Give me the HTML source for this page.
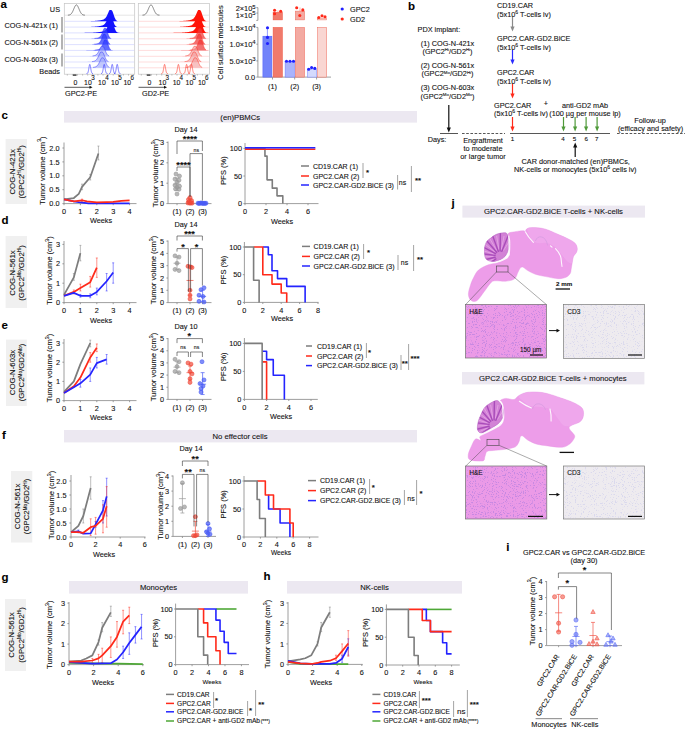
<!DOCTYPE html><html><head><meta charset="utf-8"><style>html,body{margin:0;padding:0;background:#fff;}svg text{stroke:#111;stroke-width:0.1px;}svg{display:block;font-family:"Liberation Sans",sans-serif;}</style></head><body><svg width="685" height="729" viewBox="0 0 685 729" font-family="Liberation Sans, sans-serif"><defs><filter id="speck1" x="0" y="0" width="100%" height="100%" color-interpolation-filters="sRGB"><feTurbulence type="fractalNoise" baseFrequency="0.9" numOctaves="2" seed="1" result="n"/><feColorMatrix in="n" type="matrix" values="0 0 0 0 0  0 0 0 0 0  0 0 0 0 0  -12 0 0 0 5.04" result="a"/><feComposite in="SourceGraphic" in2="a" operator="in"/></filter><filter id="speck2" x="0" y="0" width="100%" height="100%" color-interpolation-filters="sRGB"><feTurbulence type="fractalNoise" baseFrequency="0.9" numOctaves="2" seed="2" result="n"/><feColorMatrix in="n" type="matrix" values="0 0 0 0 0  0 0 0 0 0  0 0 0 0 0  -12 0 0 0 4.8" result="a"/><feComposite in="SourceGraphic" in2="a" operator="in"/></filter><filter id="speck3" x="0" y="0" width="100%" height="100%" color-interpolation-filters="sRGB"><feTurbulence type="fractalNoise" baseFrequency="0.9" numOctaves="2" seed="3" result="n"/><feColorMatrix in="n" type="matrix" values="0 0 0 0 0  0 0 0 0 0  0 0 0 0 0  -12 0 0 0 5.04" result="a"/><feComposite in="SourceGraphic" in2="a" operator="in"/></filter><filter id="speck4" x="0" y="0" width="100%" height="100%" color-interpolation-filters="sRGB"><feTurbulence type="fractalNoise" baseFrequency="0.9" numOctaves="2" seed="4" result="n"/><feColorMatrix in="n" type="matrix" values="0 0 0 0 0  0 0 0 0 0  0 0 0 0 0  -12 0 0 0 4.8" result="a"/><feComposite in="SourceGraphic" in2="a" operator="in"/></filter></defs><rect width="685" height="729" fill="#fff"/><text x="0.5" y="7.8" font-size="11.5" font-weight="bold" text-anchor="start" fill="#000">a</text>
<text x="60" y="12.23" font-size="7.3" text-anchor="end" font-weight="normal" fill="#111">US</text>
<text x="58" y="27.63" font-size="7.3" text-anchor="end" font-weight="normal" fill="#111">COG-N-421x (1)</text>
<text x="58" y="44.63" font-size="7.3" text-anchor="end" font-weight="normal" fill="#111">COG-N-561x (2)</text>
<text x="58" y="61.63" font-size="7.3" text-anchor="end" font-weight="normal" fill="#111">COG-N-603x (3)</text>
<text x="60" y="73.63" font-size="7.3" text-anchor="end" font-weight="normal" fill="#111">Beads</text>
<line x1="62" y1="17" x2="62" y2="32.5" stroke="#8a8a8a" stroke-width="1.3"/>
<line x1="62" y1="34.5" x2="62" y2="49.5" stroke="#8a8a8a" stroke-width="1.3"/>
<line x1="62" y1="53.5" x2="62" y2="66.5" stroke="#8a8a8a" stroke-width="1.3"/>
<rect x="64.3" y="3.5" width="70.4" height="70.7" fill="#fff" stroke="#c4c4c4" stroke-width="0.7"/>
<line x1="64.8" y1="15.2" x2="134.2" y2="15.2" stroke="#c8c8c8" stroke-width="0.5"/>
<line x1="64.8" y1="21.3" x2="134.2" y2="21.3" stroke="#bcc2ff" stroke-width="0.5"/>
<line x1="64.8" y1="27.1" x2="134.2" y2="27.1" stroke="#bcc2ff" stroke-width="0.5"/>
<line x1="64.8" y1="32.9" x2="134.2" y2="32.9" stroke="#bcc2ff" stroke-width="0.5"/>
<line x1="64.8" y1="38.8" x2="134.2" y2="38.8" stroke="#bcc2ff" stroke-width="0.5"/>
<line x1="64.8" y1="44.6" x2="134.2" y2="44.6" stroke="#bcc2ff" stroke-width="0.5"/>
<line x1="64.8" y1="50.4" x2="134.2" y2="50.4" stroke="#bcc2ff" stroke-width="0.5"/>
<line x1="64.8" y1="56.3" x2="134.2" y2="56.3" stroke="#bcc2ff" stroke-width="0.5"/>
<line x1="64.8" y1="62" x2="134.2" y2="62" stroke="#bcc2ff" stroke-width="0.5"/>
<line x1="64.8" y1="67.8" x2="134.2" y2="67.8" stroke="#bcc2ff" stroke-width="0.5"/>
<polyline points="67.9,15.15 68.01,15.14 68.11,15.14 68.22,15.13 68.33,15.12 68.43,15.11 68.54,15.09 68.64,15.08 68.75,15.06 68.86,15.05 68.96,15.03 69.07,15.01 69.18,14.98 69.28,14.96 69.39,14.93 69.49,14.9 69.6,14.86 69.71,14.83 69.81,14.78 69.92,14.74 70.03,14.69 70.13,14.64 70.24,14.58 70.34,14.52 70.45,14.45 70.56,14.38 70.66,14.3 70.77,14.21 70.88,14.12 70.98,14.03 71.09,13.92 71.19,13.81 71.3,13.7 71.41,13.57 71.51,13.44 71.62,13.3 71.73,13.15 71.83,13 71.94,12.84 72.04,12.67 72.15,12.49 72.26,12.31 72.36,12.12 72.47,11.92 72.58,11.71 72.68,11.5 72.79,11.28 72.89,11.05 73,10.82 73.11,10.58 73.21,10.34 73.32,10.1 73.43,9.85 73.53,9.6 73.64,9.34 73.74,9.09 73.85,8.83 73.96,8.58 74.06,8.32 74.17,8.07 74.28,7.82 74.38,7.58 74.49,7.34 74.59,7.11 74.7,6.88 74.81,6.66 74.91,6.45 75.02,6.26 75.12,6.07 75.23,5.89 75.34,5.73 75.44,5.57 75.55,5.44 75.66,5.31 75.76,5.21 75.87,5.11 75.98,5.04 76.08,4.98 76.19,4.93 76.29,4.91 76.4,4.9 76.51,4.91 76.61,4.93 76.72,4.98 76.83,5.04 76.93,5.11 77.04,5.21 77.14,5.31 77.25,5.44 77.36,5.57 77.46,5.73 77.57,5.89 77.68,6.07 77.78,6.26 77.89,6.45 77.99,6.66 78.1,6.88 78.21,7.11 78.31,7.34 78.42,7.58 78.53,7.82 78.63,8.07 78.74,8.32 78.84,8.58 78.95,8.83 79.06,9.09 79.16,9.34 79.27,9.6 79.38,9.85 79.48,10.1 79.59,10.34 79.69,10.58 79.8,10.82 79.91,11.05 80.01,11.28 80.12,11.5 80.23,11.71 80.33,11.92 80.44,12.12 80.54,12.31 80.65,12.49 80.76,12.67 80.86,12.84 80.97,13 81.08,13.15 81.18,13.3 81.29,13.44 81.39,13.57 81.5,13.7 81.61,13.81 81.71,13.92 81.82,14.03 81.93,14.12 82.03,14.21 82.14,14.3 82.24,14.38 82.35,14.45 82.46,14.52 82.56,14.58 82.67,14.64 82.78,14.69 82.88,14.74 82.99,14.78 83.09,14.83 83.2,14.86 83.31,14.9 83.41,14.93 83.52,14.96 83.62,14.98 83.73,15.01 83.84,15.03 83.94,15.05 84.05,15.06 84.16,15.08 84.26,15.09 84.37,15.11 84.48,15.12 84.58,15.13 84.69,15.14 84.79,15.14 84.9,15.15" fill="none" stroke="#222" stroke-width="0.55" stroke-linejoin="round"/>
<path d="M81.4,21.3 L81.4,21.29 L81.91,21.29 L82.43,21.29 L82.94,21.28 L83.45,21.28 L83.96,21.28 L84.48,21.27 L84.99,21.27 L85.5,21.26 L86.01,21.26 L86.53,21.25 L87.04,21.24 L87.55,21.23 L88.06,21.22 L88.58,21.21 L89.09,21.2 L89.6,21.18 L90.11,21.16 L90.62,21.14 L91.14,21.12 L91.65,21.1 L92.16,21.07 L92.68,21.04 L93.19,21.01 L93.7,20.98 L94.21,20.94 L94.73,20.9 L95.24,20.85 L95.75,20.81 L96.26,20.76 L96.78,20.7 L97.29,20.64 L97.8,20.58 L98.31,20.52 L98.83,20.45 L99.34,20.38 L99.85,20.31 L100.36,20.23 L100.88,20.15 L101.39,20.05 L101.9,19.94 L102.41,19.81 L102.93,19.66 L103.44,19.45 L103.95,19.2 L104.46,18.86 L104.98,18.43 L105.49,17.89 L106,17.21 L106.51,16.4 L107.03,15.44 L107.54,14.37 L108.05,13.21 L108.56,12.01 L109.08,10.84 L109.59,10.1 L110.1,10.1 L110.61,10.1 L111.12,10.1 L111.64,10.17 L112.15,10.73 L112.66,11.8 L113.18,13.21 L113.69,14.78 L114.2,16.32 L114.71,17.69 L115.23,18.83 L115.74,19.7 L116.25,20.31 L116.76,20.73 L117.28,20.98 L117.79,21.13 L118.3,21.22 L118.81,21.26 L119.33,21.28 L119.84,21.29 L120.35,21.3 L120.86,21.3 L121.38,21.3 L121.89,21.3 L122.4,21.3 L122.4,21.3 Z" fill="#1414ff" fill-opacity="1" stroke="none"/>
<path d="M80.8,27.1 L80.8,27.09 L81.31,27.09 L81.83,27.09 L82.34,27.08 L82.85,27.08 L83.36,27.08 L83.88,27.07 L84.39,27.07 L84.9,27.06 L85.41,27.06 L85.93,27.05 L86.44,27.04 L86.95,27.03 L87.46,27.02 L87.98,27.01 L88.49,27 L89,26.98 L89.51,26.96 L90.03,26.94 L90.54,26.92 L91.05,26.9 L91.56,26.87 L92.08,26.84 L92.59,26.81 L93.1,26.78 L93.61,26.74 L94.13,26.7 L94.64,26.65 L95.15,26.61 L95.66,26.56 L96.18,26.5 L96.69,26.44 L97.2,26.38 L97.71,26.32 L98.23,26.25 L98.74,26.18 L99.25,26.11 L99.76,26.03 L100.28,25.95 L100.79,25.85 L101.3,25.74 L101.81,25.61 L102.33,25.46 L102.84,25.25 L103.35,25 L103.86,24.66 L104.38,24.23 L104.89,23.69 L105.4,23.01 L105.91,22.2 L106.43,21.24 L106.94,20.17 L107.45,19.01 L107.96,17.81 L108.48,16.64 L108.99,15.9 L109.5,15.9 L110.01,15.9 L110.53,15.9 L111.04,15.97 L111.55,16.53 L112.06,17.6 L112.58,19.01 L113.09,20.58 L113.6,22.12 L114.11,23.49 L114.63,24.63 L115.14,25.5 L115.65,26.11 L116.16,26.53 L116.68,26.78 L117.19,26.93 L117.7,27.02 L118.21,27.06 L118.73,27.08 L119.24,27.09 L119.75,27.1 L120.26,27.1 L120.78,27.1 L121.29,27.1 L121.8,27.1 L121.8,27.1 Z" fill="#1414ff" fill-opacity="1" stroke="none"/>
<path d="M81.8,32.9 L81.8,32.89 L82.31,32.89 L82.83,32.89 L83.34,32.88 L83.85,32.88 L84.36,32.88 L84.88,32.87 L85.39,32.87 L85.9,32.86 L86.41,32.86 L86.93,32.85 L87.44,32.84 L87.95,32.83 L88.46,32.82 L88.98,32.81 L89.49,32.8 L90,32.78 L90.51,32.76 L91.03,32.74 L91.54,32.72 L92.05,32.7 L92.56,32.67 L93.08,32.64 L93.59,32.61 L94.1,32.58 L94.61,32.54 L95.13,32.5 L95.64,32.45 L96.15,32.41 L96.66,32.36 L97.18,32.3 L97.69,32.24 L98.2,32.18 L98.71,32.12 L99.23,32.05 L99.74,31.98 L100.25,31.91 L100.76,31.83 L101.28,31.75 L101.79,31.65 L102.3,31.54 L102.81,31.41 L103.33,31.26 L103.84,31.05 L104.35,30.8 L104.86,30.46 L105.38,30.03 L105.89,29.49 L106.4,28.81 L106.91,28 L107.43,27.04 L107.94,25.97 L108.45,24.81 L108.96,23.61 L109.48,22.44 L109.99,21.7 L110.5,21.7 L111.01,21.7 L111.53,21.7 L112.04,21.77 L112.55,22.33 L113.06,23.4 L113.58,24.81 L114.09,26.38 L114.6,27.92 L115.11,29.29 L115.63,30.43 L116.14,31.3 L116.65,31.91 L117.16,32.33 L117.68,32.58 L118.19,32.73 L118.7,32.82 L119.21,32.86 L119.73,32.88 L120.24,32.89 L120.75,32.9 L121.26,32.9 L121.78,32.9 L122.29,32.9 L122.8,32.9 L122.8,32.9 Z" fill="#1414ff" fill-opacity="1" stroke="none"/>
<path d="M75.4,38.8 L75.4,38.8 L75.91,38.8 L76.43,38.8 L76.94,38.8 L77.45,38.8 L77.96,38.8 L78.48,38.8 L78.99,38.8 L79.5,38.8 L80.01,38.8 L80.53,38.8 L81.04,38.8 L81.55,38.8 L82.06,38.8 L82.58,38.79 L83.09,38.79 L83.6,38.79 L84.11,38.79 L84.62,38.78 L85.14,38.78 L85.65,38.78 L86.16,38.77 L86.68,38.76 L87.19,38.76 L87.7,38.75 L88.21,38.74 L88.73,38.73 L89.24,38.71 L89.75,38.7 L90.26,38.68 L90.78,38.66 L91.29,38.63 L91.8,38.61 L92.31,38.58 L92.83,38.55 L93.34,38.51 L93.85,38.48 L94.36,38.44 L94.88,38.39 L95.39,38.34 L95.9,38.29 L96.41,38.23 L96.93,38.16 L97.44,38.07 L97.95,37.96 L98.46,37.81 L98.98,37.59 L99.49,37.28 L100,36.85 L100.51,36.26 L101.03,35.49 L101.54,34.53 L102.05,33.4 L102.56,32.13 L103.08,30.79 L103.59,29.51 L104.1,28.39 L104.61,28.3 L105.12,28.3 L105.64,28.37 L106.15,28.95 L106.66,30.04 L107.18,31.45 L107.69,33 L108.2,34.48 L108.71,35.77 L109.23,36.8 L109.74,37.56 L110.25,38.07 L110.76,38.4 L111.28,38.59 L111.79,38.7 L112.3,38.75 L112.81,38.78 L113.33,38.79 L113.84,38.8 L114.35,38.8 L114.86,38.8 L115.38,38.8 L115.89,38.8 L116.4,38.8 L116.4,38.8 Z" fill="#3340ff" fill-opacity="0.78" stroke="none"/>
<polyline points="94.36,38.44 94.88,38.39 95.39,38.34 95.9,38.29 96.41,38.23 96.93,38.16 97.44,38.07 97.95,37.96 98.46,37.81 98.98,37.59 99.49,37.28 100,36.85 100.51,36.26 101.03,35.49 101.54,34.53 102.05,33.4 102.56,32.13 103.08,30.79 103.59,29.51 104.1,28.39 104.61,28.3 105.12,28.3 105.64,28.37 106.15,28.95 106.66,30.04 107.18,31.45 107.69,33 108.2,34.48 108.71,35.77 109.23,36.8 109.74,37.56 110.25,38.07 110.76,38.4" fill="none" stroke="#2424ff" stroke-width="0.45" stroke-linejoin="round"/>
<path d="M74.8,44.6 L74.8,44.6 L75.31,44.6 L75.83,44.6 L76.34,44.6 L76.85,44.6 L77.36,44.6 L77.88,44.6 L78.39,44.6 L78.9,44.6 L79.41,44.6 L79.93,44.6 L80.44,44.6 L80.95,44.6 L81.46,44.6 L81.98,44.59 L82.49,44.59 L83,44.59 L83.51,44.59 L84.03,44.58 L84.54,44.58 L85.05,44.58 L85.56,44.57 L86.08,44.56 L86.59,44.56 L87.1,44.55 L87.61,44.54 L88.13,44.53 L88.64,44.51 L89.15,44.5 L89.66,44.48 L90.18,44.46 L90.69,44.43 L91.2,44.41 L91.71,44.38 L92.23,44.35 L92.74,44.31 L93.25,44.28 L93.76,44.24 L94.28,44.19 L94.79,44.14 L95.3,44.09 L95.81,44.03 L96.33,43.96 L96.84,43.87 L97.35,43.76 L97.86,43.61 L98.38,43.39 L98.89,43.08 L99.4,42.65 L99.91,42.06 L100.43,41.29 L100.94,40.33 L101.45,39.2 L101.96,37.93 L102.48,36.59 L102.99,35.31 L103.5,34.19 L104.01,34.1 L104.53,34.1 L105.04,34.17 L105.55,34.75 L106.06,35.84 L106.58,37.25 L107.09,38.8 L107.6,40.28 L108.11,41.57 L108.63,42.6 L109.14,43.36 L109.65,43.87 L110.16,44.2 L110.68,44.39 L111.19,44.5 L111.7,44.55 L112.21,44.58 L112.73,44.59 L113.24,44.6 L113.75,44.6 L114.26,44.6 L114.78,44.6 L115.29,44.6 L115.8,44.6 L115.8,44.6 Z" fill="#3340ff" fill-opacity="0.78" stroke="none"/>
<polyline points="93.76,44.24 94.28,44.19 94.79,44.14 95.3,44.09 95.81,44.03 96.33,43.96 96.84,43.87 97.35,43.76 97.86,43.61 98.38,43.39 98.89,43.08 99.4,42.65 99.91,42.06 100.43,41.29 100.94,40.33 101.45,39.2 101.96,37.93 102.48,36.59 102.99,35.31 103.5,34.19 104.01,34.1 104.53,34.1 105.04,34.17 105.55,34.75 106.06,35.84 106.58,37.25 107.09,38.8 107.6,40.28 108.11,41.57 108.63,42.6 109.14,43.36 109.65,43.87 110.16,44.2" fill="none" stroke="#2424ff" stroke-width="0.45" stroke-linejoin="round"/>
<path d="M75.8,50.4 L75.8,50.4 L76.31,50.4 L76.83,50.4 L77.34,50.4 L77.85,50.4 L78.36,50.4 L78.88,50.4 L79.39,50.4 L79.9,50.4 L80.41,50.4 L80.93,50.4 L81.44,50.4 L81.95,50.4 L82.46,50.4 L82.98,50.39 L83.49,50.39 L84,50.39 L84.51,50.39 L85.03,50.38 L85.54,50.38 L86.05,50.38 L86.56,50.37 L87.08,50.36 L87.59,50.36 L88.1,50.35 L88.61,50.34 L89.13,50.33 L89.64,50.31 L90.15,50.3 L90.66,50.28 L91.18,50.26 L91.69,50.23 L92.2,50.21 L92.71,50.18 L93.23,50.15 L93.74,50.11 L94.25,50.08 L94.76,50.04 L95.28,49.99 L95.79,49.94 L96.3,49.89 L96.81,49.83 L97.33,49.76 L97.84,49.67 L98.35,49.56 L98.86,49.41 L99.38,49.19 L99.89,48.88 L100.4,48.45 L100.91,47.86 L101.43,47.09 L101.94,46.13 L102.45,45 L102.96,43.73 L103.48,42.39 L103.99,41.11 L104.5,39.99 L105.01,39.9 L105.53,39.9 L106.04,39.97 L106.55,40.55 L107.06,41.64 L107.58,43.05 L108.09,44.6 L108.6,46.08 L109.11,47.37 L109.63,48.4 L110.14,49.16 L110.65,49.67 L111.16,50 L111.68,50.19 L112.19,50.3 L112.7,50.35 L113.21,50.38 L113.73,50.39 L114.24,50.4 L114.75,50.4 L115.26,50.4 L115.78,50.4 L116.29,50.4 L116.8,50.4 L116.8,50.4 Z" fill="#3340ff" fill-opacity="0.78" stroke="none"/>
<polyline points="94.76,50.04 95.28,49.99 95.79,49.94 96.3,49.89 96.81,49.83 97.33,49.76 97.84,49.67 98.35,49.56 98.86,49.41 99.38,49.19 99.89,48.88 100.4,48.45 100.91,47.86 101.43,47.09 101.94,46.13 102.45,45 102.96,43.73 103.48,42.39 103.99,41.11 104.5,39.99 105.01,39.9 105.53,39.9 106.04,39.97 106.55,40.55 107.06,41.64 107.58,43.05 108.09,44.6 108.6,46.08 109.11,47.37 109.63,48.4 110.14,49.16 110.65,49.67 111.16,50" fill="none" stroke="#2424ff" stroke-width="0.45" stroke-linejoin="round"/>
<path d="M72.6,56.3 L72.6,56.3 L73.11,56.3 L73.62,56.3 L74.14,56.3 L74.65,56.3 L75.16,56.3 L75.67,56.3 L76.19,56.3 L76.7,56.3 L77.21,56.3 L77.72,56.3 L78.24,56.3 L78.75,56.3 L79.26,56.3 L79.77,56.3 L80.29,56.29 L80.8,56.29 L81.31,56.29 L81.82,56.29 L82.34,56.28 L82.85,56.28 L83.36,56.28 L83.88,56.27 L84.39,56.27 L84.9,56.26 L85.41,56.25 L85.92,56.24 L86.44,56.23 L86.95,56.22 L87.46,56.2 L87.97,56.19 L88.49,56.17 L89,56.15 L89.51,56.13 L90.02,56.1 L90.54,56.07 L91.05,56.04 L91.56,56 L92.07,55.96 L92.59,55.91 L93.1,55.86 L93.61,55.78 L94.12,55.68 L94.64,55.55 L95.15,55.36 L95.66,55.12 L96.17,54.78 L96.69,54.35 L97.2,53.79 L97.71,53.1 L98.22,52.27 L98.74,51.32 L99.25,50.28 L99.76,49.18 L100.27,48.1 L100.79,47.11 L101.3,46.3 L101.81,46.3 L102.32,46.3 L102.84,46.35 L103.35,46.74 L103.86,47.5 L104.38,48.53 L104.89,49.72 L105.4,50.96 L105.91,52.14 L106.42,53.2 L106.94,54.08 L107.45,54.78 L107.96,55.3 L108.47,55.67 L108.99,55.92 L109.5,56.08 L110.01,56.18 L110.52,56.23 L111.04,56.27 L111.55,56.28 L112.06,56.29 L112.57,56.3 L113.09,56.3 L113.6,56.3 L113.6,56.3 Z" fill="#9aa4fa" fill-opacity="0.6" stroke="none"/>
<polyline points="92.59,55.91 93.1,55.86 93.61,55.78 94.12,55.68 94.64,55.55 95.15,55.36 95.66,55.12 96.17,54.78 96.69,54.35 97.2,53.79 97.71,53.1 98.22,52.27 98.74,51.32 99.25,50.28 99.76,49.18 100.27,48.1 100.79,47.11 101.3,46.3 101.81,46.3 102.32,46.3 102.84,46.35 103.35,46.74 103.86,47.5 104.38,48.53 104.89,49.72 105.4,50.96 105.91,52.14 106.42,53.2 106.94,54.08 107.45,54.78 107.96,55.3 108.47,55.67 108.99,55.92" fill="none" stroke="#2424ff" stroke-width="0.45" stroke-linejoin="round"/>
<path d="M72,62 L72,62 L72.51,62 L73.03,62 L73.54,62 L74.05,62 L74.56,62 L75.08,62 L75.59,62 L76.1,62 L76.61,62 L77.12,62 L77.64,62 L78.15,62 L78.66,62 L79.17,62 L79.69,61.99 L80.2,61.99 L80.71,61.99 L81.22,61.99 L81.74,61.98 L82.25,61.98 L82.76,61.98 L83.28,61.97 L83.79,61.97 L84.3,61.96 L84.81,61.95 L85.33,61.94 L85.84,61.93 L86.35,61.92 L86.86,61.9 L87.38,61.89 L87.89,61.87 L88.4,61.85 L88.91,61.83 L89.42,61.8 L89.94,61.77 L90.45,61.74 L90.96,61.7 L91.47,61.66 L91.99,61.61 L92.5,61.56 L93.01,61.48 L93.53,61.38 L94.04,61.25 L94.55,61.06 L95.06,60.82 L95.58,60.48 L96.09,60.05 L96.6,59.49 L97.11,58.8 L97.62,57.97 L98.14,57.02 L98.65,55.98 L99.16,54.88 L99.67,53.8 L100.19,52.81 L100.7,52 L101.21,52 L101.72,52 L102.24,52.05 L102.75,52.44 L103.26,53.2 L103.78,54.23 L104.29,55.42 L104.8,56.66 L105.31,57.84 L105.83,58.9 L106.34,59.78 L106.85,60.48 L107.36,61 L107.88,61.37 L108.39,61.62 L108.9,61.78 L109.41,61.88 L109.92,61.93 L110.44,61.97 L110.95,61.98 L111.46,61.99 L111.97,62 L112.49,62 L113,62 L113,62 Z" fill="#9aa4fa" fill-opacity="0.6" stroke="none"/>
<polyline points="91.99,61.61 92.5,61.56 93.01,61.48 93.53,61.38 94.04,61.25 94.55,61.06 95.06,60.82 95.58,60.48 96.09,60.05 96.6,59.49 97.11,58.8 97.62,57.97 98.14,57.02 98.65,55.98 99.16,54.88 99.67,53.8 100.19,52.81 100.7,52 101.21,52 101.72,52 102.24,52.05 102.75,52.44 103.26,53.2 103.78,54.23 104.29,55.42 104.8,56.66 105.31,57.84 105.83,58.9 106.34,59.78 106.85,60.48 107.36,61 107.88,61.37 108.39,61.62" fill="none" stroke="#2424ff" stroke-width="0.45" stroke-linejoin="round"/>
<path d="M73,67.8 L73,67.8 L73.51,67.8 L74.03,67.8 L74.54,67.8 L75.05,67.8 L75.56,67.8 L76.08,67.8 L76.59,67.8 L77.1,67.8 L77.61,67.8 L78.12,67.8 L78.64,67.8 L79.15,67.8 L79.66,67.8 L80.17,67.8 L80.69,67.79 L81.2,67.79 L81.71,67.79 L82.22,67.79 L82.74,67.78 L83.25,67.78 L83.76,67.78 L84.28,67.77 L84.79,67.77 L85.3,67.76 L85.81,67.75 L86.33,67.74 L86.84,67.73 L87.35,67.72 L87.86,67.7 L88.38,67.69 L88.89,67.67 L89.4,67.65 L89.91,67.63 L90.42,67.6 L90.94,67.57 L91.45,67.54 L91.96,67.5 L92.47,67.46 L92.99,67.41 L93.5,67.36 L94.01,67.28 L94.53,67.18 L95.04,67.05 L95.55,66.86 L96.06,66.62 L96.58,66.28 L97.09,65.85 L97.6,65.29 L98.11,64.6 L98.62,63.77 L99.14,62.82 L99.65,61.78 L100.16,60.68 L100.67,59.6 L101.19,58.61 L101.7,57.8 L102.21,57.8 L102.72,57.8 L103.24,57.85 L103.75,58.24 L104.26,59 L104.78,60.03 L105.29,61.22 L105.8,62.46 L106.31,63.64 L106.83,64.7 L107.34,65.58 L107.85,66.28 L108.36,66.8 L108.88,67.17 L109.39,67.42 L109.9,67.58 L110.41,67.68 L110.92,67.73 L111.44,67.77 L111.95,67.78 L112.46,67.79 L112.97,67.8 L113.49,67.8 L114,67.8 L114,67.8 Z" fill="#9aa4fa" fill-opacity="0.6" stroke="none"/>
<polyline points="92.99,67.41 93.5,67.36 94.01,67.28 94.53,67.18 95.04,67.05 95.55,66.86 96.06,66.62 96.58,66.28 97.09,65.85 97.6,65.29 98.11,64.6 98.62,63.77 99.14,62.82 99.65,61.78 100.16,60.68 100.67,59.6 101.19,58.61 101.7,57.8 102.21,57.8 102.72,57.8 103.24,57.85 103.75,58.24 104.26,59 104.78,60.03 105.29,61.22 105.8,62.46 106.31,63.64 106.83,64.7 107.34,65.58 107.85,66.28 108.36,66.8 108.88,67.17 109.39,67.42" fill="none" stroke="#2424ff" stroke-width="0.45" stroke-linejoin="round"/>
<polyline points="86.6,73.58 86.64,73.58 86.68,73.58 86.72,73.57 86.76,73.57 86.8,73.56 86.84,73.56 86.88,73.55 86.92,73.55 86.96,73.54 87,73.53 87.04,73.52 87.08,73.5 87.12,73.49 87.16,73.48 87.2,73.46 87.24,73.44 87.28,73.42 87.32,73.39 87.36,73.37 87.4,73.34 87.44,73.3 87.48,73.27 87.52,73.23 87.56,73.18 87.6,73.14 87.64,73.08 87.68,73.03 87.72,72.96 87.76,72.9 87.8,72.82 87.84,72.74 87.88,72.65 87.92,72.56 87.96,72.46 88,72.35 88.04,72.24 88.08,72.12 88.12,71.99 88.16,71.85 88.2,71.71 88.24,71.55 88.28,71.39 88.32,71.22 88.36,71.04 88.4,70.86 88.44,70.66 88.48,70.46 88.52,70.25 88.56,70.04 88.6,69.82 88.64,69.59 88.68,69.36 88.72,69.12 88.76,68.88 88.8,68.64 88.84,68.39 88.88,68.14 88.92,67.9 88.96,67.65 89,67.4 89.04,67.16 89.08,66.92 89.12,66.68 89.16,66.46 89.2,66.23 89.24,66.02 89.28,65.81 89.32,65.62 89.36,65.44 89.4,65.27 89.44,65.11 89.48,64.96 89.52,64.83 89.56,64.72 89.6,64.62 89.64,64.54 89.68,64.48 89.72,64.44 89.76,64.41 89.8,64.4 89.84,64.41 89.88,64.44 89.92,64.48 89.96,64.54 90,64.62 90.04,64.72 90.08,64.83 90.12,64.96 90.16,65.11 90.2,65.27 90.24,65.44 90.28,65.62 90.32,65.81 90.36,66.02 90.4,66.23 90.44,66.46 90.48,66.68 90.52,66.92 90.56,67.16 90.6,67.4 90.64,67.65 90.68,67.9 90.72,68.14 90.76,68.39 90.8,68.64 90.84,68.88 90.88,69.12 90.92,69.36 90.96,69.59 91,69.82 91.04,70.04 91.08,70.25 91.12,70.46 91.16,70.66 91.2,70.86 91.24,71.04 91.28,71.22 91.32,71.39 91.36,71.55 91.4,71.71 91.44,71.85 91.48,71.99 91.52,72.12 91.56,72.24 91.6,72.35 91.64,72.46 91.68,72.56 91.72,72.65 91.76,72.74 91.8,72.82 91.84,72.9 91.88,72.96 91.92,73.03 91.96,73.08 92,73.14 92.04,73.18 92.08,73.23 92.12,73.27 92.16,73.3 92.2,73.34 92.24,73.37 92.28,73.39 92.32,73.42 92.36,73.44 92.4,73.46 92.44,73.48 92.48,73.49 92.52,73.5 92.56,73.52 92.6,73.53 92.64,73.54 92.68,73.55 92.72,73.55 92.76,73.56 92.8,73.56 92.84,73.57 92.88,73.57 92.92,73.58 92.96,73.58 93,73.58" fill="none" stroke="#2424ff" stroke-width="0.6" stroke-linejoin="round"/>
<polyline points="101,73.58 101.04,73.58 101.08,73.58 101.12,73.57 101.16,73.57 101.2,73.56 101.24,73.56 101.28,73.55 101.32,73.55 101.36,73.54 101.4,73.53 101.44,73.52 101.48,73.5 101.52,73.49 101.56,73.48 101.6,73.46 101.64,73.44 101.68,73.42 101.72,73.39 101.76,73.37 101.8,73.34 101.84,73.3 101.88,73.27 101.92,73.23 101.96,73.18 102,73.14 102.04,73.08 102.08,73.03 102.12,72.96 102.16,72.9 102.2,72.82 102.24,72.74 102.28,72.65 102.32,72.56 102.36,72.46 102.4,72.35 102.44,72.24 102.48,72.12 102.52,71.99 102.56,71.85 102.6,71.71 102.64,71.55 102.68,71.39 102.72,71.22 102.76,71.04 102.8,70.86 102.84,70.66 102.88,70.46 102.92,70.25 102.96,70.04 103,69.82 103.04,69.59 103.08,69.36 103.12,69.12 103.16,68.88 103.2,68.64 103.24,68.39 103.28,68.14 103.32,67.9 103.36,67.65 103.4,67.4 103.44,67.16 103.48,66.92 103.52,66.68 103.56,66.46 103.6,66.23 103.64,66.02 103.68,65.81 103.72,65.62 103.76,65.44 103.8,65.27 103.84,65.11 103.88,64.96 103.92,64.83 103.96,64.72 104,64.62 104.04,64.54 104.08,64.48 104.12,64.44 104.16,64.41 104.2,64.4 104.24,64.41 104.28,64.44 104.32,64.48 104.36,64.54 104.4,64.62 104.44,64.72 104.48,64.83 104.52,64.96 104.56,65.11 104.6,65.27 104.64,65.44 104.68,65.62 104.72,65.81 104.76,66.02 104.8,66.23 104.84,66.46 104.88,66.68 104.92,66.92 104.96,67.16 105,67.4 105.04,67.65 105.08,67.9 105.12,68.14 105.16,68.39 105.2,68.64 105.24,68.88 105.28,69.12 105.32,69.36 105.36,69.59 105.4,69.82 105.44,70.04 105.48,70.25 105.52,70.46 105.56,70.66 105.6,70.86 105.64,71.04 105.68,71.22 105.72,71.39 105.76,71.55 105.8,71.71 105.84,71.85 105.88,71.99 105.92,72.12 105.96,72.24 106,72.35 106.04,72.46 106.08,72.56 106.12,72.65 106.16,72.74 106.2,72.82 106.24,72.9 106.28,72.96 106.32,73.03 106.36,73.08 106.4,73.14 106.44,73.18 106.48,73.23 106.52,73.27 106.56,73.3 106.6,73.34 106.64,73.37 106.68,73.39 106.72,73.42 106.76,73.44 106.8,73.46 106.84,73.48 106.88,73.49 106.92,73.5 106.96,73.52 107,73.53 107.04,73.54 107.08,73.55 107.12,73.55 107.16,73.56 107.2,73.56 107.24,73.57 107.28,73.57 107.32,73.58 107.36,73.58 107.4,73.58" fill="none" stroke="#2424ff" stroke-width="0.6" stroke-linejoin="round"/>
<polyline points="109,73.58 109.04,73.58 109.08,73.58 109.12,73.57 109.16,73.57 109.2,73.56 109.24,73.56 109.28,73.55 109.32,73.55 109.36,73.54 109.4,73.53 109.44,73.52 109.48,73.5 109.52,73.49 109.56,73.48 109.6,73.46 109.64,73.44 109.68,73.42 109.72,73.39 109.76,73.37 109.8,73.34 109.84,73.3 109.88,73.27 109.92,73.23 109.96,73.18 110,73.14 110.04,73.08 110.08,73.03 110.12,72.96 110.16,72.9 110.2,72.82 110.24,72.74 110.28,72.65 110.32,72.56 110.36,72.46 110.4,72.35 110.44,72.24 110.48,72.12 110.52,71.99 110.56,71.85 110.6,71.71 110.64,71.55 110.68,71.39 110.72,71.22 110.76,71.04 110.8,70.86 110.84,70.66 110.88,70.46 110.92,70.25 110.96,70.04 111,69.82 111.04,69.59 111.08,69.36 111.12,69.12 111.16,68.88 111.2,68.64 111.24,68.39 111.28,68.14 111.32,67.9 111.36,67.65 111.4,67.4 111.44,67.16 111.48,66.92 111.52,66.68 111.56,66.46 111.6,66.23 111.64,66.02 111.68,65.81 111.72,65.62 111.76,65.44 111.8,65.27 111.84,65.11 111.88,64.96 111.92,64.83 111.96,64.72 112,64.62 112.04,64.54 112.08,64.48 112.12,64.44 112.16,64.41 112.2,64.4 112.24,64.41 112.28,64.44 112.32,64.48 112.36,64.54 112.4,64.62 112.44,64.72 112.48,64.83 112.52,64.96 112.56,65.11 112.6,65.27 112.64,65.44 112.68,65.62 112.72,65.81 112.76,66.02 112.8,66.23 112.84,66.46 112.88,66.68 112.92,66.92 112.96,67.16 113,67.4 113.04,67.65 113.08,67.9 113.12,68.14 113.16,68.39 113.2,68.64 113.24,68.88 113.28,69.12 113.32,69.36 113.36,69.59 113.4,69.82 113.44,70.04 113.48,70.25 113.52,70.46 113.56,70.66 113.6,70.86 113.64,71.04 113.68,71.22 113.72,71.39 113.76,71.55 113.8,71.71 113.84,71.85 113.88,71.99 113.92,72.12 113.96,72.24 114,72.35 114.04,72.46 114.08,72.56 114.12,72.65 114.16,72.74 114.2,72.82 114.24,72.9 114.28,72.96 114.32,73.03 114.36,73.08 114.4,73.14 114.44,73.18 114.48,73.23 114.52,73.27 114.56,73.3 114.6,73.34 114.64,73.37 114.68,73.39 114.72,73.42 114.76,73.44 114.8,73.46 114.84,73.48 114.88,73.49 114.92,73.5 114.96,73.52 115,73.53 115.04,73.54 115.08,73.55 115.12,73.55 115.16,73.56 115.2,73.56 115.24,73.57 115.28,73.57 115.32,73.58 115.36,73.58 115.4,73.58" fill="none" stroke="#2424ff" stroke-width="0.6" stroke-linejoin="round"/>
<polyline points="114,73.58 114.04,73.58 114.08,73.58 114.12,73.57 114.16,73.57 114.2,73.56 114.24,73.56 114.28,73.55 114.32,73.55 114.36,73.54 114.4,73.53 114.44,73.52 114.48,73.5 114.52,73.49 114.56,73.48 114.6,73.46 114.64,73.44 114.68,73.42 114.72,73.39 114.76,73.37 114.8,73.34 114.84,73.3 114.88,73.27 114.92,73.23 114.96,73.18 115,73.14 115.04,73.08 115.08,73.03 115.12,72.96 115.16,72.9 115.2,72.82 115.24,72.74 115.28,72.65 115.32,72.56 115.36,72.46 115.4,72.35 115.44,72.24 115.48,72.12 115.52,71.99 115.56,71.85 115.6,71.71 115.64,71.55 115.68,71.39 115.72,71.22 115.76,71.04 115.8,70.86 115.84,70.66 115.88,70.46 115.92,70.25 115.96,70.04 116,69.82 116.04,69.59 116.08,69.36 116.12,69.12 116.16,68.88 116.2,68.64 116.24,68.39 116.28,68.14 116.32,67.9 116.36,67.65 116.4,67.4 116.44,67.16 116.48,66.92 116.52,66.68 116.56,66.46 116.6,66.23 116.64,66.02 116.68,65.81 116.72,65.62 116.76,65.44 116.8,65.27 116.84,65.11 116.88,64.96 116.92,64.83 116.96,64.72 117,64.62 117.04,64.54 117.08,64.48 117.12,64.44 117.16,64.41 117.2,64.4 117.24,64.41 117.28,64.44 117.32,64.48 117.36,64.54 117.4,64.62 117.44,64.72 117.48,64.83 117.52,64.96 117.56,65.11 117.6,65.27 117.64,65.44 117.68,65.62 117.72,65.81 117.76,66.02 117.8,66.23 117.84,66.46 117.88,66.68 117.92,66.92 117.96,67.16 118,67.4 118.04,67.65 118.08,67.9 118.12,68.14 118.16,68.39 118.2,68.64 118.24,68.88 118.28,69.12 118.32,69.36 118.36,69.59 118.4,69.82 118.44,70.04 118.48,70.25 118.52,70.46 118.56,70.66 118.6,70.86 118.64,71.04 118.68,71.22 118.72,71.39 118.76,71.55 118.8,71.71 118.84,71.85 118.88,71.99 118.92,72.12 118.96,72.24 119,72.35 119.04,72.46 119.08,72.56 119.12,72.65 119.16,72.74 119.2,72.82 119.24,72.9 119.28,72.96 119.32,73.03 119.36,73.08 119.4,73.14 119.44,73.18 119.48,73.23 119.52,73.27 119.56,73.3 119.6,73.34 119.64,73.37 119.68,73.39 119.72,73.42 119.76,73.44 119.8,73.46 119.84,73.48 119.88,73.49 119.92,73.5 119.96,73.52 120,73.53 120.04,73.54 120.08,73.55 120.12,73.55 120.16,73.56 120.2,73.56 120.24,73.57 120.28,73.57 120.32,73.58 120.36,73.58 120.4,73.58" fill="none" stroke="#2424ff" stroke-width="0.6" stroke-linejoin="round"/>
<rect x="72.9" y="74.4" width="3.6" height="1.4" fill="#333" stroke="none" stroke-width="0"/>
<line x1="67.3" y1="74.2" x2="67.3" y2="75.6" stroke="#888" stroke-width="0.5"/>
<line x1="72.4" y1="74.2" x2="72.4" y2="75.6" stroke="#888" stroke-width="0.5"/>
<line x1="77.5" y1="74.2" x2="77.5" y2="75.6" stroke="#888" stroke-width="0.5"/>
<line x1="82.6" y1="74.2" x2="82.6" y2="75.6" stroke="#888" stroke-width="0.5"/>
<line x1="87.7" y1="74.2" x2="87.7" y2="75.6" stroke="#888" stroke-width="0.5"/>
<line x1="92.8" y1="74.2" x2="92.8" y2="75.6" stroke="#888" stroke-width="0.5"/>
<line x1="97.9" y1="74.2" x2="97.9" y2="75.6" stroke="#888" stroke-width="0.5"/>
<line x1="103" y1="74.2" x2="103" y2="75.6" stroke="#888" stroke-width="0.5"/>
<line x1="108.1" y1="74.2" x2="108.1" y2="75.6" stroke="#888" stroke-width="0.5"/>
<line x1="113.2" y1="74.2" x2="113.2" y2="75.6" stroke="#888" stroke-width="0.5"/>
<line x1="118.3" y1="74.2" x2="118.3" y2="75.6" stroke="#888" stroke-width="0.5"/>
<line x1="123.4" y1="74.2" x2="123.4" y2="75.6" stroke="#888" stroke-width="0.5"/>
<line x1="128.5" y1="74.2" x2="128.5" y2="75.6" stroke="#888" stroke-width="0.5"/>
<line x1="133.6" y1="74.2" x2="133.6" y2="75.6" stroke="#888" stroke-width="0.5"/>
<rect x="138.3" y="3.5" width="71.1" height="70.7" fill="#fff" stroke="#c4c4c4" stroke-width="0.7"/>
<line x1="138.8" y1="15.2" x2="208.9" y2="15.2" stroke="#c8c8c8" stroke-width="0.5"/>
<line x1="138.8" y1="21.3" x2="208.9" y2="21.3" stroke="#ffb8b8" stroke-width="0.5"/>
<line x1="138.8" y1="27.1" x2="208.9" y2="27.1" stroke="#ffb8b8" stroke-width="0.5"/>
<line x1="138.8" y1="32.9" x2="208.9" y2="32.9" stroke="#ffb8b8" stroke-width="0.5"/>
<line x1="138.8" y1="38.8" x2="208.9" y2="38.8" stroke="#ffb8b8" stroke-width="0.5"/>
<line x1="138.8" y1="44.6" x2="208.9" y2="44.6" stroke="#ffb8b8" stroke-width="0.5"/>
<line x1="138.8" y1="50.4" x2="208.9" y2="50.4" stroke="#ffb8b8" stroke-width="0.5"/>
<line x1="138.8" y1="56.3" x2="208.9" y2="56.3" stroke="#ffb8b8" stroke-width="0.5"/>
<line x1="138.8" y1="62" x2="208.9" y2="62" stroke="#ffb8b8" stroke-width="0.5"/>
<line x1="138.8" y1="67.8" x2="208.9" y2="67.8" stroke="#ffb8b8" stroke-width="0.5"/>
<polyline points="142.5,15.15 142.61,15.14 142.71,15.14 142.82,15.13 142.93,15.12 143.03,15.11 143.14,15.09 143.24,15.08 143.35,15.06 143.46,15.05 143.56,15.03 143.67,15.01 143.78,14.98 143.88,14.96 143.99,14.93 144.09,14.9 144.2,14.86 144.31,14.83 144.41,14.78 144.52,14.74 144.62,14.69 144.73,14.64 144.84,14.58 144.94,14.52 145.05,14.45 145.16,14.38 145.26,14.3 145.37,14.21 145.47,14.12 145.58,14.03 145.69,13.92 145.79,13.81 145.9,13.7 146.01,13.57 146.11,13.44 146.22,13.3 146.32,13.15 146.43,13 146.54,12.84 146.64,12.67 146.75,12.49 146.86,12.31 146.96,12.12 147.07,11.92 147.18,11.71 147.28,11.5 147.39,11.28 147.49,11.05 147.6,10.82 147.71,10.58 147.81,10.34 147.92,10.1 148.03,9.85 148.13,9.6 148.24,9.34 148.34,9.09 148.45,8.83 148.56,8.58 148.66,8.32 148.77,8.07 148.88,7.82 148.98,7.58 149.09,7.34 149.19,7.11 149.3,6.88 149.41,6.66 149.51,6.45 149.62,6.26 149.72,6.07 149.83,5.89 149.94,5.73 150.04,5.57 150.15,5.44 150.26,5.31 150.36,5.21 150.47,5.11 150.57,5.04 150.68,4.98 150.79,4.93 150.89,4.91 151,4.9 151.11,4.91 151.21,4.93 151.32,4.98 151.43,5.04 151.53,5.11 151.64,5.21 151.74,5.31 151.85,5.44 151.96,5.57 152.06,5.73 152.17,5.89 152.28,6.07 152.38,6.26 152.49,6.45 152.59,6.66 152.7,6.88 152.81,7.11 152.91,7.34 153.02,7.58 153.12,7.82 153.23,8.07 153.34,8.32 153.44,8.58 153.55,8.83 153.66,9.09 153.76,9.34 153.87,9.6 153.97,9.85 154.08,10.1 154.19,10.34 154.29,10.58 154.4,10.82 154.51,11.05 154.61,11.28 154.72,11.5 154.82,11.71 154.93,11.92 155.04,12.12 155.14,12.31 155.25,12.49 155.36,12.67 155.46,12.84 155.57,13 155.68,13.15 155.78,13.3 155.89,13.44 155.99,13.57 156.1,13.7 156.21,13.81 156.31,13.92 156.42,14.03 156.53,14.12 156.63,14.21 156.74,14.3 156.84,14.38 156.95,14.45 157.06,14.52 157.16,14.58 157.27,14.64 157.38,14.69 157.48,14.74 157.59,14.78 157.69,14.83 157.8,14.86 157.91,14.9 158.01,14.93 158.12,14.96 158.22,14.98 158.33,15.01 158.44,15.03 158.54,15.05 158.65,15.06 158.76,15.08 158.86,15.09 158.97,15.11 159.07,15.12 159.18,15.13 159.29,15.14 159.39,15.14 159.5,15.15" fill="none" stroke="#222" stroke-width="0.55" stroke-linejoin="round"/>
<path d="M170,21.3 L170,21.29 L170.49,21.29 L170.97,21.29 L171.46,21.29 L171.94,21.28 L172.43,21.28 L172.92,21.28 L173.4,21.27 L173.89,21.27 L174.38,21.26 L174.86,21.25 L175.35,21.25 L175.84,21.24 L176.32,21.23 L176.81,21.22 L177.29,21.21 L177.78,21.19 L178.27,21.18 L178.75,21.16 L179.24,21.14 L179.72,21.12 L180.21,21.1 L180.7,21.08 L181.18,21.05 L181.67,21.02 L182.16,20.99 L182.64,20.95 L183.13,20.91 L183.62,20.87 L184.1,20.83 L184.59,20.78 L185.07,20.73 L185.56,20.68 L186.05,20.63 L186.53,20.57 L187.02,20.51 L187.5,20.44 L187.99,20.38 L188.48,20.31 L188.96,20.23 L189.45,20.15 L189.94,20.06 L190.42,19.96 L190.91,19.84 L191.4,19.7 L191.88,19.52 L192.37,19.3 L192.85,19.01 L193.34,18.64 L193.83,18.18 L194.31,17.61 L194.8,16.91 L195.28,16.09 L195.77,15.15 L196.26,14.1 L196.74,12.99 L197.23,11.85 L197.72,10.75 L198.2,10.1 L198.69,10.1 L199.18,10.1 L199.66,10.1 L200.15,10.13 L200.63,10.56 L201.12,11.46 L201.61,12.72 L202.09,14.18 L202.58,15.67 L203.06,17.06 L203.55,18.26 L204.04,19.22 L204.52,19.95 L205.01,20.46 L205.5,20.81 L205.98,21.02 L206.47,21.15 L206.96,21.22 L207.44,21.26 L207.93,21.28 L208.41,21.29 L208.9,21.3 L208.9,21.3 Z" fill="#ff1408" fill-opacity="1" stroke="none"/>
<path d="M169.4,27.1 L169.4,27.09 L169.89,27.09 L170.39,27.09 L170.88,27.09 L171.38,27.08 L171.87,27.08 L172.36,27.08 L172.86,27.07 L173.35,27.07 L173.84,27.06 L174.34,27.05 L174.83,27.05 L175.33,27.04 L175.82,27.03 L176.31,27.02 L176.81,27 L177.3,26.99 L177.79,26.97 L178.29,26.96 L178.78,26.94 L179.28,26.92 L179.77,26.89 L180.26,26.87 L180.76,26.84 L181.25,26.81 L181.74,26.77 L182.24,26.74 L182.73,26.7 L183.22,26.65 L183.72,26.61 L184.21,26.56 L184.71,26.51 L185.2,26.45 L185.69,26.4 L186.19,26.34 L186.68,26.27 L187.18,26.21 L187.67,26.14 L188.16,26.06 L188.66,25.98 L189.15,25.9 L189.64,25.8 L190.14,25.69 L190.63,25.55 L191.12,25.38 L191.62,25.17 L192.11,24.9 L192.61,24.55 L193.1,24.11 L193.59,23.56 L194.09,22.88 L194.58,22.08 L195.08,21.14 L195.57,20.1 L196.06,18.98 L196.56,17.82 L197.05,16.69 L197.54,15.9 L198.04,15.9 L198.53,15.9 L199.03,15.9 L199.52,15.92 L200.01,16.33 L200.51,17.23 L201,18.5 L201.49,19.98 L201.99,21.49 L202.48,22.9 L202.98,24.11 L203.47,25.07 L203.96,25.8 L204.46,26.3 L204.95,26.64 L205.44,26.84 L205.94,26.96 L206.43,27.03 L206.93,27.07 L207.42,27.09 L207.91,27.09 L208.41,27.1 L208.9,27.1 L208.9,27.1 Z" fill="#ff1408" fill-opacity="1" stroke="none"/>
<path d="M170.4,32.9 L170.4,32.89 L170.88,32.89 L171.36,32.89 L171.84,32.89 L172.33,32.88 L172.81,32.88 L173.29,32.88 L173.77,32.87 L174.25,32.87 L174.73,32.86 L175.21,32.86 L175.69,32.85 L176.18,32.84 L176.66,32.83 L177.14,32.82 L177.62,32.81 L178.1,32.8 L178.58,32.78 L179.06,32.77 L179.54,32.75 L180.03,32.73 L180.51,32.71 L180.99,32.68 L181.47,32.65 L181.95,32.63 L182.43,32.59 L182.91,32.56 L183.39,32.52 L183.88,32.48 L184.36,32.44 L184.84,32.4 L185.32,32.35 L185.8,32.3 L186.28,32.25 L186.76,32.19 L187.24,32.13 L187.72,32.07 L188.21,32 L188.69,31.93 L189.17,31.86 L189.65,31.78 L190.13,31.7 L190.61,31.61 L191.09,31.5 L191.58,31.37 L192.06,31.21 L192.54,31.01 L193.02,30.76 L193.5,30.44 L193.98,30.03 L194.46,29.52 L194.94,28.89 L195.43,28.15 L195.91,27.28 L196.39,26.29 L196.87,25.22 L197.35,24.11 L197.83,22.99 L198.31,21.93 L198.79,21.7 L199.28,21.7 L199.76,21.7 L200.24,21.7 L200.72,21.82 L201.2,22.42 L201.68,23.45 L202.16,24.77 L202.64,26.24 L203.12,27.7 L203.61,29.03 L204.09,30.15 L204.57,31.04 L205.05,31.7 L205.53,32.16 L206.01,32.47 L206.49,32.66 L206.98,32.77 L207.46,32.83 L207.94,32.87 L208.42,32.89 L208.9,32.89 L208.9,32.9 Z" fill="#ff1408" fill-opacity="1" stroke="none"/>
<path d="M170.4,38.8 L170.4,38.8 L170.88,38.8 L171.36,38.8 L171.84,38.8 L172.33,38.8 L172.81,38.8 L173.29,38.8 L173.77,38.8 L174.25,38.8 L174.73,38.8 L175.21,38.8 L175.69,38.8 L176.18,38.8 L176.66,38.8 L177.14,38.79 L177.62,38.79 L178.1,38.79 L178.58,38.79 L179.06,38.79 L179.54,38.79 L180.03,38.78 L180.51,38.78 L180.99,38.77 L181.47,38.77 L181.95,38.76 L182.43,38.75 L182.91,38.74 L183.39,38.73 L183.88,38.72 L184.36,38.71 L184.84,38.69 L185.32,38.68 L185.8,38.66 L186.28,38.64 L186.76,38.61 L187.24,38.58 L187.72,38.56 L188.21,38.52 L188.69,38.49 L189.17,38.45 L189.65,38.41 L190.13,38.37 L190.61,38.32 L191.09,38.26 L191.58,38.2 L192.06,38.12 L192.54,38.02 L193.02,37.89 L193.5,37.71 L193.98,37.47 L194.46,37.15 L194.94,36.71 L195.43,36.14 L195.91,35.42 L196.39,34.54 L196.87,33.52 L197.35,32.38 L197.83,31.18 L198.31,29.99 L198.79,28.9 L199.28,28.3 L199.76,28.3 L200.24,28.3 L200.72,28.42 L201.2,29.03 L201.68,30.08 L202.16,31.42 L202.64,32.87 L203.12,34.28 L203.61,35.53 L204.09,36.55 L204.57,37.34 L205.05,37.9 L205.53,38.27 L206.01,38.5 L206.49,38.64 L206.98,38.72 L207.46,38.76 L207.94,38.78 L208.42,38.79 L208.9,38.8 L208.9,38.8 Z" fill="#ee3a3a" fill-opacity="0.72" stroke="none"/>
<polyline points="189.65,38.41 190.13,38.37 190.61,38.32 191.09,38.26 191.58,38.2 192.06,38.12 192.54,38.02 193.02,37.89 193.5,37.71 193.98,37.47 194.46,37.15 194.94,36.71 195.43,36.14 195.91,35.42 196.39,34.54 196.87,33.52 197.35,32.38 197.83,31.18 198.31,29.99 198.79,28.9 199.28,28.3 199.76,28.3 200.24,28.3 200.72,28.42 201.2,29.03 201.68,30.08 202.16,31.42 202.64,32.87 203.12,34.28 203.61,35.53 204.09,36.55 204.57,37.34 205.05,37.9 205.53,38.27" fill="none" stroke="#ff2a1a" stroke-width="0.45" stroke-linejoin="round"/>
<path d="M169.8,44.6 L169.8,44.6 L170.29,44.6 L170.78,44.6 L171.27,44.6 L171.76,44.6 L172.24,44.6 L172.73,44.6 L173.22,44.6 L173.71,44.6 L174.2,44.6 L174.69,44.6 L175.18,44.6 L175.67,44.6 L176.15,44.6 L176.64,44.59 L177.13,44.59 L177.62,44.59 L178.11,44.59 L178.6,44.59 L179.09,44.58 L179.58,44.58 L180.06,44.58 L180.55,44.57 L181.04,44.57 L181.53,44.56 L182.02,44.55 L182.51,44.54 L183,44.53 L183.49,44.52 L183.97,44.5 L184.46,44.49 L184.95,44.47 L185.44,44.45 L185.93,44.42 L186.42,44.4 L186.91,44.37 L187.4,44.34 L187.88,44.3 L188.37,44.27 L188.86,44.23 L189.35,44.18 L189.84,44.14 L190.33,44.08 L190.82,44.02 L191.31,43.95 L191.79,43.85 L192.28,43.73 L192.77,43.57 L193.26,43.34 L193.75,43.03 L194.24,42.62 L194.73,42.07 L195.22,41.37 L195.7,40.5 L196.19,39.49 L196.68,38.35 L197.17,37.13 L197.66,35.92 L198.15,34.79 L198.64,34.1 L199.12,34.1 L199.61,34.1 L200.1,34.21 L200.59,34.82 L201.08,35.88 L201.57,37.24 L202.06,38.71 L202.55,40.13 L203.04,41.39 L203.52,42.42 L204.01,43.2 L204.5,43.74 L204.99,44.1 L205.48,44.33 L205.97,44.46 L206.46,44.53 L206.94,44.57 L207.43,44.59 L207.92,44.59 L208.41,44.6 L208.9,44.6 L208.9,44.6 Z" fill="#ee3a3a" fill-opacity="0.72" stroke="none"/>
<polyline points="188.86,44.23 189.35,44.18 189.84,44.14 190.33,44.08 190.82,44.02 191.31,43.95 191.79,43.85 192.28,43.73 192.77,43.57 193.26,43.34 193.75,43.03 194.24,42.62 194.73,42.07 195.22,41.37 195.7,40.5 196.19,39.49 196.68,38.35 197.17,37.13 197.66,35.92 198.15,34.79 198.64,34.1 199.12,34.1 199.61,34.1 200.1,34.21 200.59,34.82 201.08,35.88 201.57,37.24 202.06,38.71 202.55,40.13 203.04,41.39 203.52,42.42 204.01,43.2 204.5,43.74 204.99,44.1" fill="none" stroke="#ff2a1a" stroke-width="0.45" stroke-linejoin="round"/>
<path d="M170.8,50.4 L170.8,50.4 L171.28,50.4 L171.75,50.4 L172.23,50.4 L172.71,50.4 L173.18,50.4 L173.66,50.4 L174.13,50.4 L174.61,50.4 L175.09,50.4 L175.56,50.4 L176.04,50.4 L176.52,50.4 L176.99,50.4 L177.47,50.4 L177.94,50.39 L178.42,50.39 L178.9,50.39 L179.37,50.39 L179.85,50.39 L180.33,50.38 L180.8,50.38 L181.28,50.37 L181.75,50.37 L182.23,50.36 L182.71,50.36 L183.18,50.35 L183.66,50.34 L184.14,50.33 L184.61,50.31 L185.09,50.3 L185.56,50.28 L186.04,50.26 L186.52,50.24 L186.99,50.22 L187.47,50.19 L187.95,50.17 L188.42,50.14 L188.9,50.1 L189.37,50.07 L189.85,50.03 L190.33,49.99 L190.8,49.94 L191.28,49.89 L191.75,49.83 L192.23,49.76 L192.71,49.67 L193.18,49.56 L193.66,49.41 L194.14,49.21 L194.61,48.93 L195.09,48.56 L195.56,48.06 L196.04,47.43 L196.52,46.65 L196.99,45.72 L197.47,44.65 L197.95,43.49 L198.42,42.3 L198.9,41.15 L199.38,40.13 L199.85,39.9 L200.33,39.9 L200.8,39.9 L201.28,40.17 L201.76,40.93 L202.23,42.08 L202.71,43.45 L203.19,44.89 L203.66,46.25 L204.14,47.43 L204.61,48.38 L205.09,49.1 L205.57,49.6 L206.04,49.93 L206.52,50.14 L207,50.26 L207.47,50.33 L207.95,50.37 L208.42,50.39 L208.9,50.39 L208.9,50.4 Z" fill="#ee3a3a" fill-opacity="0.72" stroke="none"/>
<polyline points="189.85,50.03 190.33,49.99 190.8,49.94 191.28,49.89 191.75,49.83 192.23,49.76 192.71,49.67 193.18,49.56 193.66,49.41 194.14,49.21 194.61,48.93 195.09,48.56 195.56,48.06 196.04,47.43 196.52,46.65 196.99,45.72 197.47,44.65 197.95,43.49 198.42,42.3 198.9,41.15 199.38,40.13 199.85,39.9 200.33,39.9 200.8,39.9 201.28,40.17 201.76,40.93 202.23,42.08 202.71,43.45 203.19,44.89 203.66,46.25 204.14,47.43 204.61,48.38 205.09,49.1 205.57,49.6 206.04,49.93" fill="none" stroke="#ff2a1a" stroke-width="0.45" stroke-linejoin="round"/>
<path d="M165.3,56.3 L165.3,56.3 L165.81,56.3 L166.33,56.3 L166.84,56.3 L167.35,56.3 L167.86,56.3 L168.38,56.3 L168.89,56.3 L169.4,56.3 L169.91,56.3 L170.43,56.3 L170.94,56.3 L171.45,56.3 L171.96,56.3 L172.48,56.3 L172.99,56.29 L173.5,56.29 L174.01,56.29 L174.53,56.29 L175.04,56.28 L175.55,56.28 L176.06,56.28 L176.58,56.27 L177.09,56.27 L177.6,56.26 L178.11,56.25 L178.62,56.24 L179.14,56.23 L179.65,56.22 L180.16,56.2 L180.68,56.19 L181.19,56.17 L181.7,56.15 L182.21,56.13 L182.73,56.1 L183.24,56.07 L183.75,56.04 L184.26,56 L184.78,55.96 L185.29,55.91 L185.8,55.86 L186.31,55.78 L186.83,55.68 L187.34,55.55 L187.85,55.36 L188.36,55.12 L188.88,54.78 L189.39,54.35 L189.9,53.79 L190.41,53.1 L190.93,52.27 L191.44,51.32 L191.95,50.28 L192.46,49.18 L192.98,48.1 L193.49,47.11 L194,46.3 L194.51,46.3 L195.03,46.3 L195.54,46.35 L196.05,46.74 L196.56,47.5 L197.08,48.53 L197.59,49.72 L198.1,50.96 L198.61,52.14 L199.12,53.2 L199.64,54.08 L200.15,54.78 L200.66,55.3 L201.18,55.67 L201.69,55.92 L202.2,56.08 L202.71,56.18 L203.23,56.23 L203.74,56.27 L204.25,56.28 L204.76,56.29 L205.28,56.3 L205.79,56.3 L206.3,56.3 L206.3,56.3 Z" fill="#f29a9a" fill-opacity="0.6" stroke="none"/>
<polyline points="185.29,55.91 185.8,55.86 186.31,55.78 186.83,55.68 187.34,55.55 187.85,55.36 188.36,55.12 188.88,54.78 189.39,54.35 189.9,53.79 190.41,53.1 190.93,52.27 191.44,51.32 191.95,50.28 192.46,49.18 192.98,48.1 193.49,47.11 194,46.3 194.51,46.3 195.03,46.3 195.54,46.35 196.05,46.74 196.56,47.5 197.08,48.53 197.59,49.72 198.1,50.96 198.61,52.14 199.12,53.2 199.64,54.08 200.15,54.78 200.66,55.3 201.18,55.67 201.69,55.92" fill="none" stroke="#ff2a1a" stroke-width="0.45" stroke-linejoin="round"/>
<path d="M164.7,62 L164.7,62 L165.21,62 L165.73,62 L166.24,62 L166.75,62 L167.26,62 L167.78,62 L168.29,62 L168.8,62 L169.31,62 L169.83,62 L170.34,62 L170.85,62 L171.36,62 L171.88,62 L172.39,61.99 L172.9,61.99 L173.41,61.99 L173.93,61.99 L174.44,61.98 L174.95,61.98 L175.46,61.98 L175.98,61.97 L176.49,61.97 L177,61.96 L177.51,61.95 L178.03,61.94 L178.54,61.93 L179.05,61.92 L179.56,61.9 L180.08,61.89 L180.59,61.87 L181.1,61.85 L181.61,61.83 L182.13,61.8 L182.64,61.77 L183.15,61.74 L183.66,61.7 L184.18,61.66 L184.69,61.61 L185.2,61.56 L185.71,61.48 L186.23,61.38 L186.74,61.25 L187.25,61.06 L187.76,60.82 L188.28,60.48 L188.79,60.05 L189.3,59.49 L189.81,58.8 L190.33,57.97 L190.84,57.02 L191.35,55.98 L191.86,54.88 L192.38,53.8 L192.89,52.81 L193.4,52 L193.91,52 L194.43,52 L194.94,52.05 L195.45,52.44 L195.96,53.2 L196.48,54.23 L196.99,55.42 L197.5,56.66 L198.01,57.84 L198.53,58.9 L199.04,59.78 L199.55,60.48 L200.06,61 L200.58,61.37 L201.09,61.62 L201.6,61.78 L202.11,61.88 L202.62,61.93 L203.14,61.97 L203.65,61.98 L204.16,61.99 L204.68,62 L205.19,62 L205.7,62 L205.7,62 Z" fill="#f29a9a" fill-opacity="0.6" stroke="none"/>
<polyline points="184.69,61.61 185.2,61.56 185.71,61.48 186.23,61.38 186.74,61.25 187.25,61.06 187.76,60.82 188.28,60.48 188.79,60.05 189.3,59.49 189.81,58.8 190.33,57.97 190.84,57.02 191.35,55.98 191.86,54.88 192.38,53.8 192.89,52.81 193.4,52 193.91,52 194.43,52 194.94,52.05 195.45,52.44 195.96,53.2 196.48,54.23 196.99,55.42 197.5,56.66 198.01,57.84 198.53,58.9 199.04,59.78 199.55,60.48 200.06,61 200.58,61.37 201.09,61.62" fill="none" stroke="#ff2a1a" stroke-width="0.45" stroke-linejoin="round"/>
<path d="M165.7,67.8 L165.7,67.8 L166.21,67.8 L166.73,67.8 L167.24,67.8 L167.75,67.8 L168.26,67.8 L168.78,67.8 L169.29,67.8 L169.8,67.8 L170.31,67.8 L170.83,67.8 L171.34,67.8 L171.85,67.8 L172.36,67.8 L172.88,67.8 L173.39,67.79 L173.9,67.79 L174.41,67.79 L174.93,67.79 L175.44,67.78 L175.95,67.78 L176.46,67.78 L176.98,67.77 L177.49,67.77 L178,67.76 L178.51,67.75 L179.03,67.74 L179.54,67.73 L180.05,67.72 L180.56,67.7 L181.08,67.69 L181.59,67.67 L182.1,67.65 L182.61,67.63 L183.13,67.6 L183.64,67.57 L184.15,67.54 L184.66,67.5 L185.18,67.46 L185.69,67.41 L186.2,67.36 L186.71,67.28 L187.23,67.18 L187.74,67.05 L188.25,66.86 L188.76,66.62 L189.28,66.28 L189.79,65.85 L190.3,65.29 L190.81,64.6 L191.33,63.77 L191.84,62.82 L192.35,61.78 L192.86,60.68 L193.38,59.6 L193.89,58.61 L194.4,57.8 L194.91,57.8 L195.43,57.8 L195.94,57.85 L196.45,58.24 L196.96,59 L197.48,60.03 L197.99,61.22 L198.5,62.46 L199.01,63.64 L199.53,64.7 L200.04,65.58 L200.55,66.28 L201.06,66.8 L201.58,67.17 L202.09,67.42 L202.6,67.58 L203.11,67.68 L203.62,67.73 L204.14,67.77 L204.65,67.78 L205.16,67.79 L205.68,67.8 L206.19,67.8 L206.7,67.8 L206.7,67.8 Z" fill="#f29a9a" fill-opacity="0.6" stroke="none"/>
<polyline points="185.69,67.41 186.2,67.36 186.71,67.28 187.23,67.18 187.74,67.05 188.25,66.86 188.76,66.62 189.28,66.28 189.79,65.85 190.3,65.29 190.81,64.6 191.33,63.77 191.84,62.82 192.35,61.78 192.86,60.68 193.38,59.6 193.89,58.61 194.4,57.8 194.91,57.8 195.43,57.8 195.94,57.85 196.45,58.24 196.96,59 197.48,60.03 197.99,61.22 198.5,62.46 199.01,63.64 199.53,64.7 200.04,65.58 200.55,66.28 201.06,66.8 201.58,67.17 202.09,67.42" fill="none" stroke="#ff2a1a" stroke-width="0.45" stroke-linejoin="round"/>
<polyline points="161.4,73.58 161.44,73.58 161.48,73.58 161.52,73.57 161.56,73.57 161.6,73.56 161.64,73.56 161.68,73.55 161.72,73.55 161.76,73.54 161.8,73.53 161.84,73.52 161.88,73.5 161.92,73.49 161.96,73.48 162,73.46 162.04,73.44 162.08,73.42 162.12,73.39 162.16,73.37 162.2,73.34 162.24,73.3 162.28,73.27 162.32,73.23 162.36,73.18 162.4,73.14 162.44,73.08 162.48,73.03 162.52,72.96 162.56,72.9 162.6,72.82 162.64,72.74 162.68,72.65 162.72,72.56 162.76,72.46 162.8,72.35 162.84,72.24 162.88,72.12 162.92,71.99 162.96,71.85 163,71.71 163.04,71.55 163.08,71.39 163.12,71.22 163.16,71.04 163.2,70.86 163.24,70.66 163.28,70.46 163.32,70.25 163.36,70.04 163.4,69.82 163.44,69.59 163.48,69.36 163.52,69.12 163.56,68.88 163.6,68.64 163.64,68.39 163.68,68.14 163.72,67.9 163.76,67.65 163.8,67.4 163.84,67.16 163.88,66.92 163.92,66.68 163.96,66.46 164,66.23 164.04,66.02 164.08,65.81 164.12,65.62 164.16,65.44 164.2,65.27 164.24,65.11 164.28,64.96 164.32,64.83 164.36,64.72 164.4,64.62 164.44,64.54 164.48,64.48 164.52,64.44 164.56,64.41 164.6,64.4 164.64,64.41 164.68,64.44 164.72,64.48 164.76,64.54 164.8,64.62 164.84,64.72 164.88,64.83 164.92,64.96 164.96,65.11 165,65.27 165.04,65.44 165.08,65.62 165.12,65.81 165.16,66.02 165.2,66.23 165.24,66.46 165.28,66.68 165.32,66.92 165.36,67.16 165.4,67.4 165.44,67.65 165.48,67.9 165.52,68.14 165.56,68.39 165.6,68.64 165.64,68.88 165.68,69.12 165.72,69.36 165.76,69.59 165.8,69.82 165.84,70.04 165.88,70.25 165.92,70.46 165.96,70.66 166,70.86 166.04,71.04 166.08,71.22 166.12,71.39 166.16,71.55 166.2,71.71 166.24,71.85 166.28,71.99 166.32,72.12 166.36,72.24 166.4,72.35 166.44,72.46 166.48,72.56 166.52,72.65 166.56,72.74 166.6,72.82 166.64,72.9 166.68,72.96 166.72,73.03 166.76,73.08 166.8,73.14 166.84,73.18 166.88,73.23 166.92,73.27 166.96,73.3 167,73.34 167.04,73.37 167.08,73.39 167.12,73.42 167.16,73.44 167.2,73.46 167.24,73.48 167.28,73.49 167.32,73.5 167.36,73.52 167.4,73.53 167.44,73.54 167.48,73.55 167.52,73.55 167.56,73.56 167.6,73.56 167.64,73.57 167.68,73.57 167.72,73.58 167.76,73.58 167.8,73.58" fill="none" stroke="#ff2a1a" stroke-width="0.6" stroke-linejoin="round"/>
<polyline points="175.2,73.58 175.24,73.58 175.28,73.58 175.32,73.57 175.36,73.57 175.4,73.56 175.44,73.56 175.48,73.55 175.52,73.55 175.56,73.54 175.6,73.53 175.64,73.52 175.68,73.5 175.72,73.49 175.76,73.48 175.8,73.46 175.84,73.44 175.88,73.42 175.92,73.39 175.96,73.37 176,73.34 176.04,73.3 176.08,73.27 176.12,73.23 176.16,73.18 176.2,73.14 176.24,73.08 176.28,73.03 176.32,72.96 176.36,72.9 176.4,72.82 176.44,72.74 176.48,72.65 176.52,72.56 176.56,72.46 176.6,72.35 176.64,72.24 176.68,72.12 176.72,71.99 176.76,71.85 176.8,71.71 176.84,71.55 176.88,71.39 176.92,71.22 176.96,71.04 177,70.86 177.04,70.66 177.08,70.46 177.12,70.25 177.16,70.04 177.2,69.82 177.24,69.59 177.28,69.36 177.32,69.12 177.36,68.88 177.4,68.64 177.44,68.39 177.48,68.14 177.52,67.9 177.56,67.65 177.6,67.4 177.64,67.16 177.68,66.92 177.72,66.68 177.76,66.46 177.8,66.23 177.84,66.02 177.88,65.81 177.92,65.62 177.96,65.44 178,65.27 178.04,65.11 178.08,64.96 178.12,64.83 178.16,64.72 178.2,64.62 178.24,64.54 178.28,64.48 178.32,64.44 178.36,64.41 178.4,64.4 178.44,64.41 178.48,64.44 178.52,64.48 178.56,64.54 178.6,64.62 178.64,64.72 178.68,64.83 178.72,64.96 178.76,65.11 178.8,65.27 178.84,65.44 178.88,65.62 178.92,65.81 178.96,66.02 179,66.23 179.04,66.46 179.08,66.68 179.12,66.92 179.16,67.16 179.2,67.4 179.24,67.65 179.28,67.9 179.32,68.14 179.36,68.39 179.4,68.64 179.44,68.88 179.48,69.12 179.52,69.36 179.56,69.59 179.6,69.82 179.64,70.04 179.68,70.25 179.72,70.46 179.76,70.66 179.8,70.86 179.84,71.04 179.88,71.22 179.92,71.39 179.96,71.55 180,71.71 180.04,71.85 180.08,71.99 180.12,72.12 180.16,72.24 180.2,72.35 180.24,72.46 180.28,72.56 180.32,72.65 180.36,72.74 180.4,72.82 180.44,72.9 180.48,72.96 180.52,73.03 180.56,73.08 180.6,73.14 180.64,73.18 180.68,73.23 180.72,73.27 180.76,73.3 180.8,73.34 180.84,73.37 180.88,73.39 180.92,73.42 180.96,73.44 181,73.46 181.04,73.48 181.08,73.49 181.12,73.5 181.16,73.52 181.2,73.53 181.24,73.54 181.28,73.55 181.32,73.55 181.36,73.56 181.4,73.56 181.44,73.57 181.48,73.57 181.52,73.58 181.56,73.58 181.6,73.58" fill="none" stroke="#ff2a1a" stroke-width="0.6" stroke-linejoin="round"/>
<polyline points="183.4,73.58 183.44,73.58 183.48,73.58 183.52,73.57 183.56,73.57 183.6,73.56 183.64,73.56 183.68,73.55 183.72,73.55 183.76,73.54 183.8,73.53 183.84,73.52 183.88,73.5 183.92,73.49 183.96,73.48 184,73.46 184.04,73.44 184.08,73.42 184.12,73.39 184.16,73.37 184.2,73.34 184.24,73.3 184.28,73.27 184.32,73.23 184.36,73.18 184.4,73.14 184.44,73.08 184.48,73.03 184.52,72.96 184.56,72.9 184.6,72.82 184.64,72.74 184.68,72.65 184.72,72.56 184.76,72.46 184.8,72.35 184.84,72.24 184.88,72.12 184.92,71.99 184.96,71.85 185,71.71 185.04,71.55 185.08,71.39 185.12,71.22 185.16,71.04 185.2,70.86 185.24,70.66 185.28,70.46 185.32,70.25 185.36,70.04 185.4,69.82 185.44,69.59 185.48,69.36 185.52,69.12 185.56,68.88 185.6,68.64 185.64,68.39 185.68,68.14 185.72,67.9 185.76,67.65 185.8,67.4 185.84,67.16 185.88,66.92 185.92,66.68 185.96,66.46 186,66.23 186.04,66.02 186.08,65.81 186.12,65.62 186.16,65.44 186.2,65.27 186.24,65.11 186.28,64.96 186.32,64.83 186.36,64.72 186.4,64.62 186.44,64.54 186.48,64.48 186.52,64.44 186.56,64.41 186.6,64.4 186.64,64.41 186.68,64.44 186.72,64.48 186.76,64.54 186.8,64.62 186.84,64.72 186.88,64.83 186.92,64.96 186.96,65.11 187,65.27 187.04,65.44 187.08,65.62 187.12,65.81 187.16,66.02 187.2,66.23 187.24,66.46 187.28,66.68 187.32,66.92 187.36,67.16 187.4,67.4 187.44,67.65 187.48,67.9 187.52,68.14 187.56,68.39 187.6,68.64 187.64,68.88 187.68,69.12 187.72,69.36 187.76,69.59 187.8,69.82 187.84,70.04 187.88,70.25 187.92,70.46 187.96,70.66 188,70.86 188.04,71.04 188.08,71.22 188.12,71.39 188.16,71.55 188.2,71.71 188.24,71.85 188.28,71.99 188.32,72.12 188.36,72.24 188.4,72.35 188.44,72.46 188.48,72.56 188.52,72.65 188.56,72.74 188.6,72.82 188.64,72.9 188.68,72.96 188.72,73.03 188.76,73.08 188.8,73.14 188.84,73.18 188.88,73.23 188.92,73.27 188.96,73.3 189,73.34 189.04,73.37 189.08,73.39 189.12,73.42 189.16,73.44 189.2,73.46 189.24,73.48 189.28,73.49 189.32,73.5 189.36,73.52 189.4,73.53 189.44,73.54 189.48,73.55 189.52,73.55 189.56,73.56 189.6,73.56 189.64,73.57 189.68,73.57 189.72,73.58 189.76,73.58 189.8,73.58" fill="none" stroke="#ff2a1a" stroke-width="0.6" stroke-linejoin="round"/>
<polyline points="188.3,73.58 188.34,73.58 188.38,73.58 188.42,73.57 188.46,73.57 188.5,73.56 188.54,73.56 188.58,73.55 188.62,73.55 188.66,73.54 188.7,73.53 188.74,73.52 188.78,73.5 188.82,73.49 188.86,73.48 188.9,73.46 188.94,73.44 188.98,73.42 189.02,73.39 189.06,73.37 189.1,73.34 189.14,73.3 189.18,73.27 189.22,73.23 189.26,73.18 189.3,73.14 189.34,73.08 189.38,73.03 189.42,72.96 189.46,72.9 189.5,72.82 189.54,72.74 189.58,72.65 189.62,72.56 189.66,72.46 189.7,72.35 189.74,72.24 189.78,72.12 189.82,71.99 189.86,71.85 189.9,71.71 189.94,71.55 189.98,71.39 190.02,71.22 190.06,71.04 190.1,70.86 190.14,70.66 190.18,70.46 190.22,70.25 190.26,70.04 190.3,69.82 190.34,69.59 190.38,69.36 190.42,69.12 190.46,68.88 190.5,68.64 190.54,68.39 190.58,68.14 190.62,67.9 190.66,67.65 190.7,67.4 190.74,67.16 190.78,66.92 190.82,66.68 190.86,66.46 190.9,66.23 190.94,66.02 190.98,65.81 191.02,65.62 191.06,65.44 191.1,65.27 191.14,65.11 191.18,64.96 191.22,64.83 191.26,64.72 191.3,64.62 191.34,64.54 191.38,64.48 191.42,64.44 191.46,64.41 191.5,64.4 191.54,64.41 191.58,64.44 191.62,64.48 191.66,64.54 191.7,64.62 191.74,64.72 191.78,64.83 191.82,64.96 191.86,65.11 191.9,65.27 191.94,65.44 191.98,65.62 192.02,65.81 192.06,66.02 192.1,66.23 192.14,66.46 192.18,66.68 192.22,66.92 192.26,67.16 192.3,67.4 192.34,67.65 192.38,67.9 192.42,68.14 192.46,68.39 192.5,68.64 192.54,68.88 192.58,69.12 192.62,69.36 192.66,69.59 192.7,69.82 192.74,70.04 192.78,70.25 192.82,70.46 192.86,70.66 192.9,70.86 192.94,71.04 192.98,71.22 193.02,71.39 193.06,71.55 193.1,71.71 193.14,71.85 193.18,71.99 193.22,72.12 193.26,72.24 193.3,72.35 193.34,72.46 193.38,72.56 193.42,72.65 193.46,72.74 193.5,72.82 193.54,72.9 193.58,72.96 193.62,73.03 193.66,73.08 193.7,73.14 193.74,73.18 193.78,73.23 193.82,73.27 193.86,73.3 193.9,73.34 193.94,73.37 193.98,73.39 194.02,73.42 194.06,73.44 194.1,73.46 194.14,73.48 194.18,73.49 194.22,73.5 194.26,73.52 194.3,73.53 194.34,73.54 194.38,73.55 194.42,73.55 194.46,73.56 194.5,73.56 194.54,73.57 194.58,73.57 194.62,73.58 194.66,73.58 194.7,73.58" fill="none" stroke="#ff2a1a" stroke-width="0.6" stroke-linejoin="round"/>
<rect x="146.9" y="74.4" width="3.6" height="1.4" fill="#333" stroke="none" stroke-width="0"/>
<line x1="141.3" y1="74.2" x2="141.3" y2="75.6" stroke="#888" stroke-width="0.5"/>
<line x1="146.4" y1="74.2" x2="146.4" y2="75.6" stroke="#888" stroke-width="0.5"/>
<line x1="151.5" y1="74.2" x2="151.5" y2="75.6" stroke="#888" stroke-width="0.5"/>
<line x1="156.6" y1="74.2" x2="156.6" y2="75.6" stroke="#888" stroke-width="0.5"/>
<line x1="161.7" y1="74.2" x2="161.7" y2="75.6" stroke="#888" stroke-width="0.5"/>
<line x1="166.8" y1="74.2" x2="166.8" y2="75.6" stroke="#888" stroke-width="0.5"/>
<line x1="171.9" y1="74.2" x2="171.9" y2="75.6" stroke="#888" stroke-width="0.5"/>
<line x1="177" y1="74.2" x2="177" y2="75.6" stroke="#888" stroke-width="0.5"/>
<line x1="182.1" y1="74.2" x2="182.1" y2="75.6" stroke="#888" stroke-width="0.5"/>
<line x1="187.2" y1="74.2" x2="187.2" y2="75.6" stroke="#888" stroke-width="0.5"/>
<line x1="192.3" y1="74.2" x2="192.3" y2="75.6" stroke="#888" stroke-width="0.5"/>
<line x1="197.4" y1="74.2" x2="197.4" y2="75.6" stroke="#888" stroke-width="0.5"/>
<line x1="202.5" y1="74.2" x2="202.5" y2="75.6" stroke="#888" stroke-width="0.5"/>
<line x1="207.6" y1="74.2" x2="207.6" y2="75.6" stroke="#888" stroke-width="0.5"/>
<text x="75.3" y="85.28" font-size="6.9" text-anchor="middle" font-weight="normal" fill="#111">0</text>
<text x="84.1" y="85.28" font-size="6.9" text-anchor="start" font-weight="normal" fill="#111">10</text>
<text x="91.2" y="80.47" font-size="6.3" text-anchor="start" font-weight="normal" fill="#111">3</text>
<text x="98.1" y="85.28" font-size="6.9" text-anchor="start" font-weight="normal" fill="#111">10</text>
<text x="105.2" y="80.47" font-size="6.3" text-anchor="start" font-weight="normal" fill="#111">4</text>
<text x="111.1" y="85.28" font-size="6.9" text-anchor="start" font-weight="normal" fill="#111">10</text>
<text x="118.2" y="80.47" font-size="6.3" text-anchor="start" font-weight="normal" fill="#111">5</text>
<text x="123.4" y="85.28" font-size="6.9" text-anchor="start" font-weight="normal" fill="#111">10</text>
<text x="130.6" y="80.47" font-size="6.3" text-anchor="start" font-weight="normal" fill="#111">6</text>
<line x1="64.5" y1="87.3" x2="90" y2="87.3" stroke="#111" stroke-width="0.7"/>
<polygon points="89.5,85.8 89.5,88.8 92.5,87.3" fill="#111"/>
<text x="65" y="96.23" font-size="7.3" text-anchor="start" font-weight="normal" fill="#111">GPC2-PE</text>
<text x="149.4" y="85.28" font-size="6.9" text-anchor="middle" font-weight="normal" fill="#111">0</text>
<text x="158.6" y="85.28" font-size="6.9" text-anchor="start" font-weight="normal" fill="#111">10</text>
<text x="165.6" y="80.47" font-size="6.3" text-anchor="start" font-weight="normal" fill="#111">3</text>
<text x="172.7" y="85.28" font-size="6.9" text-anchor="start" font-weight="normal" fill="#111">10</text>
<text x="179.6" y="80.47" font-size="6.3" text-anchor="start" font-weight="normal" fill="#111">4</text>
<text x="185.6" y="85.28" font-size="6.9" text-anchor="start" font-weight="normal" fill="#111">10</text>
<text x="192.6" y="80.47" font-size="6.3" text-anchor="start" font-weight="normal" fill="#111">5</text>
<text x="198" y="85.28" font-size="6.9" text-anchor="start" font-weight="normal" fill="#111">10</text>
<text x="205.1" y="80.47" font-size="6.3" text-anchor="start" font-weight="normal" fill="#111">6</text>
<line x1="138.5" y1="87.3" x2="164.5" y2="87.3" stroke="#111" stroke-width="0.7"/>
<polygon points="164,85.8 164,88.8 167,87.3" fill="#111"/>
<text x="142" y="96.23" font-size="7.3" text-anchor="start" font-weight="normal" fill="#111">GD2-PE</text>
<text x="220.3" y="45.16" font-size="7.4" text-anchor="middle" font-weight="normal" fill="#111" transform="rotate(-90 220.3 42.5)">Cell surface molecules</text>
<line x1="257.9" y1="7.6" x2="257.9" y2="20.4" stroke="#858585" stroke-width="0.8"/>
<line x1="257.9" y1="27.4" x2="257.9" y2="77.1" stroke="#858585" stroke-width="0.8"/>
<line x1="257.9" y1="77.1" x2="331" y2="77.1" stroke="#858585" stroke-width="0.8"/>
<line x1="256.3" y1="7.6" x2="257.9" y2="7.6" stroke="#858585" stroke-width="0.8"/>
<line x1="256.3" y1="13.1" x2="257.9" y2="13.1" stroke="#858585" stroke-width="0.8"/>
<line x1="256.3" y1="20.4" x2="257.9" y2="20.4" stroke="#858585" stroke-width="0.8"/>
<line x1="256.3" y1="27.4" x2="257.9" y2="27.4" stroke="#858585" stroke-width="0.8"/>
<line x1="256.3" y1="44.2" x2="257.9" y2="44.2" stroke="#858585" stroke-width="0.8"/>
<line x1="256.3" y1="60.9" x2="257.9" y2="60.9" stroke="#858585" stroke-width="0.8"/>
<line x1="256.3" y1="77.1" x2="257.9" y2="77.1" stroke="#858585" stroke-width="0.8"/>
<text x="255.6" y="11.46" font-size="7.4" text-anchor="end" fill="#111">2×10<tspan font-size="5.92" dy="-2.96">5</tspan></text>
<text x="255.6" y="17.56" font-size="7.4" text-anchor="end" fill="#111">1×10<tspan font-size="5.92" dy="-2.96">5</tspan></text>
<text x="255.6" y="30.66" font-size="7.4" text-anchor="end" fill="#111">1.5×10<tspan font-size="5.92" dy="-2.96">4</tspan></text>
<text x="255.6" y="47.06" font-size="7.4" text-anchor="end" fill="#111">1.0×10<tspan font-size="5.92" dy="-2.96">4</tspan></text>
<text x="255.6" y="63.76" font-size="7.4" text-anchor="end" fill="#111">5.0×10<tspan font-size="5.92" dy="-2.96">3</tspan></text>
<text x="255.2" y="80.26" font-size="7.4" text-anchor="end" font-weight="normal" fill="#111">0.0</text>
<line x1="272.5" y1="77.1" x2="272.5" y2="79.5" stroke="#858585" stroke-width="0.8"/>
<line x1="294.7" y1="77.1" x2="294.7" y2="79.5" stroke="#858585" stroke-width="0.8"/>
<line x1="316.6" y1="77.1" x2="316.6" y2="79.5" stroke="#858585" stroke-width="0.8"/>
<text x="272.5" y="89.03" font-size="7.3" text-anchor="middle" font-weight="normal" fill="#111">(1)</text>
<text x="294.7" y="89.03" font-size="7.3" text-anchor="middle" font-weight="normal" fill="#111">(2)</text>
<text x="316.6" y="89.03" font-size="7.3" text-anchor="middle" font-weight="normal" fill="#111">(3)</text>
<rect x="262.9" y="36.2" width="9" height="40.9" fill="#7283fa" stroke="#4a5cff" stroke-width="0.5"/>
<rect x="285.1" y="61.3" width="9.4" height="15.8" fill="#a9b3fc" stroke="#6a7aff" stroke-width="0.5"/>
<rect x="307.3" y="68.9" width="9.4" height="8.2" fill="#d4dafd" stroke="#7a88ff" stroke-width="0.5"/>
<rect x="273.1" y="27.4" width="9.3" height="49.7" fill="#f07a6b" stroke="#f0503c" stroke-width="0.5"/>
<rect x="295.3" y="27.4" width="9.3" height="49.7" fill="#f3aaa2" stroke="#f06a5a" stroke-width="0.5"/>
<rect x="317.5" y="27.4" width="9.1" height="49.7" fill="#f9d6d2" stroke="#f06a5a" stroke-width="0.5"/>
<rect x="273.1" y="12.3" width="9.3" height="7.6" fill="#f07a6b" stroke="#f0503c" stroke-width="0.5"/>
<rect x="295.3" y="11.1" width="9.3" height="8.8" fill="#f3aaa2" stroke="#f06a5a" stroke-width="0.5"/>
<rect x="317.5" y="18.1" width="9.1" height="1.8" fill="#f9d6d2" stroke="#f06a5a" stroke-width="0.5"/>
<line x1="267.4" y1="27.8" x2="267.4" y2="36.2" stroke="#4a5cff" stroke-width="0.6"/>
<line x1="278" y1="10.5" x2="278" y2="12.3" stroke="#f06a5a" stroke-width="0.5"/>
<line x1="300" y1="7.5" x2="300" y2="11.1" stroke="#f06a5a" stroke-width="0.5"/>
<circle cx="267.5" cy="27.8" r="1.55" fill="#2020ff" stroke="none" stroke-width="0" fill-opacity="1"/>
<circle cx="267.5" cy="37.4" r="1.55" fill="#2020ff" stroke="none" stroke-width="0" fill-opacity="1"/>
<circle cx="267.5" cy="43.5" r="1.55" fill="#2020ff" stroke="none" stroke-width="0" fill-opacity="1"/>
<circle cx="286.5" cy="61.3" r="1.55" fill="#2020ff" stroke="none" stroke-width="0" fill-opacity="1"/>
<circle cx="290" cy="61.3" r="1.55" fill="#2020ff" stroke="none" stroke-width="0" fill-opacity="1"/>
<circle cx="293.5" cy="61.3" r="1.55" fill="#2020ff" stroke="none" stroke-width="0" fill-opacity="1"/>
<circle cx="308.7" cy="69.3" r="1.55" fill="#2020ff" stroke="none" stroke-width="0" fill-opacity="1"/>
<circle cx="311.6" cy="67.6" r="1.55" fill="#2020ff" stroke="none" stroke-width="0" fill-opacity="1"/>
<circle cx="314.8" cy="68.4" r="1.55" fill="#2020ff" stroke="none" stroke-width="0" fill-opacity="1"/>
<circle cx="274.6" cy="10.2" r="1.55" fill="#ff2a1a" stroke="none" stroke-width="0" fill-opacity="1"/>
<circle cx="274.6" cy="13.8" r="1.55" fill="#ff2a1a" stroke="none" stroke-width="0" fill-opacity="1"/>
<circle cx="280.7" cy="11.2" r="1.55" fill="#ff2a1a" stroke="none" stroke-width="0" fill-opacity="1"/>
<circle cx="296.7" cy="7.8" r="1.55" fill="#ff2a1a" stroke="none" stroke-width="0" fill-opacity="1"/>
<circle cx="299.8" cy="15.5" r="1.55" fill="#ff2a1a" stroke="none" stroke-width="0" fill-opacity="1"/>
<circle cx="302.8" cy="9.9" r="1.55" fill="#ff2a1a" stroke="none" stroke-width="0" fill-opacity="1"/>
<circle cx="318.8" cy="17.5" r="1.55" fill="#ff2a1a" stroke="none" stroke-width="0" fill-opacity="1"/>
<circle cx="322" cy="15.8" r="1.55" fill="#ff2a1a" stroke="none" stroke-width="0" fill-opacity="1"/>
<circle cx="325" cy="16.8" r="1.55" fill="#ff2a1a" stroke="none" stroke-width="0" fill-opacity="1"/>
<circle cx="342.2" cy="9" r="1.6" fill="#2020ff" stroke="none" stroke-width="0" fill-opacity="1"/>
<text x="350" y="11.63" font-size="7.3" text-anchor="start" font-weight="normal" fill="#111">GPC2</text>
<circle cx="342.2" cy="19" r="1.6" fill="#ff2a1a" stroke="none" stroke-width="0" fill-opacity="1"/>
<text x="350" y="21.63" font-size="7.3" text-anchor="start" font-weight="normal" fill="#111">GD2</text>
<text x="408" y="10.2" font-size="11.5" font-weight="bold" text-anchor="start" fill="#000">b</text>
<text x="417.6" y="31.63" font-size="7.3" text-anchor="start" font-weight="normal" fill="#111">PDX implant:</text>
<text x="447.5" y="45.63" font-size="7.3" text-anchor="middle" font-weight="normal" fill="#111">(1) COG-N-421x</text>
<text x="447.5" y="53.93" font-size="7.3" text-anchor="middle" fill="#111">(GPC2<tspan font-size="4.38" dy="-2.48">Hi</tspan><tspan dy="2.48">/GD2</tspan><tspan font-size="4.38" dy="-2.48">Hi</tspan><tspan dy="2.48">)</tspan></text>
<text x="447.5" y="67.63" font-size="7.3" text-anchor="middle" font-weight="normal" fill="#111">(2) COG-N-561x</text>
<text x="447.5" y="76.23" font-size="7.3" text-anchor="middle" fill="#111">(GPC2<tspan font-size="4.38" dy="-2.48">Mo</tspan><tspan dy="2.48">/GD2</tspan><tspan font-size="4.38" dy="-2.48">Hi</tspan><tspan dy="2.48">)</tspan></text>
<text x="447.5" y="90.03" font-size="7.3" text-anchor="middle" font-weight="normal" fill="#111">(3) COG-N-603x</text>
<text x="447.5" y="98.63" font-size="7.3" text-anchor="middle" fill="#111">(GPC2<tspan font-size="4.38" dy="-2.48">Mo</tspan><tspan dy="2.48">/GD2</tspan><tspan font-size="4.38" dy="-2.48">Mo</tspan><tspan dy="2.48">)</tspan></text>
<text x="497" y="7.73" font-size="7.3" text-anchor="start" font-weight="normal" fill="#111">CD19.CAR</text>
<text x="497" y="16.63" font-size="7.3" fill="#111">(5x10<tspan font-size="5.11" dy="-3.07">6</tspan><tspan dy="3.07"> T-cells iv)</tspan></text>
<line x1="512.5" y1="17" x2="512.5" y2="27" stroke="#8a8a8a" stroke-width="1.2"/>
<polygon points="510.4,26.5 514.6,26.5 512.5,31.5" fill="#8a8a8a"/>
<text x="497" y="40.63" font-size="7.3" text-anchor="start" font-weight="normal" fill="#111">GPC2.CAR-GD2.BiCE</text>
<text x="497" y="49.63" font-size="7.3" fill="#111">(5x10<tspan font-size="5.11" dy="-3.07">6</tspan><tspan dy="3.07"> T-cells iv)</tspan></text>
<line x1="512.5" y1="50" x2="512.5" y2="60" stroke="#2a2aff" stroke-width="1.2"/>
<polygon points="510.4,59.5 514.6,59.5 512.5,64.5" fill="#2a2aff"/>
<text x="497" y="74.63" font-size="7.3" text-anchor="start" font-weight="normal" fill="#111">GPC2.CAR</text>
<text x="497" y="83.63" font-size="7.3" fill="#111">(5x10<tspan font-size="5.11" dy="-3.07">6</tspan><tspan dy="3.07"> T-cells iv)</tspan></text>
<line x1="512.5" y1="84" x2="512.5" y2="94" stroke="#ff2a1a" stroke-width="1.2"/>
<polygon points="510.4,93.5 514.6,93.5 512.5,98.5" fill="#ff2a1a"/>
<text x="494" y="107.63" font-size="7.3" text-anchor="start" font-weight="normal" fill="#111">GPC2.CAR</text>
<text x="494" y="116.23" font-size="7.3" fill="#111">(5x10<tspan font-size="5.11" dy="-3.07">6</tspan><tspan dy="3.07"> T-cells iv)</tspan></text>
<line x1="512.5" y1="117" x2="512.5" y2="127" stroke="#ff2a1a" stroke-width="1.2"/>
<polygon points="510.4,126.5 514.6,126.5 512.5,131.5" fill="#ff2a1a"/>
<text x="545.8" y="106.03" font-size="7.3" text-anchor="middle" font-weight="normal" fill="#111">+</text>
<text x="585" y="107.63" font-size="7.3" text-anchor="middle" font-weight="normal" fill="#111">anti-GD2 mAb</text>
<text x="585" y="116.23" font-size="7.3" text-anchor="middle" font-weight="normal" fill="#111">(100 µg per mouse ip)</text>
<line x1="563.5" y1="117" x2="563.5" y2="127" stroke="#4f9a3a" stroke-width="1.2"/>
<polygon points="561.4,126.5 565.6,126.5 563.5,131.5" fill="#4f9a3a"/>
<line x1="575.1" y1="117" x2="575.1" y2="127" stroke="#4f9a3a" stroke-width="1.2"/>
<polygon points="573,126.5 577.2,126.5 575.1,131.5" fill="#4f9a3a"/>
<line x1="586.1" y1="117" x2="586.1" y2="127" stroke="#4f9a3a" stroke-width="1.2"/>
<polygon points="584,126.5 588.2,126.5 586.1,131.5" fill="#4f9a3a"/>
<line x1="597.1" y1="117" x2="597.1" y2="127" stroke="#4f9a3a" stroke-width="1.2"/>
<polygon points="595,126.5 599.2,126.5 597.1,131.5" fill="#4f9a3a"/>
<line x1="448.8" y1="105" x2="448.8" y2="128" stroke="#111" stroke-width="1.2"/>
<polygon points="446.7,127.5 450.9,127.5 448.8,132.5" fill="#111"/>
<line x1="440" y1="133.5" x2="458" y2="133.5" stroke="#555" stroke-width="1"/>
<line x1="462" y1="133.5" x2="505" y2="133.5" stroke="#444" stroke-width="0.9" stroke-dasharray="2.6,1.6"/>
<line x1="510" y1="133.5" x2="610" y2="133.5" stroke="#444" stroke-width="0.9"/>
<line x1="617" y1="133.5" x2="685" y2="133.5" stroke="#444" stroke-width="0.9" stroke-dasharray="2.6,1.6"/>
<text x="437" y="141.83" font-size="7.3" text-anchor="middle" font-weight="normal" fill="#111">Days:</text>
<text x="483" y="142.63" font-size="7.3" text-anchor="middle" font-weight="normal" fill="#111">Engraftment</text>
<text x="483" y="151.13" font-size="7.3" text-anchor="middle" font-weight="normal" fill="#111">to moderate</text>
<text x="483" y="159.13" font-size="7.3" text-anchor="middle" font-weight="normal" fill="#111">or large tumor</text>
<text x="512.5" y="140.63" font-size="6.2" text-anchor="middle" font-weight="normal" fill="#111">1</text>
<text x="562.9" y="140.63" font-size="6.2" text-anchor="middle" font-weight="normal" fill="#111">4</text>
<text x="574.6" y="140.63" font-size="6.2" text-anchor="middle" font-weight="normal" fill="#111">5</text>
<text x="586.3" y="140.63" font-size="6.2" text-anchor="middle" font-weight="normal" fill="#111">6</text>
<text x="596.8" y="140.63" font-size="6.2" text-anchor="middle" font-weight="normal" fill="#111">7</text>
<text x="650" y="122.63" font-size="7.3" text-anchor="middle" font-weight="normal" fill="#111">Follow-up</text>
<text x="650.5" y="130.93" font-size="7.3" text-anchor="middle" font-weight="normal" fill="#111">(efficacy and safety)</text>
<line x1="575.2" y1="147" x2="575.2" y2="157" stroke="#111" stroke-width="1.2"/>
<polygon points="573.1,147.5 577.3,147.5 575.2,142.5" fill="#111"/>
<text x="575.7" y="164.23" font-size="7.3" text-anchor="middle" font-weight="normal" fill="#111">CAR donor-matched (en)PBMCs,</text>
<text x="575.3" y="171.83" font-size="7.3" text-anchor="middle" fill="#111">NK-cells or monocytes (5x10<tspan font-size="5.11" dy="-3.07">6</tspan><tspan dy="3.07"> cells iv)</tspan></text>
<text x="1.5" y="118.5" font-size="11.5" font-weight="bold" text-anchor="start" fill="#000">c</text>
<rect x="64" y="111" width="353" height="11.6" fill="#ece8f1" stroke="none" stroke-width="0"/>
<text x="240.2" y="119.57" font-size="7.7" text-anchor="middle" font-weight="normal" fill="#111">(en)PBMCs</text>
<rect x="5.6" y="139" width="21.4" height="65" fill="#f0f0f0" stroke="none" stroke-width="0"/>
<text x="12" y="174.61" font-size="7.8" text-anchor="middle" font-weight="normal" fill="#111" transform="rotate(-90 12 171.8)">COG-N-421x</text>
<text x="21" y="174.61" font-size="7.8" text-anchor="middle" fill="#111" transform="rotate(-90 21 171.8)">(GPC2<tspan font-size="4.68" dy="-2.65">Hi</tspan><tspan dy="2.65">/GD2</tspan><tspan font-size="4.68" dy="-2.65">Hi</tspan><tspan dy="2.65">)</tspan></text>
<line x1="64" y1="142.5" x2="64" y2="203.6" stroke="#858585" stroke-width="0.8"/>
<line x1="64" y1="203.6" x2="136.5" y2="203.6" stroke="#858585" stroke-width="0.8"/>
<line x1="64" y1="203.6" x2="64" y2="205.2" stroke="#858585" stroke-width="0.8"/>
<text x="64" y="213.73" font-size="7.3" text-anchor="middle" font-weight="normal" fill="#111">0</text>
<line x1="80.4" y1="203.6" x2="80.4" y2="205.2" stroke="#858585" stroke-width="0.8"/>
<text x="80.4" y="213.73" font-size="7.3" text-anchor="middle" font-weight="normal" fill="#111">1</text>
<line x1="96.8" y1="203.6" x2="96.8" y2="205.2" stroke="#858585" stroke-width="0.8"/>
<text x="96.8" y="213.73" font-size="7.3" text-anchor="middle" font-weight="normal" fill="#111">2</text>
<line x1="113.2" y1="203.6" x2="113.2" y2="205.2" stroke="#858585" stroke-width="0.8"/>
<text x="113.2" y="213.73" font-size="7.3" text-anchor="middle" font-weight="normal" fill="#111">3</text>
<line x1="129.6" y1="203.6" x2="129.6" y2="205.2" stroke="#858585" stroke-width="0.8"/>
<text x="129.6" y="213.73" font-size="7.3" text-anchor="middle" font-weight="normal" fill="#111">4</text>
<line x1="62.4" y1="203.6" x2="64" y2="203.6" stroke="#858585" stroke-width="0.8"/>
<text x="59.5" y="206.23" font-size="7.3" text-anchor="end" font-weight="normal" fill="#111">0.0</text>
<line x1="62.4" y1="189.7" x2="64" y2="189.7" stroke="#858585" stroke-width="0.8"/>
<text x="59.5" y="192.33" font-size="7.3" text-anchor="end" font-weight="normal" fill="#111">0.5</text>
<line x1="62.4" y1="175.8" x2="64" y2="175.8" stroke="#858585" stroke-width="0.8"/>
<text x="59.5" y="178.43" font-size="7.3" text-anchor="end" font-weight="normal" fill="#111">1.0</text>
<line x1="62.4" y1="161.9" x2="64" y2="161.9" stroke="#858585" stroke-width="0.8"/>
<text x="59.5" y="164.53" font-size="7.3" text-anchor="end" font-weight="normal" fill="#111">1.5</text>
<line x1="62.4" y1="148" x2="64" y2="148" stroke="#858585" stroke-width="0.8"/>
<text x="59.5" y="150.63" font-size="7.3" text-anchor="end" font-weight="normal" fill="#111">2.0</text>
<text x="41.8" y="173.34" font-size="7.6" text-anchor="middle" fill="#111" transform="rotate(-90 41.8 170.6)">Tumor volume (cm<tspan font-size="5.32" dy="-3.19">3</tspan><tspan dy="3.19">)</tspan></text>
<text x="101" y="222.83" font-size="7.3" text-anchor="middle" font-weight="normal" fill="#111">Weeks</text>
<line x1="82.04" y1="189.7" x2="82.04" y2="184.14" stroke="#7d7d7d" stroke-width="0.5"/>
<line x1="81.04" y1="189.7" x2="83.04" y2="189.7" stroke="#7d7d7d" stroke-width="0.5"/>
<line x1="81.04" y1="184.14" x2="83.04" y2="184.14" stroke="#7d7d7d" stroke-width="0.5"/>
<line x1="90.24" y1="179.97" x2="90.24" y2="174.41" stroke="#7d7d7d" stroke-width="0.5"/>
<line x1="89.24" y1="179.97" x2="91.24" y2="179.97" stroke="#7d7d7d" stroke-width="0.5"/>
<line x1="89.24" y1="174.41" x2="91.24" y2="174.41" stroke="#7d7d7d" stroke-width="0.5"/>
<line x1="98.44" y1="159.95" x2="98.44" y2="146.05" stroke="#7d7d7d" stroke-width="0.5"/>
<line x1="97.44" y1="159.95" x2="99.44" y2="159.95" stroke="#7d7d7d" stroke-width="0.5"/>
<line x1="97.44" y1="146.05" x2="99.44" y2="146.05" stroke="#7d7d7d" stroke-width="0.5"/>
<line x1="82.04" y1="201.38" x2="82.04" y2="199.15" stroke="#ff2a1a" stroke-width="0.5"/>
<line x1="81.04" y1="201.38" x2="83.04" y2="201.38" stroke="#ff2a1a" stroke-width="0.5"/>
<line x1="81.04" y1="199.15" x2="83.04" y2="199.15" stroke="#ff2a1a" stroke-width="0.5"/>
<polyline points="64,199.43 73.84,198.04 78.76,193.87 82.04,186.92 90.24,177.19 98.44,153.56" fill="none" stroke="#7d7d7d" stroke-width="1.75" stroke-linejoin="round"/>
<polyline points="64,199.43 73.84,201.38 80.4,202.49 88.6,203.32 96.8,203.32 129.6,203.32" fill="none" stroke="#2424ff" stroke-width="1.75" stroke-linejoin="round"/>
<polyline points="64,199.43 73.84,201.38 82.04,200.26 86.96,201.38 96.8,202.49 106.64,202.21 113.2,201.93 121.4,200.82 129.6,200.26" fill="none" stroke="#ff2a1a" stroke-width="1.75" stroke-linejoin="round"/>
<text x="186" y="132.23" font-size="7.3" text-anchor="middle" font-weight="normal" fill="#111">Day 14</text>
<line x1="168" y1="141.5" x2="168" y2="203.6" stroke="#858585" stroke-width="0.8"/>
<line x1="168" y1="203.6" x2="211.5" y2="203.6" stroke="#858585" stroke-width="0.8"/>
<line x1="177" y1="203.6" x2="177" y2="205.2" stroke="#858585" stroke-width="0.8"/>
<text x="177" y="213.73" font-size="7.3" text-anchor="middle" font-weight="normal" fill="#111">(1)</text>
<line x1="190" y1="203.6" x2="190" y2="205.2" stroke="#858585" stroke-width="0.8"/>
<text x="190" y="213.73" font-size="7.3" text-anchor="middle" font-weight="normal" fill="#111">(2)</text>
<line x1="202.6" y1="203.6" x2="202.6" y2="205.2" stroke="#858585" stroke-width="0.8"/>
<text x="202.6" y="213.73" font-size="7.3" text-anchor="middle" font-weight="normal" fill="#111">(3)</text>
<line x1="166.4" y1="203.6" x2="168" y2="203.6" stroke="#858585" stroke-width="0.8"/>
<text x="164" y="206.23" font-size="7.3" text-anchor="end" font-weight="normal" fill="#111">0</text>
<line x1="166.4" y1="183.2" x2="168" y2="183.2" stroke="#858585" stroke-width="0.8"/>
<text x="164" y="185.83" font-size="7.3" text-anchor="end" font-weight="normal" fill="#111">1</text>
<line x1="166.4" y1="162.8" x2="168" y2="162.8" stroke="#858585" stroke-width="0.8"/>
<text x="164" y="165.43" font-size="7.3" text-anchor="end" font-weight="normal" fill="#111">2</text>
<line x1="166.4" y1="142.4" x2="168" y2="142.4" stroke="#858585" stroke-width="0.8"/>
<text x="164" y="145.03" font-size="7.3" text-anchor="end" font-weight="normal" fill="#111">3</text>
<text x="155" y="175.74" font-size="7.6" text-anchor="middle" fill="#111" transform="rotate(-90 155 173)">Tumor volume (cm<tspan font-size="5.32" dy="-3.19">3</tspan><tspan dy="3.19">)</tspan></text>
<circle cx="176" cy="174.02" r="2" fill="#9a9a9a" stroke="#9a9a9a" stroke-width="0.6" fill-opacity="0.7"/>
<circle cx="179.5" cy="176.06" r="2" fill="#9a9a9a" stroke="#9a9a9a" stroke-width="0.6" fill-opacity="0.7"/>
<circle cx="175" cy="179.12" r="2" fill="#9a9a9a" stroke="#9a9a9a" stroke-width="0.6" fill-opacity="0.7"/>
<circle cx="179" cy="180.14" r="2" fill="#9a9a9a" stroke="#9a9a9a" stroke-width="0.6" fill-opacity="0.7"/>
<circle cx="177" cy="182.18" r="2" fill="#9a9a9a" stroke="#9a9a9a" stroke-width="0.6" fill-opacity="0.7"/>
<circle cx="175" cy="185.24" r="2" fill="#9a9a9a" stroke="#9a9a9a" stroke-width="0.6" fill-opacity="0.7"/>
<circle cx="179.5" cy="186.26" r="2" fill="#9a9a9a" stroke="#9a9a9a" stroke-width="0.6" fill-opacity="0.7"/>
<circle cx="177" cy="187.28" r="2" fill="#9a9a9a" stroke="#9a9a9a" stroke-width="0.6" fill-opacity="0.7"/>
<circle cx="175.5" cy="188.91" r="2" fill="#9a9a9a" stroke="#9a9a9a" stroke-width="0.6" fill-opacity="0.7"/>
<circle cx="179" cy="189.32" r="2" fill="#9a9a9a" stroke="#9a9a9a" stroke-width="0.6" fill-opacity="0.7"/>
<circle cx="177" cy="194.01" r="2" fill="#9a9a9a" stroke="#9a9a9a" stroke-width="0.6" fill-opacity="0.7"/>
<line x1="173.5" y1="184.22" x2="180.5" y2="184.22" stroke="#9a9a9a" stroke-width="0.7"/>
<line x1="177" y1="190.34" x2="177" y2="178.1" stroke="#9a9a9a" stroke-width="0.7"/>
<line x1="175" y1="190.34" x2="179" y2="190.34" stroke="#9a9a9a" stroke-width="0.7"/>
<line x1="175" y1="178.1" x2="179" y2="178.1" stroke="#9a9a9a" stroke-width="0.7"/>
<circle cx="190" cy="197.48" r="2" fill="#f04a3a" stroke="#f04a3a" stroke-width="0.6" fill-opacity="0.7"/>
<circle cx="188.5" cy="199.52" r="2" fill="#f04a3a" stroke="#f04a3a" stroke-width="0.6" fill-opacity="0.7"/>
<circle cx="191.5" cy="200.54" r="2" fill="#f04a3a" stroke="#f04a3a" stroke-width="0.6" fill-opacity="0.7"/>
<circle cx="189" cy="201.97" r="2" fill="#f04a3a" stroke="#f04a3a" stroke-width="0.6" fill-opacity="0.7"/>
<circle cx="191" cy="202.58" r="2" fill="#f04a3a" stroke="#f04a3a" stroke-width="0.6" fill-opacity="0.7"/>
<circle cx="190" cy="203.19" r="2" fill="#f04a3a" stroke="#f04a3a" stroke-width="0.6" fill-opacity="0.7"/>
<circle cx="188" cy="202.99" r="2" fill="#f04a3a" stroke="#f04a3a" stroke-width="0.6" fill-opacity="0.7"/>
<circle cx="192" cy="203.19" r="2" fill="#f04a3a" stroke="#f04a3a" stroke-width="0.6" fill-opacity="0.7"/>
<line x1="186.5" y1="201.56" x2="193.5" y2="201.56" stroke="#f04a3a" stroke-width="0.7"/>
<line x1="190" y1="203.6" x2="190" y2="199.52" stroke="#f04a3a" stroke-width="0.7"/>
<line x1="188" y1="203.6" x2="192" y2="203.6" stroke="#f04a3a" stroke-width="0.7"/>
<line x1="188" y1="199.52" x2="192" y2="199.52" stroke="#f04a3a" stroke-width="0.7"/>
<circle cx="198" cy="203.19" r="2" fill="#4a5cf5" stroke="#4a5cf5" stroke-width="0.6" fill-opacity="0.7"/>
<circle cx="200" cy="203.19" r="2" fill="#4a5cf5" stroke="#4a5cf5" stroke-width="0.6" fill-opacity="0.7"/>
<circle cx="202" cy="203.19" r="2" fill="#4a5cf5" stroke="#4a5cf5" stroke-width="0.6" fill-opacity="0.7"/>
<circle cx="204" cy="203.19" r="2" fill="#4a5cf5" stroke="#4a5cf5" stroke-width="0.6" fill-opacity="0.7"/>
<circle cx="206" cy="203.19" r="2" fill="#4a5cf5" stroke="#4a5cf5" stroke-width="0.6" fill-opacity="0.7"/>
<circle cx="201" cy="202.99" r="2" fill="#4a5cf5" stroke="#4a5cf5" stroke-width="0.6" fill-opacity="0.7"/>
<circle cx="203" cy="203.4" r="2" fill="#4a5cf5" stroke="#4a5cf5" stroke-width="0.6" fill-opacity="0.7"/>
<circle cx="199" cy="203.4" r="2" fill="#4a5cf5" stroke="#4a5cf5" stroke-width="0.6" fill-opacity="0.7"/>
<circle cx="205" cy="203.4" r="2" fill="#4a5cf5" stroke="#4a5cf5" stroke-width="0.6" fill-opacity="0.7"/>
<line x1="199.1" y1="203.19" x2="206.1" y2="203.19" stroke="#4a5cf5" stroke-width="0.7"/>
<line x1="202.6" y1="203.6" x2="202.6" y2="202.99" stroke="#4a5cf5" stroke-width="0.7"/>
<line x1="200.6" y1="203.6" x2="204.6" y2="203.6" stroke="#4a5cf5" stroke-width="0.7"/>
<line x1="200.6" y1="202.99" x2="204.6" y2="202.99" stroke="#4a5cf5" stroke-width="0.7"/>
<polyline points="177,154 177,141 202.4,141 202.4,151" fill="none" stroke="#333" stroke-width="0.6"/>
<text x="190" y="141.8" font-size="9.2" font-weight="bold" text-anchor="middle" fill="#111">****</text>
<polyline points="190,196.6 190,153.6 202.4,153.6 202.4,200.6" fill="none" stroke="#333" stroke-width="0.6"/>
<text x="196.3" y="151.87" font-size="5.2" text-anchor="middle" font-weight="normal" fill="#111">ns</text>
<polyline points="177,171 177,167 190,167 190,197" fill="none" stroke="#333" stroke-width="0.6"/>
<text x="183.5" y="168" font-size="9.2" font-weight="bold" text-anchor="middle" fill="#111">****</text>
<line x1="245" y1="143" x2="245" y2="203.6" stroke="#858585" stroke-width="0.8"/>
<line x1="245" y1="203.6" x2="318.5" y2="203.6" stroke="#858585" stroke-width="0.8"/>
<line x1="245" y1="203.6" x2="245" y2="205.2" stroke="#858585" stroke-width="0.8"/>
<text x="245" y="213.73" font-size="7.3" text-anchor="middle" font-weight="normal" fill="#111">0</text>
<line x1="266" y1="203.6" x2="266" y2="205.2" stroke="#858585" stroke-width="0.8"/>
<text x="266" y="213.73" font-size="7.3" text-anchor="middle" font-weight="normal" fill="#111">2</text>
<line x1="287" y1="203.6" x2="287" y2="205.2" stroke="#858585" stroke-width="0.8"/>
<text x="287" y="213.73" font-size="7.3" text-anchor="middle" font-weight="normal" fill="#111">4</text>
<line x1="308" y1="203.6" x2="308" y2="205.2" stroke="#858585" stroke-width="0.8"/>
<text x="308" y="213.73" font-size="7.3" text-anchor="middle" font-weight="normal" fill="#111">6</text>
<line x1="243.4" y1="203.6" x2="245" y2="203.6" stroke="#858585" stroke-width="0.8"/>
<text x="242" y="206.23" font-size="7.3" text-anchor="end" font-weight="normal" fill="#111">0</text>
<line x1="243.4" y1="176" x2="245" y2="176" stroke="#858585" stroke-width="0.8"/>
<text x="242" y="178.63" font-size="7.3" text-anchor="end" font-weight="normal" fill="#111">50</text>
<line x1="243.4" y1="148.4" x2="245" y2="148.4" stroke="#858585" stroke-width="0.8"/>
<text x="242" y="151.03" font-size="7.3" text-anchor="end" font-weight="normal" fill="#111">100</text>
<text x="223.6" y="173.2" font-size="7.5" text-anchor="middle" font-weight="normal" fill="#111" transform="rotate(-90 223.6 170.5)">PFS (%)</text>
<text x="282" y="223.63" font-size="7.3" text-anchor="middle" font-weight="normal" fill="#111">Weeks</text>
<polyline points="245,148.4 264.95,148.4 264.95,156.13 267.05,156.13 267.05,179.86 272.3,179.86 272.3,188.14 277.02,188.14 277.02,195.87 282.8,195.87 282.8,203.6" fill="none" stroke="#7d7d7d" stroke-width="1.6" stroke-linejoin="round" stroke-linejoin="miter"/>
<polyline points="245,149.3 315.35,149.3 315.35,149.3" fill="none" stroke="#ff2a1a" stroke-width="1.6" stroke-linejoin="round" stroke-linejoin="miter"/>
<polyline points="245,147.7 315.35,147.7 315.35,147.7" fill="none" stroke="#2424ff" stroke-width="1.6" stroke-linejoin="round" stroke-linejoin="miter"/>
<line x1="301" y1="166" x2="309" y2="166" stroke="#7d7d7d" stroke-width="1.5"/>
<text x="313" y="168.52" font-size="7" text-anchor="start" font-weight="normal" fill="#111">CD19.CAR (1)</text>
<line x1="301" y1="176" x2="309" y2="176" stroke="#ff2a1a" stroke-width="1.5"/>
<text x="313" y="178.52" font-size="7" text-anchor="start" font-weight="normal" fill="#111">GPC2.CAR (2)</text>
<line x1="301" y1="185" x2="309" y2="185" stroke="#2424ff" stroke-width="1.5"/>
<text x="313" y="187.52" font-size="7" text-anchor="start" font-weight="normal" fill="#111">GPC2.CAR-GD2.BiCE (3)</text>
<line x1="363" y1="163" x2="363" y2="178" stroke="#666" stroke-width="0.6"/>
<text x="367.5" y="174.7" font-size="7.8" font-weight="bold" text-anchor="middle" fill="#111">*</text>
<line x1="397.6" y1="175" x2="397.6" y2="189.5" stroke="#666" stroke-width="0.6"/>
<text x="402.5" y="184.52" font-size="7" text-anchor="middle" font-weight="normal" fill="#111">ns</text>
<line x1="411.4" y1="166" x2="411.4" y2="192" stroke="#666" stroke-width="0.6"/>
<text x="418" y="182.5" font-size="7.8" font-weight="bold" text-anchor="middle" fill="#111">**</text>
<text x="1.5" y="224.4" font-size="11.5" font-weight="bold" text-anchor="start" fill="#000">d</text>
<rect x="5.6" y="236" width="21.4" height="72" fill="#f0f0f0" stroke="none" stroke-width="0"/>
<text x="12" y="275.81" font-size="7.8" text-anchor="middle" font-weight="normal" fill="#111" transform="rotate(-90 12 273)">COG-N-561x</text>
<text x="21.3" y="275.81" font-size="7.8" text-anchor="middle" fill="#111" transform="rotate(-90 21.3 273)">(GPC2<tspan font-size="4.68" dy="-2.65">Mo</tspan><tspan dy="2.65">/GD2</tspan><tspan font-size="4.68" dy="-2.65">Hi</tspan><tspan dy="2.65">)</tspan></text>
<line x1="64" y1="241" x2="64" y2="302.6" stroke="#858585" stroke-width="0.8"/>
<line x1="64" y1="302.6" x2="136.5" y2="302.6" stroke="#858585" stroke-width="0.8"/>
<line x1="64" y1="302.6" x2="64" y2="304.2" stroke="#858585" stroke-width="0.8"/>
<text x="64" y="312.73" font-size="7.3" text-anchor="middle" font-weight="normal" fill="#111">0</text>
<line x1="80.4" y1="302.6" x2="80.4" y2="304.2" stroke="#858585" stroke-width="0.8"/>
<text x="80.4" y="312.73" font-size="7.3" text-anchor="middle" font-weight="normal" fill="#111">1</text>
<line x1="96.8" y1="302.6" x2="96.8" y2="304.2" stroke="#858585" stroke-width="0.8"/>
<text x="96.8" y="312.73" font-size="7.3" text-anchor="middle" font-weight="normal" fill="#111">2</text>
<line x1="113.2" y1="302.6" x2="113.2" y2="304.2" stroke="#858585" stroke-width="0.8"/>
<text x="113.2" y="312.73" font-size="7.3" text-anchor="middle" font-weight="normal" fill="#111">3</text>
<line x1="129.6" y1="302.6" x2="129.6" y2="304.2" stroke="#858585" stroke-width="0.8"/>
<text x="129.6" y="312.73" font-size="7.3" text-anchor="middle" font-weight="normal" fill="#111">4</text>
<line x1="62.4" y1="302.6" x2="64" y2="302.6" stroke="#858585" stroke-width="0.8"/>
<text x="60" y="305.23" font-size="7.3" text-anchor="end" font-weight="normal" fill="#111">0</text>
<line x1="62.4" y1="283.2" x2="64" y2="283.2" stroke="#858585" stroke-width="0.8"/>
<text x="60" y="285.83" font-size="7.3" text-anchor="end" font-weight="normal" fill="#111">1</text>
<line x1="62.4" y1="263.8" x2="64" y2="263.8" stroke="#858585" stroke-width="0.8"/>
<text x="60" y="266.43" font-size="7.3" text-anchor="end" font-weight="normal" fill="#111">2</text>
<line x1="62.4" y1="244.4" x2="64" y2="244.4" stroke="#858585" stroke-width="0.8"/>
<text x="60" y="247.03" font-size="7.3" text-anchor="end" font-weight="normal" fill="#111">3</text>
<text x="49" y="273.24" font-size="7.6" text-anchor="middle" fill="#111" transform="rotate(-90 49 270.5)">Tumor volume (cm<tspan font-size="5.32" dy="-3.19">3</tspan><tspan dy="3.19">)</tspan></text>
<text x="101" y="322.83" font-size="7.3" text-anchor="middle" font-weight="normal" fill="#111">Weeks</text>
<line x1="73.84" y1="280.29" x2="73.84" y2="273.5" stroke="#7d7d7d" stroke-width="0.5"/>
<line x1="72.84" y1="280.29" x2="74.84" y2="280.29" stroke="#7d7d7d" stroke-width="0.5"/>
<line x1="72.84" y1="273.5" x2="74.84" y2="273.5" stroke="#7d7d7d" stroke-width="0.5"/>
<line x1="80.4" y1="260.89" x2="80.4" y2="245.37" stroke="#7d7d7d" stroke-width="0.5"/>
<line x1="79.4" y1="260.89" x2="81.4" y2="260.89" stroke="#7d7d7d" stroke-width="0.5"/>
<line x1="79.4" y1="245.37" x2="81.4" y2="245.37" stroke="#7d7d7d" stroke-width="0.5"/>
<line x1="73.84" y1="293.87" x2="73.84" y2="289.99" stroke="#ff2a1a" stroke-width="0.5"/>
<line x1="72.84" y1="293.87" x2="74.84" y2="293.87" stroke="#ff2a1a" stroke-width="0.5"/>
<line x1="72.84" y1="289.99" x2="74.84" y2="289.99" stroke="#ff2a1a" stroke-width="0.5"/>
<line x1="80.4" y1="290.96" x2="80.4" y2="284.17" stroke="#ff2a1a" stroke-width="0.5"/>
<line x1="79.4" y1="290.96" x2="81.4" y2="290.96" stroke="#ff2a1a" stroke-width="0.5"/>
<line x1="79.4" y1="284.17" x2="81.4" y2="284.17" stroke="#ff2a1a" stroke-width="0.5"/>
<line x1="90.24" y1="287.08" x2="90.24" y2="276.41" stroke="#ff2a1a" stroke-width="0.5"/>
<line x1="89.24" y1="287.08" x2="91.24" y2="287.08" stroke="#ff2a1a" stroke-width="0.5"/>
<line x1="89.24" y1="276.41" x2="91.24" y2="276.41" stroke="#ff2a1a" stroke-width="0.5"/>
<line x1="96.8" y1="277.38" x2="96.8" y2="257.98" stroke="#ff2a1a" stroke-width="0.5"/>
<line x1="95.8" y1="277.38" x2="97.8" y2="277.38" stroke="#ff2a1a" stroke-width="0.5"/>
<line x1="95.8" y1="257.98" x2="97.8" y2="257.98" stroke="#ff2a1a" stroke-width="0.5"/>
<line x1="80.4" y1="297.17" x2="80.4" y2="294.45" stroke="#2424ff" stroke-width="0.5"/>
<line x1="79.4" y1="297.17" x2="81.4" y2="297.17" stroke="#2424ff" stroke-width="0.5"/>
<line x1="79.4" y1="294.45" x2="81.4" y2="294.45" stroke="#2424ff" stroke-width="0.5"/>
<line x1="90.24" y1="297.75" x2="90.24" y2="293.87" stroke="#2424ff" stroke-width="0.5"/>
<line x1="89.24" y1="297.75" x2="91.24" y2="297.75" stroke="#2424ff" stroke-width="0.5"/>
<line x1="89.24" y1="293.87" x2="91.24" y2="293.87" stroke="#2424ff" stroke-width="0.5"/>
<line x1="96.8" y1="294.84" x2="96.8" y2="288.05" stroke="#2424ff" stroke-width="0.5"/>
<line x1="95.8" y1="294.84" x2="97.8" y2="294.84" stroke="#2424ff" stroke-width="0.5"/>
<line x1="95.8" y1="288.05" x2="97.8" y2="288.05" stroke="#2424ff" stroke-width="0.5"/>
<line x1="106.64" y1="290.96" x2="106.64" y2="273.5" stroke="#2424ff" stroke-width="0.5"/>
<line x1="105.64" y1="290.96" x2="107.64" y2="290.96" stroke="#2424ff" stroke-width="0.5"/>
<line x1="105.64" y1="273.5" x2="107.64" y2="273.5" stroke="#2424ff" stroke-width="0.5"/>
<line x1="113.2" y1="283.2" x2="113.2" y2="262.83" stroke="#2424ff" stroke-width="0.5"/>
<line x1="112.2" y1="283.2" x2="114.2" y2="283.2" stroke="#2424ff" stroke-width="0.5"/>
<line x1="112.2" y1="262.83" x2="114.2" y2="262.83" stroke="#2424ff" stroke-width="0.5"/>
<polyline points="64,294.84 73.84,277.38 80.4,253.13" fill="none" stroke="#7d7d7d" stroke-width="1.75" stroke-linejoin="round"/>
<polyline points="64,295.81 73.84,291.93 80.4,288.05 90.24,282.23 96.8,267.68" fill="none" stroke="#ff2a1a" stroke-width="1.75" stroke-linejoin="round"/>
<polyline points="64,295.81 73.84,292.9 80.4,295.81 90.24,295.81 96.8,291.93 106.64,281.26 113.2,272.53" fill="none" stroke="#2424ff" stroke-width="1.75" stroke-linejoin="round"/>
<text x="186" y="226.63" font-size="7.3" text-anchor="middle" font-weight="normal" fill="#111">Day 14</text>
<line x1="168" y1="240.5" x2="168" y2="302.6" stroke="#858585" stroke-width="0.8"/>
<line x1="168" y1="302.6" x2="211.5" y2="302.6" stroke="#858585" stroke-width="0.8"/>
<line x1="177" y1="302.6" x2="177" y2="304.2" stroke="#858585" stroke-width="0.8"/>
<text x="177" y="312.73" font-size="7.3" text-anchor="middle" font-weight="normal" fill="#111">(1)</text>
<line x1="190" y1="302.6" x2="190" y2="304.2" stroke="#858585" stroke-width="0.8"/>
<text x="190" y="312.73" font-size="7.3" text-anchor="middle" font-weight="normal" fill="#111">(2)</text>
<line x1="202.6" y1="302.6" x2="202.6" y2="304.2" stroke="#858585" stroke-width="0.8"/>
<text x="202.6" y="312.73" font-size="7.3" text-anchor="middle" font-weight="normal" fill="#111">(3)</text>
<line x1="166.4" y1="302.6" x2="168" y2="302.6" stroke="#858585" stroke-width="0.8"/>
<text x="164" y="305.23" font-size="7.3" text-anchor="end" font-weight="normal" fill="#111">0</text>
<line x1="166.4" y1="290.3" x2="168" y2="290.3" stroke="#858585" stroke-width="0.8"/>
<text x="164" y="292.93" font-size="7.3" text-anchor="end" font-weight="normal" fill="#111">1</text>
<line x1="166.4" y1="278" x2="168" y2="278" stroke="#858585" stroke-width="0.8"/>
<text x="164" y="280.63" font-size="7.3" text-anchor="end" font-weight="normal" fill="#111">2</text>
<line x1="166.4" y1="265.7" x2="168" y2="265.7" stroke="#858585" stroke-width="0.8"/>
<text x="164" y="268.33" font-size="7.3" text-anchor="end" font-weight="normal" fill="#111">3</text>
<line x1="166.4" y1="253.4" x2="168" y2="253.4" stroke="#858585" stroke-width="0.8"/>
<text x="164" y="256.03" font-size="7.3" text-anchor="end" font-weight="normal" fill="#111">4</text>
<line x1="166.4" y1="241.1" x2="168" y2="241.1" stroke="#858585" stroke-width="0.8"/>
<text x="164" y="243.73" font-size="7.3" text-anchor="end" font-weight="normal" fill="#111">5</text>
<text x="153.5" y="272.74" font-size="7.6" text-anchor="middle" fill="#111" transform="rotate(-90 153.5 270)">Tumor volume (cm<tspan font-size="5.32" dy="-3.19">3</tspan><tspan dy="3.19">)</tspan></text>
<circle cx="175" cy="255.86" r="2" fill="#9a9a9a" stroke="#9a9a9a" stroke-width="0.6" fill-opacity="0.7"/>
<circle cx="179" cy="257.09" r="2" fill="#9a9a9a" stroke="#9a9a9a" stroke-width="0.6" fill-opacity="0.7"/>
<circle cx="177" cy="263.24" r="2" fill="#9a9a9a" stroke="#9a9a9a" stroke-width="0.6" fill-opacity="0.7"/>
<circle cx="175" cy="269.39" r="2" fill="#9a9a9a" stroke="#9a9a9a" stroke-width="0.6" fill-opacity="0.7"/>
<circle cx="179" cy="270.62" r="2" fill="#9a9a9a" stroke="#9a9a9a" stroke-width="0.6" fill-opacity="0.7"/>
<line x1="173.5" y1="263.24" x2="180.5" y2="263.24" stroke="#9a9a9a" stroke-width="0.7"/>
<line x1="177" y1="269.39" x2="177" y2="257.09" stroke="#9a9a9a" stroke-width="0.7"/>
<line x1="175" y1="269.39" x2="179" y2="269.39" stroke="#9a9a9a" stroke-width="0.7"/>
<line x1="175" y1="257.09" x2="179" y2="257.09" stroke="#9a9a9a" stroke-width="0.7"/>
<circle cx="188" cy="266.31" r="2" fill="#f04a3a" stroke="#f04a3a" stroke-width="0.6" fill-opacity="0.7"/>
<circle cx="190.5" cy="266.93" r="2" fill="#f04a3a" stroke="#f04a3a" stroke-width="0.6" fill-opacity="0.7"/>
<circle cx="192" cy="267.55" r="2" fill="#f04a3a" stroke="#f04a3a" stroke-width="0.6" fill-opacity="0.7"/>
<circle cx="190" cy="290.3" r="2" fill="#f04a3a" stroke="#f04a3a" stroke-width="0.6" fill-opacity="0.7"/>
<circle cx="190" cy="295.22" r="2" fill="#f04a3a" stroke="#f04a3a" stroke-width="0.6" fill-opacity="0.7"/>
<circle cx="190" cy="298.91" r="2" fill="#f04a3a" stroke="#f04a3a" stroke-width="0.6" fill-opacity="0.7"/>
<line x1="186.5" y1="280.46" x2="193.5" y2="280.46" stroke="#f04a3a" stroke-width="0.7"/>
<line x1="190" y1="295.22" x2="190" y2="265.7" stroke="#f04a3a" stroke-width="0.7"/>
<line x1="188" y1="295.22" x2="192" y2="295.22" stroke="#f04a3a" stroke-width="0.7"/>
<line x1="188" y1="265.7" x2="192" y2="265.7" stroke="#f04a3a" stroke-width="0.7"/>
<circle cx="204" cy="287.84" r="2" fill="#4a5cf5" stroke="#4a5cf5" stroke-width="0.6" fill-opacity="0.7"/>
<circle cx="201" cy="289.69" r="2" fill="#4a5cf5" stroke="#4a5cf5" stroke-width="0.6" fill-opacity="0.7"/>
<circle cx="199" cy="295.22" r="2" fill="#4a5cf5" stroke="#4a5cf5" stroke-width="0.6" fill-opacity="0.7"/>
<circle cx="203" cy="296.45" r="2" fill="#4a5cf5" stroke="#4a5cf5" stroke-width="0.6" fill-opacity="0.7"/>
<circle cx="199" cy="301.37" r="2" fill="#4a5cf5" stroke="#4a5cf5" stroke-width="0.6" fill-opacity="0.7"/>
<circle cx="204" cy="301.99" r="2" fill="#4a5cf5" stroke="#4a5cf5" stroke-width="0.6" fill-opacity="0.7"/>
<line x1="199.1" y1="296.45" x2="206.1" y2="296.45" stroke="#4a5cf5" stroke-width="0.7"/>
<line x1="202.6" y1="301.37" x2="202.6" y2="290.3" stroke="#4a5cf5" stroke-width="0.7"/>
<line x1="200.6" y1="301.37" x2="204.6" y2="301.37" stroke="#4a5cf5" stroke-width="0.7"/>
<line x1="200.6" y1="290.3" x2="204.6" y2="290.3" stroke="#4a5cf5" stroke-width="0.7"/>
<polyline points="177,240.5 177,236 202.4,236 202.4,240.5" fill="none" stroke="#333" stroke-width="0.6"/>
<text x="189.6" y="236.8" font-size="9.2" font-weight="bold" text-anchor="middle" fill="#111">***</text>
<polyline points="177,251.6 177,248.6 188.4,248.6 188.4,291.6" fill="none" stroke="#333" stroke-width="0.6"/>
<text x="183" y="249.8" font-size="9.2" font-weight="bold" text-anchor="middle" fill="#111">*</text>
<polyline points="190.6,291.6 190.6,248.6 202.4,248.6 202.4,285.6" fill="none" stroke="#333" stroke-width="0.6"/>
<text x="196.5" y="249.8" font-size="9.2" font-weight="bold" text-anchor="middle" fill="#111">*</text>
<line x1="244.4" y1="242" x2="244.4" y2="302.4" stroke="#858585" stroke-width="0.8"/>
<line x1="244.4" y1="302.4" x2="318.5" y2="302.4" stroke="#858585" stroke-width="0.8"/>
<line x1="244.4" y1="302.4" x2="244.4" y2="304" stroke="#858585" stroke-width="0.8"/>
<text x="244.4" y="312.53" font-size="7.3" text-anchor="middle" font-weight="normal" fill="#111">0</text>
<line x1="262.8" y1="302.4" x2="262.8" y2="304" stroke="#858585" stroke-width="0.8"/>
<text x="262.8" y="312.53" font-size="7.3" text-anchor="middle" font-weight="normal" fill="#111">2</text>
<line x1="281.2" y1="302.4" x2="281.2" y2="304" stroke="#858585" stroke-width="0.8"/>
<text x="281.2" y="312.53" font-size="7.3" text-anchor="middle" font-weight="normal" fill="#111">4</text>
<line x1="299.6" y1="302.4" x2="299.6" y2="304" stroke="#858585" stroke-width="0.8"/>
<text x="299.6" y="312.53" font-size="7.3" text-anchor="middle" font-weight="normal" fill="#111">6</text>
<line x1="318" y1="302.4" x2="318" y2="304" stroke="#858585" stroke-width="0.8"/>
<text x="318" y="312.53" font-size="7.3" text-anchor="middle" font-weight="normal" fill="#111">8</text>
<line x1="242.8" y1="302.4" x2="244.4" y2="302.4" stroke="#858585" stroke-width="0.8"/>
<text x="241.4" y="305.03" font-size="7.3" text-anchor="end" font-weight="normal" fill="#111">0</text>
<line x1="242.8" y1="274.7" x2="244.4" y2="274.7" stroke="#858585" stroke-width="0.8"/>
<text x="241.4" y="277.33" font-size="7.3" text-anchor="end" font-weight="normal" fill="#111">50</text>
<line x1="242.8" y1="247" x2="244.4" y2="247" stroke="#858585" stroke-width="0.8"/>
<text x="241.4" y="249.63" font-size="7.3" text-anchor="end" font-weight="normal" fill="#111">100</text>
<text x="223.6" y="272.7" font-size="7.5" text-anchor="middle" font-weight="normal" fill="#111" transform="rotate(-90 223.6 270)">PFS (%)</text>
<text x="282" y="320.83" font-size="7.3" text-anchor="middle" font-weight="normal" fill="#111">Weeks</text>
<polyline points="262.8,247 268.32,247 268.32,254.76 272,254.76 272,270.82 277.52,270.82 277.52,278.58 286.72,278.58 286.72,286.33 305.12,286.33 305.12,302.4" fill="none" stroke="#2424ff" stroke-width="1.6" stroke-linejoin="round" stroke-linejoin="miter"/>
<polyline points="253.6,247 262.8,247 262.8,274.7 272,274.7 272,284.12 281.2,284.12 281.2,292.98 286.72,292.98 286.72,302.4" fill="none" stroke="#ff2a1a" stroke-width="1.6" stroke-linejoin="round" stroke-linejoin="miter"/>
<polyline points="244.4,247 253.6,247 253.6,280.24 259.12,280.24 259.12,302.4" fill="none" stroke="#7d7d7d" stroke-width="1.6" stroke-linejoin="round" stroke-linejoin="miter"/>
<line x1="302" y1="246.4" x2="310" y2="246.4" stroke="#7d7d7d" stroke-width="1.5"/>
<text x="313.6" y="248.92" font-size="7" text-anchor="start" font-weight="normal" fill="#111">CD19.CAR (1)</text>
<line x1="302" y1="256.4" x2="310" y2="256.4" stroke="#ff2a1a" stroke-width="1.5"/>
<text x="313.6" y="258.92" font-size="7" text-anchor="start" font-weight="normal" fill="#111">GPC2.CAR (2)</text>
<line x1="302" y1="266" x2="310" y2="266" stroke="#2424ff" stroke-width="1.5"/>
<text x="313.6" y="268.52" font-size="7" text-anchor="start" font-weight="normal" fill="#111">GPC2.CAR-GD2.BiCE (3)</text>
<line x1="363.6" y1="244" x2="363.6" y2="259" stroke="#666" stroke-width="0.6"/>
<text x="368.5" y="254.7" font-size="7.8" font-weight="bold" text-anchor="middle" fill="#111">*</text>
<line x1="398" y1="255" x2="398" y2="270" stroke="#666" stroke-width="0.6"/>
<text x="404.5" y="264.52" font-size="7" text-anchor="middle" font-weight="normal" fill="#111">ns</text>
<line x1="413.6" y1="245" x2="413.6" y2="271" stroke="#666" stroke-width="0.6"/>
<text x="420" y="261.5" font-size="7.8" font-weight="bold" text-anchor="middle" fill="#111">**</text>
<text x="1.5" y="329.3" font-size="11.5" font-weight="bold" text-anchor="start" fill="#000">e</text>
<rect x="6" y="339.6" width="20.8" height="66.4" fill="#f0f0f0" stroke="none" stroke-width="0"/>
<text x="12.3" y="375.31" font-size="7.8" text-anchor="middle" font-weight="normal" fill="#111" transform="rotate(-90 12.3 372.5)">COG-N-603x</text>
<text x="21.5" y="375.31" font-size="7.8" text-anchor="middle" fill="#111" transform="rotate(-90 21.5 372.5)">(GPC2<tspan font-size="4.68" dy="-2.65">Mo</tspan><tspan dy="2.65">/GD2</tspan><tspan font-size="4.68" dy="-2.65">Mo</tspan><tspan dy="2.65">)</tspan></text>
<line x1="64" y1="339" x2="64" y2="400.6" stroke="#858585" stroke-width="0.8"/>
<line x1="64" y1="400.6" x2="136.5" y2="400.6" stroke="#858585" stroke-width="0.8"/>
<line x1="64" y1="400.6" x2="64" y2="402.2" stroke="#858585" stroke-width="0.8"/>
<text x="64" y="410.73" font-size="7.3" text-anchor="middle" font-weight="normal" fill="#111">0</text>
<line x1="80.4" y1="400.6" x2="80.4" y2="402.2" stroke="#858585" stroke-width="0.8"/>
<text x="80.4" y="410.73" font-size="7.3" text-anchor="middle" font-weight="normal" fill="#111">1</text>
<line x1="96.8" y1="400.6" x2="96.8" y2="402.2" stroke="#858585" stroke-width="0.8"/>
<text x="96.8" y="410.73" font-size="7.3" text-anchor="middle" font-weight="normal" fill="#111">2</text>
<line x1="113.2" y1="400.6" x2="113.2" y2="402.2" stroke="#858585" stroke-width="0.8"/>
<text x="113.2" y="410.73" font-size="7.3" text-anchor="middle" font-weight="normal" fill="#111">3</text>
<line x1="129.6" y1="400.6" x2="129.6" y2="402.2" stroke="#858585" stroke-width="0.8"/>
<text x="129.6" y="410.73" font-size="7.3" text-anchor="middle" font-weight="normal" fill="#111">4</text>
<line x1="62.4" y1="400.6" x2="64" y2="400.6" stroke="#858585" stroke-width="0.8"/>
<text x="60" y="403.23" font-size="7.3" text-anchor="end" font-weight="normal" fill="#111">0</text>
<line x1="62.4" y1="381.4" x2="64" y2="381.4" stroke="#858585" stroke-width="0.8"/>
<text x="60" y="384.03" font-size="7.3" text-anchor="end" font-weight="normal" fill="#111">1</text>
<line x1="62.4" y1="362.2" x2="64" y2="362.2" stroke="#858585" stroke-width="0.8"/>
<text x="60" y="364.83" font-size="7.3" text-anchor="end" font-weight="normal" fill="#111">2</text>
<line x1="62.4" y1="343" x2="64" y2="343" stroke="#858585" stroke-width="0.8"/>
<text x="60" y="345.63" font-size="7.3" text-anchor="end" font-weight="normal" fill="#111">3</text>
<text x="49" y="370.74" font-size="7.6" text-anchor="middle" fill="#111" transform="rotate(-90 49 368)">Tumor volume (cm<tspan font-size="5.32" dy="-3.19">3</tspan><tspan dy="3.19">)</tspan></text>
<text x="101" y="419.63" font-size="7.3" text-anchor="middle" font-weight="normal" fill="#111">Weeks</text>
<line x1="90.24" y1="346.84" x2="90.24" y2="340.12" stroke="#7d7d7d" stroke-width="0.5"/>
<line x1="89.24" y1="346.84" x2="91.24" y2="346.84" stroke="#7d7d7d" stroke-width="0.5"/>
<line x1="89.24" y1="340.12" x2="91.24" y2="340.12" stroke="#7d7d7d" stroke-width="0.5"/>
<line x1="90.24" y1="362.2" x2="90.24" y2="352.6" stroke="#ff2a1a" stroke-width="0.5"/>
<line x1="89.24" y1="362.2" x2="91.24" y2="362.2" stroke="#ff2a1a" stroke-width="0.5"/>
<line x1="89.24" y1="352.6" x2="91.24" y2="352.6" stroke="#ff2a1a" stroke-width="0.5"/>
<line x1="96.8" y1="351.64" x2="96.8" y2="343.96" stroke="#ff2a1a" stroke-width="0.5"/>
<line x1="95.8" y1="351.64" x2="97.8" y2="351.64" stroke="#ff2a1a" stroke-width="0.5"/>
<line x1="95.8" y1="343.96" x2="97.8" y2="343.96" stroke="#ff2a1a" stroke-width="0.5"/>
<line x1="80.4" y1="387.16" x2="80.4" y2="379.48" stroke="#2424ff" stroke-width="0.5"/>
<line x1="79.4" y1="387.16" x2="81.4" y2="387.16" stroke="#2424ff" stroke-width="0.5"/>
<line x1="79.4" y1="379.48" x2="81.4" y2="379.48" stroke="#2424ff" stroke-width="0.5"/>
<line x1="90.24" y1="381.4" x2="90.24" y2="367.96" stroke="#2424ff" stroke-width="0.5"/>
<line x1="89.24" y1="381.4" x2="91.24" y2="381.4" stroke="#2424ff" stroke-width="0.5"/>
<line x1="89.24" y1="367.96" x2="91.24" y2="367.96" stroke="#2424ff" stroke-width="0.5"/>
<line x1="96.8" y1="367.96" x2="96.8" y2="357.4" stroke="#2424ff" stroke-width="0.5"/>
<line x1="95.8" y1="367.96" x2="97.8" y2="367.96" stroke="#2424ff" stroke-width="0.5"/>
<line x1="95.8" y1="357.4" x2="97.8" y2="357.4" stroke="#2424ff" stroke-width="0.5"/>
<line x1="106.64" y1="364.12" x2="106.64" y2="354.52" stroke="#2424ff" stroke-width="0.5"/>
<line x1="105.64" y1="364.12" x2="107.64" y2="364.12" stroke="#2424ff" stroke-width="0.5"/>
<line x1="105.64" y1="354.52" x2="107.64" y2="354.52" stroke="#2424ff" stroke-width="0.5"/>
<polyline points="64,391.96 73.84,381.4 80.4,364.12 90.24,343" fill="none" stroke="#7d7d7d" stroke-width="1.75" stroke-linejoin="round"/>
<polyline points="64,392.92 73.84,386.2 80.4,377.56 90.24,357.4 96.8,347.8" fill="none" stroke="#ff2a1a" stroke-width="1.75" stroke-linejoin="round"/>
<polyline points="64,392.92 73.84,387.16 80.4,383.32 90.24,374.68 96.8,363.16 106.64,359.32" fill="none" stroke="#2424ff" stroke-width="1.75" stroke-linejoin="round"/>
<text x="186" y="329.23" font-size="7.3" text-anchor="middle" font-weight="normal" fill="#111">Day 10</text>
<line x1="168" y1="338" x2="168" y2="399.4" stroke="#858585" stroke-width="0.8"/>
<line x1="168" y1="399.4" x2="211.5" y2="399.4" stroke="#858585" stroke-width="0.8"/>
<line x1="177" y1="399.4" x2="177" y2="401" stroke="#858585" stroke-width="0.8"/>
<text x="177" y="409.53" font-size="7.3" text-anchor="middle" font-weight="normal" fill="#111">(1)</text>
<line x1="190" y1="399.4" x2="190" y2="401" stroke="#858585" stroke-width="0.8"/>
<text x="190" y="409.53" font-size="7.3" text-anchor="middle" font-weight="normal" fill="#111">(2)</text>
<line x1="202.6" y1="399.4" x2="202.6" y2="401" stroke="#858585" stroke-width="0.8"/>
<text x="202.6" y="409.53" font-size="7.3" text-anchor="middle" font-weight="normal" fill="#111">(3)</text>
<line x1="166.4" y1="399.4" x2="168" y2="399.4" stroke="#858585" stroke-width="0.8"/>
<text x="164" y="402.03" font-size="7.3" text-anchor="end" font-weight="normal" fill="#111">0</text>
<line x1="166.4" y1="387.24" x2="168" y2="387.24" stroke="#858585" stroke-width="0.8"/>
<text x="164" y="389.87" font-size="7.3" text-anchor="end" font-weight="normal" fill="#111">1</text>
<line x1="166.4" y1="375.08" x2="168" y2="375.08" stroke="#858585" stroke-width="0.8"/>
<text x="164" y="377.71" font-size="7.3" text-anchor="end" font-weight="normal" fill="#111">2</text>
<line x1="166.4" y1="362.92" x2="168" y2="362.92" stroke="#858585" stroke-width="0.8"/>
<text x="164" y="365.55" font-size="7.3" text-anchor="end" font-weight="normal" fill="#111">3</text>
<line x1="166.4" y1="350.76" x2="168" y2="350.76" stroke="#858585" stroke-width="0.8"/>
<text x="164" y="353.39" font-size="7.3" text-anchor="end" font-weight="normal" fill="#111">4</text>
<line x1="166.4" y1="338.6" x2="168" y2="338.6" stroke="#858585" stroke-width="0.8"/>
<text x="164" y="341.23" font-size="7.3" text-anchor="end" font-weight="normal" fill="#111">5</text>
<text x="153.5" y="369.74" font-size="7.6" text-anchor="middle" fill="#111" transform="rotate(-90 153.5 367)">Tumor volume (cm<tspan font-size="5.32" dy="-3.19">3</tspan><tspan dy="3.19">)</tspan></text>
<circle cx="175" cy="359.27" r="2" fill="#9a9a9a" stroke="#9a9a9a" stroke-width="0.6" fill-opacity="0.7"/>
<circle cx="179" cy="361.7" r="2" fill="#9a9a9a" stroke="#9a9a9a" stroke-width="0.6" fill-opacity="0.7"/>
<circle cx="177" cy="366.57" r="2" fill="#9a9a9a" stroke="#9a9a9a" stroke-width="0.6" fill-opacity="0.7"/>
<circle cx="175" cy="371.43" r="2" fill="#9a9a9a" stroke="#9a9a9a" stroke-width="0.6" fill-opacity="0.7"/>
<circle cx="179" cy="372.65" r="2" fill="#9a9a9a" stroke="#9a9a9a" stroke-width="0.6" fill-opacity="0.7"/>
<line x1="173.5" y1="367.18" x2="180.5" y2="367.18" stroke="#9a9a9a" stroke-width="0.7"/>
<line x1="177" y1="372.65" x2="177" y2="361.7" stroke="#9a9a9a" stroke-width="0.7"/>
<line x1="175" y1="372.65" x2="179" y2="372.65" stroke="#9a9a9a" stroke-width="0.7"/>
<line x1="175" y1="361.7" x2="179" y2="361.7" stroke="#9a9a9a" stroke-width="0.7"/>
<circle cx="188" cy="362.92" r="2" fill="#f04a3a" stroke="#f04a3a" stroke-width="0.6" fill-opacity="0.7"/>
<circle cx="191" cy="364.14" r="2" fill="#f04a3a" stroke="#f04a3a" stroke-width="0.6" fill-opacity="0.7"/>
<circle cx="190" cy="371.43" r="2" fill="#f04a3a" stroke="#f04a3a" stroke-width="0.6" fill-opacity="0.7"/>
<circle cx="192" cy="373.86" r="2" fill="#f04a3a" stroke="#f04a3a" stroke-width="0.6" fill-opacity="0.7"/>
<circle cx="190" cy="378.73" r="2" fill="#f04a3a" stroke="#f04a3a" stroke-width="0.6" fill-opacity="0.7"/>
<circle cx="190" cy="382.38" r="2" fill="#f04a3a" stroke="#f04a3a" stroke-width="0.6" fill-opacity="0.7"/>
<line x1="186.5" y1="372.65" x2="193.5" y2="372.65" stroke="#f04a3a" stroke-width="0.7"/>
<line x1="190" y1="379.94" x2="190" y2="365.96" stroke="#f04a3a" stroke-width="0.7"/>
<line x1="188" y1="379.94" x2="192" y2="379.94" stroke="#f04a3a" stroke-width="0.7"/>
<line x1="188" y1="365.96" x2="192" y2="365.96" stroke="#f04a3a" stroke-width="0.7"/>
<circle cx="202" cy="361.7" r="2" fill="#4a5cf5" stroke="#4a5cf5" stroke-width="0.6" fill-opacity="0.7"/>
<circle cx="204" cy="379.94" r="2" fill="#4a5cf5" stroke="#4a5cf5" stroke-width="0.6" fill-opacity="0.7"/>
<circle cx="200" cy="383.59" r="2" fill="#4a5cf5" stroke="#4a5cf5" stroke-width="0.6" fill-opacity="0.7"/>
<circle cx="203" cy="386.02" r="2" fill="#4a5cf5" stroke="#4a5cf5" stroke-width="0.6" fill-opacity="0.7"/>
<circle cx="201" cy="388.46" r="2" fill="#4a5cf5" stroke="#4a5cf5" stroke-width="0.6" fill-opacity="0.7"/>
<circle cx="201" cy="392.1" r="2" fill="#4a5cf5" stroke="#4a5cf5" stroke-width="0.6" fill-opacity="0.7"/>
<line x1="199.1" y1="384.2" x2="206.1" y2="384.2" stroke="#4a5cf5" stroke-width="0.7"/>
<line x1="202.6" y1="394.54" x2="202.6" y2="372.65" stroke="#4a5cf5" stroke-width="0.7"/>
<line x1="200.6" y1="394.54" x2="204.6" y2="394.54" stroke="#4a5cf5" stroke-width="0.7"/>
<line x1="200.6" y1="372.65" x2="204.6" y2="372.65" stroke="#4a5cf5" stroke-width="0.7"/>
<polyline points="177,343.1 177,338.6 202.4,338.6 202.4,343.1" fill="none" stroke="#333" stroke-width="0.6"/>
<text x="189.3" y="339" font-size="9.2" font-weight="bold" text-anchor="middle" fill="#111">*</text>
<polyline points="177,356 177,352 188.4,352 188.4,357" fill="none" stroke="#333" stroke-width="0.6"/>
<text x="183" y="349.47" font-size="5.2" text-anchor="middle" font-weight="normal" fill="#111">ns</text>
<polyline points="190.6,357 190.6,352 202.4,352 202.4,357" fill="none" stroke="#333" stroke-width="0.6"/>
<text x="196.5" y="349.47" font-size="5.2" text-anchor="middle" font-weight="normal" fill="#111">ns</text>
<line x1="244.4" y1="338" x2="244.4" y2="399.4" stroke="#858585" stroke-width="0.8"/>
<line x1="244.4" y1="399.4" x2="317.8" y2="399.4" stroke="#858585" stroke-width="0.8"/>
<line x1="244.4" y1="399.4" x2="244.4" y2="401" stroke="#858585" stroke-width="0.8"/>
<text x="244.4" y="409.53" font-size="7.3" text-anchor="middle" font-weight="normal" fill="#111">0</text>
<line x1="266.6" y1="399.4" x2="266.6" y2="401" stroke="#858585" stroke-width="0.8"/>
<text x="266.6" y="409.53" font-size="7.3" text-anchor="middle" font-weight="normal" fill="#111">2</text>
<line x1="288.8" y1="399.4" x2="288.8" y2="401" stroke="#858585" stroke-width="0.8"/>
<text x="288.8" y="409.53" font-size="7.3" text-anchor="middle" font-weight="normal" fill="#111">4</text>
<line x1="311" y1="399.4" x2="311" y2="401" stroke="#858585" stroke-width="0.8"/>
<text x="311" y="409.53" font-size="7.3" text-anchor="middle" font-weight="normal" fill="#111">6</text>
<line x1="242.8" y1="399.4" x2="244.4" y2="399.4" stroke="#858585" stroke-width="0.8"/>
<text x="241.4" y="402.03" font-size="7.3" text-anchor="end" font-weight="normal" fill="#111">0</text>
<line x1="242.8" y1="371.4" x2="244.4" y2="371.4" stroke="#858585" stroke-width="0.8"/>
<text x="241.4" y="374.03" font-size="7.3" text-anchor="end" font-weight="normal" fill="#111">50</text>
<line x1="242.8" y1="343.4" x2="244.4" y2="343.4" stroke="#858585" stroke-width="0.8"/>
<text x="241.4" y="346.03" font-size="7.3" text-anchor="end" font-weight="normal" fill="#111">100</text>
<text x="223.6" y="369.4" font-size="7.5" text-anchor="middle" font-weight="normal" fill="#111" transform="rotate(-90 223.6 366.7)">PFS (%)</text>
<text x="281" y="418.63" font-size="7.3" text-anchor="middle" font-weight="normal" fill="#111">Weeks</text>
<polyline points="262.16,351.24 266.6,351.24 266.6,359.64 273.26,359.64 273.26,375.32 284.36,375.32 284.36,399.4" fill="none" stroke="#2424ff" stroke-width="1.6" stroke-linejoin="round" stroke-linejoin="miter"/>
<polyline points="262.16,361.88 266.6,361.88 266.6,399.4" fill="none" stroke="#ff2a1a" stroke-width="1.6" stroke-linejoin="round" stroke-linejoin="miter"/>
<polyline points="244.4,343.4 262.16,343.4 262.16,399.4" fill="none" stroke="#7d7d7d" stroke-width="1.6" stroke-linejoin="round" stroke-linejoin="miter"/>
<line x1="306" y1="346" x2="312" y2="346" stroke="#7d7d7d" stroke-width="1.5"/>
<text x="317" y="348.52" font-size="7" text-anchor="start" font-weight="normal" fill="#111">CD19.CAR (1)</text>
<line x1="306" y1="356" x2="312" y2="356" stroke="#ff2a1a" stroke-width="1.5"/>
<text x="317" y="358.52" font-size="7" text-anchor="start" font-weight="normal" fill="#111">GPC2.CAR (2)</text>
<line x1="306" y1="365.6" x2="312" y2="365.6" stroke="#2424ff" stroke-width="1.5"/>
<text x="317" y="368.12" font-size="7" text-anchor="start" font-weight="normal" fill="#111">GPC2.CAR-GD2.BiCE (3)</text>
<line x1="366.4" y1="343" x2="366.4" y2="358" stroke="#666" stroke-width="0.6"/>
<text x="369.6" y="354.7" font-size="7.8" font-weight="bold" text-anchor="middle" fill="#111">*</text>
<line x1="401" y1="355" x2="401" y2="370" stroke="#666" stroke-width="0.6"/>
<text x="404.8" y="365.5" font-size="7.8" font-weight="bold" text-anchor="middle" fill="#111">**</text>
<line x1="408.6" y1="344" x2="408.6" y2="370" stroke="#666" stroke-width="0.6"/>
<text x="415" y="360.5" font-size="7.8" font-weight="bold" text-anchor="middle" fill="#111">***</text>
<text x="2" y="439.2" font-size="11.5" font-weight="bold" text-anchor="start" fill="#000">f</text>
<rect x="64" y="430" width="353" height="12.4" fill="#ece8f1" stroke="none" stroke-width="0"/>
<text x="240" y="438.97" font-size="7.7" text-anchor="middle" font-weight="normal" fill="#111">No effector cells</text>
<rect x="11" y="471" width="21.3" height="71.5" fill="#f0f0f0" stroke="none" stroke-width="0"/>
<text x="17.4" y="509.21" font-size="7.8" text-anchor="middle" font-weight="normal" fill="#111" transform="rotate(-90 17.4 506.4)">COG-N-561x</text>
<text x="26.6" y="509.21" font-size="7.8" text-anchor="middle" fill="#111" transform="rotate(-90 26.6 506.4)">(GPC2<tspan font-size="4.68" dy="-2.65">Mo</tspan><tspan dy="2.65">/GD2</tspan><tspan font-size="4.68" dy="-2.65">Hi</tspan><tspan dy="2.65">)</tspan></text>
<line x1="71" y1="475" x2="71" y2="537" stroke="#858585" stroke-width="0.8"/>
<line x1="71" y1="537" x2="145.5" y2="537" stroke="#858585" stroke-width="0.8"/>
<line x1="71" y1="537" x2="71" y2="538.6" stroke="#858585" stroke-width="0.8"/>
<text x="71" y="547.13" font-size="7.3" text-anchor="middle" font-weight="normal" fill="#111">0</text>
<line x1="95.6" y1="537" x2="95.6" y2="538.6" stroke="#858585" stroke-width="0.8"/>
<text x="95.6" y="547.13" font-size="7.3" text-anchor="middle" font-weight="normal" fill="#111">2</text>
<line x1="120.2" y1="537" x2="120.2" y2="538.6" stroke="#858585" stroke-width="0.8"/>
<text x="120.2" y="547.13" font-size="7.3" text-anchor="middle" font-weight="normal" fill="#111">4</text>
<line x1="144.8" y1="537" x2="144.8" y2="538.6" stroke="#858585" stroke-width="0.8"/>
<text x="144.8" y="547.13" font-size="7.3" text-anchor="middle" font-weight="normal" fill="#111">6</text>
<line x1="69.4" y1="537" x2="71" y2="537" stroke="#858585" stroke-width="0.8"/>
<text x="66.5" y="539.63" font-size="7.3" text-anchor="end" font-weight="normal" fill="#111">0.0</text>
<line x1="69.4" y1="523" x2="71" y2="523" stroke="#858585" stroke-width="0.8"/>
<text x="66.5" y="525.63" font-size="7.3" text-anchor="end" font-weight="normal" fill="#111">0.5</text>
<line x1="69.4" y1="509" x2="71" y2="509" stroke="#858585" stroke-width="0.8"/>
<text x="66.5" y="511.63" font-size="7.3" text-anchor="end" font-weight="normal" fill="#111">1.0</text>
<line x1="69.4" y1="495" x2="71" y2="495" stroke="#858585" stroke-width="0.8"/>
<text x="66.5" y="497.63" font-size="7.3" text-anchor="end" font-weight="normal" fill="#111">1.5</text>
<line x1="69.4" y1="481" x2="71" y2="481" stroke="#858585" stroke-width="0.8"/>
<text x="66.5" y="483.63" font-size="7.3" text-anchor="end" font-weight="normal" fill="#111">2.0</text>
<text x="51" y="507.74" font-size="7.6" text-anchor="middle" fill="#111" transform="rotate(-90 51 505)">Tumor volume (cm<tspan font-size="5.32" dy="-3.19">3</tspan><tspan dy="3.19">)</tspan></text>
<text x="104" y="557.03" font-size="7.3" text-anchor="middle" font-weight="normal" fill="#111">Weeks</text>
<line x1="83.3" y1="523" x2="83.3" y2="509" stroke="#7d7d7d" stroke-width="0.5"/>
<line x1="82.3" y1="523" x2="84.3" y2="523" stroke="#7d7d7d" stroke-width="0.5"/>
<line x1="82.3" y1="509" x2="84.3" y2="509" stroke="#7d7d7d" stroke-width="0.5"/>
<line x1="90.68" y1="499.2" x2="90.68" y2="476.8" stroke="#7d7d7d" stroke-width="0.5"/>
<line x1="89.68" y1="499.2" x2="91.68" y2="499.2" stroke="#7d7d7d" stroke-width="0.5"/>
<line x1="89.68" y1="476.8" x2="91.68" y2="476.8" stroke="#7d7d7d" stroke-width="0.5"/>
<line x1="78.38" y1="532.8" x2="78.38" y2="530" stroke="#2424ff" stroke-width="0.5"/>
<line x1="77.38" y1="532.8" x2="79.38" y2="532.8" stroke="#2424ff" stroke-width="0.5"/>
<line x1="77.38" y1="530" x2="79.38" y2="530" stroke="#2424ff" stroke-width="0.5"/>
<line x1="95.6" y1="527.2" x2="95.6" y2="521.6" stroke="#2424ff" stroke-width="0.5"/>
<line x1="94.6" y1="527.2" x2="96.6" y2="527.2" stroke="#2424ff" stroke-width="0.5"/>
<line x1="94.6" y1="521.6" x2="96.6" y2="521.6" stroke="#2424ff" stroke-width="0.5"/>
<line x1="102.98" y1="523" x2="102.98" y2="500.6" stroke="#2424ff" stroke-width="0.5"/>
<line x1="101.98" y1="523" x2="103.98" y2="523" stroke="#2424ff" stroke-width="0.5"/>
<line x1="101.98" y1="500.6" x2="103.98" y2="500.6" stroke="#2424ff" stroke-width="0.5"/>
<line x1="106.67" y1="516" x2="106.67" y2="478.2" stroke="#2424ff" stroke-width="0.5"/>
<line x1="105.67" y1="516" x2="107.67" y2="516" stroke="#2424ff" stroke-width="0.5"/>
<line x1="105.67" y1="478.2" x2="107.67" y2="478.2" stroke="#2424ff" stroke-width="0.5"/>
<line x1="90.68" y1="535.6" x2="90.68" y2="518.8" stroke="#ff2a1a" stroke-width="0.5"/>
<line x1="89.68" y1="535.6" x2="91.68" y2="535.6" stroke="#ff2a1a" stroke-width="0.5"/>
<line x1="89.68" y1="518.8" x2="91.68" y2="518.8" stroke="#ff2a1a" stroke-width="0.5"/>
<line x1="95.6" y1="534.2" x2="95.6" y2="517.4" stroke="#ff2a1a" stroke-width="0.5"/>
<line x1="94.6" y1="534.2" x2="96.6" y2="534.2" stroke="#ff2a1a" stroke-width="0.5"/>
<line x1="94.6" y1="517.4" x2="96.6" y2="517.4" stroke="#ff2a1a" stroke-width="0.5"/>
<line x1="102.98" y1="532.8" x2="102.98" y2="504.8" stroke="#ff2a1a" stroke-width="0.5"/>
<line x1="101.98" y1="532.8" x2="103.98" y2="532.8" stroke="#ff2a1a" stroke-width="0.5"/>
<line x1="101.98" y1="504.8" x2="103.98" y2="504.8" stroke="#ff2a1a" stroke-width="0.5"/>
<line x1="106.67" y1="527.2" x2="106.67" y2="486.6" stroke="#ff2a1a" stroke-width="0.5"/>
<line x1="105.67" y1="527.2" x2="107.67" y2="527.2" stroke="#ff2a1a" stroke-width="0.5"/>
<line x1="105.67" y1="486.6" x2="107.67" y2="486.6" stroke="#ff2a1a" stroke-width="0.5"/>
<polyline points="71,532.24 78.38,525.8 83.3,516 90.68,488" fill="none" stroke="#7d7d7d" stroke-width="1.75" stroke-linejoin="round"/>
<polyline points="71,532.24 78.38,531.4 83.3,533.64 90.68,533.36 95.6,524.4 102.98,510.4 106.67,496.4" fill="none" stroke="#2424ff" stroke-width="1.75" stroke-linejoin="round"/>
<polyline points="71,532.24 78.38,532.24 83.3,532.8 90.68,527.2 95.6,525.8 102.98,518.8 106.67,506.2" fill="none" stroke="#ff2a1a" stroke-width="1.75" stroke-linejoin="round"/>
<text x="191" y="450.63" font-size="7.3" text-anchor="middle" font-weight="normal" fill="#111">Day 14</text>
<line x1="173" y1="475.5" x2="173" y2="536.4" stroke="#858585" stroke-width="0.8"/>
<line x1="173" y1="536.4" x2="216" y2="536.4" stroke="#858585" stroke-width="0.8"/>
<line x1="182.4" y1="536.4" x2="182.4" y2="538" stroke="#858585" stroke-width="0.8"/>
<text x="182.4" y="546.53" font-size="7.3" text-anchor="middle" font-weight="normal" fill="#111">(1)</text>
<line x1="195.4" y1="536.4" x2="195.4" y2="538" stroke="#858585" stroke-width="0.8"/>
<text x="195.4" y="546.53" font-size="7.3" text-anchor="middle" font-weight="normal" fill="#111">(2)</text>
<line x1="208" y1="536.4" x2="208" y2="538" stroke="#858585" stroke-width="0.8"/>
<text x="208" y="546.53" font-size="7.3" text-anchor="middle" font-weight="normal" fill="#111">(3)</text>
<line x1="171.4" y1="536.4" x2="173" y2="536.4" stroke="#858585" stroke-width="0.8"/>
<text x="169" y="539.03" font-size="7.3" text-anchor="end" font-weight="normal" fill="#111">0</text>
<line x1="171.4" y1="521.3" x2="173" y2="521.3" stroke="#858585" stroke-width="0.8"/>
<text x="169" y="523.93" font-size="7.3" text-anchor="end" font-weight="normal" fill="#111">1</text>
<line x1="171.4" y1="506.2" x2="173" y2="506.2" stroke="#858585" stroke-width="0.8"/>
<text x="169" y="508.83" font-size="7.3" text-anchor="end" font-weight="normal" fill="#111">2</text>
<line x1="171.4" y1="491.1" x2="173" y2="491.1" stroke="#858585" stroke-width="0.8"/>
<text x="169" y="493.73" font-size="7.3" text-anchor="end" font-weight="normal" fill="#111">3</text>
<line x1="171.4" y1="476" x2="173" y2="476" stroke="#858585" stroke-width="0.8"/>
<text x="169" y="478.63" font-size="7.3" text-anchor="end" font-weight="normal" fill="#111">4</text>
<text x="160.5" y="508.24" font-size="7.6" text-anchor="middle" fill="#111" transform="rotate(-90 160.5 505.5)">Tumor volume (cm<tspan font-size="5.32" dy="-3.19">3</tspan><tspan dy="3.19">)</tspan></text>
<circle cx="182.4" cy="482.79" r="2" fill="#9a9a9a" stroke="#9a9a9a" stroke-width="0.6" fill-opacity="0.7"/>
<circle cx="184.5" cy="506.95" r="2" fill="#9a9a9a" stroke="#9a9a9a" stroke-width="0.6" fill-opacity="0.7"/>
<circle cx="180.5" cy="508.46" r="2" fill="#9a9a9a" stroke="#9a9a9a" stroke-width="0.6" fill-opacity="0.7"/>
<line x1="178.9" y1="498.65" x2="185.9" y2="498.65" stroke="#9a9a9a" stroke-width="0.7"/>
<line x1="182.4" y1="513" x2="182.4" y2="483.55" stroke="#9a9a9a" stroke-width="0.7"/>
<line x1="180.4" y1="513" x2="184.4" y2="513" stroke="#9a9a9a" stroke-width="0.7"/>
<line x1="180.4" y1="483.55" x2="184.4" y2="483.55" stroke="#9a9a9a" stroke-width="0.7"/>
<circle cx="195.4" cy="516.77" r="2" fill="#f04a3a" stroke="#f04a3a" stroke-width="0.6" fill-opacity="0.7"/>
<circle cx="197" cy="534.89" r="2" fill="#f04a3a" stroke="#f04a3a" stroke-width="0.6" fill-opacity="0.7"/>
<circle cx="193.5" cy="535.64" r="2" fill="#f04a3a" stroke="#f04a3a" stroke-width="0.6" fill-opacity="0.7"/>
<circle cx="195.4" cy="535.64" r="2" fill="#f04a3a" stroke="#f04a3a" stroke-width="0.6" fill-opacity="0.7"/>
<line x1="191.9" y1="531.12" x2="198.9" y2="531.12" stroke="#f04a3a" stroke-width="0.7"/>
<line x1="195.4" y1="536.4" x2="195.4" y2="521.3" stroke="#f04a3a" stroke-width="0.7"/>
<line x1="193.4" y1="536.4" x2="197.4" y2="536.4" stroke="#f04a3a" stroke-width="0.7"/>
<line x1="193.4" y1="521.3" x2="197.4" y2="521.3" stroke="#f04a3a" stroke-width="0.7"/>
<circle cx="208" cy="523.56" r="2" fill="#4a5cf5" stroke="#4a5cf5" stroke-width="0.6" fill-opacity="0.7"/>
<circle cx="209.5" cy="528.85" r="2" fill="#4a5cf5" stroke="#4a5cf5" stroke-width="0.6" fill-opacity="0.7"/>
<circle cx="206.5" cy="531.87" r="2" fill="#4a5cf5" stroke="#4a5cf5" stroke-width="0.6" fill-opacity="0.7"/>
<circle cx="208" cy="533.38" r="2" fill="#4a5cf5" stroke="#4a5cf5" stroke-width="0.6" fill-opacity="0.7"/>
<circle cx="210" cy="534.13" r="2" fill="#4a5cf5" stroke="#4a5cf5" stroke-width="0.6" fill-opacity="0.7"/>
<line x1="204.5" y1="531.12" x2="211.5" y2="531.12" stroke="#4a5cf5" stroke-width="0.7"/>
<line x1="208" y1="536.4" x2="208" y2="524.32" stroke="#4a5cf5" stroke-width="0.7"/>
<line x1="206" y1="536.4" x2="210" y2="536.4" stroke="#4a5cf5" stroke-width="0.7"/>
<line x1="206" y1="524.32" x2="210" y2="524.32" stroke="#4a5cf5" stroke-width="0.7"/>
<polyline points="182.4,466 182.4,461 208,461 208,466" fill="none" stroke="#333" stroke-width="0.6"/>
<text x="195.2" y="461.6" font-size="9.2" font-weight="bold" text-anchor="middle" fill="#111">**</text>
<polyline points="182.4,478.4 182.4,474.4 194,474.4 194,526.4" fill="none" stroke="#333" stroke-width="0.6"/>
<text x="188.2" y="475" font-size="9.2" font-weight="bold" text-anchor="middle" fill="#111">**</text>
<polyline points="196.6,526.4 196.6,474.4 208,474.4 208,522.4" fill="none" stroke="#333" stroke-width="0.6"/>
<text x="202.3" y="472.27" font-size="5.2" text-anchor="middle" font-weight="normal" fill="#111">ns</text>
<line x1="244" y1="476" x2="244" y2="537" stroke="#858585" stroke-width="0.8"/>
<line x1="244" y1="537" x2="318.5" y2="537" stroke="#858585" stroke-width="0.8"/>
<line x1="244" y1="537" x2="244" y2="538.6" stroke="#858585" stroke-width="0.8"/>
<text x="244" y="547.13" font-size="7.3" text-anchor="middle" font-weight="normal" fill="#111">0</text>
<line x1="260.4" y1="537" x2="260.4" y2="538.6" stroke="#858585" stroke-width="0.8"/>
<text x="260.4" y="547.13" font-size="7.3" text-anchor="middle" font-weight="normal" fill="#111">2</text>
<line x1="276.8" y1="537" x2="276.8" y2="538.6" stroke="#858585" stroke-width="0.8"/>
<text x="276.8" y="547.13" font-size="7.3" text-anchor="middle" font-weight="normal" fill="#111">4</text>
<line x1="293.2" y1="537" x2="293.2" y2="538.6" stroke="#858585" stroke-width="0.8"/>
<text x="293.2" y="547.13" font-size="7.3" text-anchor="middle" font-weight="normal" fill="#111">6</text>
<line x1="309.6" y1="537" x2="309.6" y2="538.6" stroke="#858585" stroke-width="0.8"/>
<text x="309.6" y="547.13" font-size="7.3" text-anchor="middle" font-weight="normal" fill="#111">8</text>
<line x1="242.4" y1="537" x2="244" y2="537" stroke="#858585" stroke-width="0.8"/>
<text x="241" y="539.63" font-size="7.3" text-anchor="end" font-weight="normal" fill="#111">0</text>
<line x1="242.4" y1="509" x2="244" y2="509" stroke="#858585" stroke-width="0.8"/>
<text x="241" y="511.63" font-size="7.3" text-anchor="end" font-weight="normal" fill="#111">50</text>
<line x1="242.4" y1="481" x2="244" y2="481" stroke="#858585" stroke-width="0.8"/>
<text x="241" y="483.63" font-size="7.3" text-anchor="end" font-weight="normal" fill="#111">100</text>
<text x="223.6" y="507" font-size="7.5" text-anchor="middle" font-weight="normal" fill="#111" transform="rotate(-90 223.6 504.3)">PFS (%)</text>
<text x="281" y="555.38" font-size="6.6" text-anchor="middle" font-weight="normal" fill="#111">Weeks</text>
<polyline points="268.52,495 268.6,495 268.6,509 280.08,509 280.08,523 289.92,523 289.92,537" fill="none" stroke="#2424ff" stroke-width="1.6" stroke-linejoin="round" stroke-linejoin="miter"/>
<polyline points="257.12,481 265.32,481 265.32,495 273.52,495 273.52,509 289.92,509 289.92,523 293.2,523 293.2,537" fill="none" stroke="#ff2a1a" stroke-width="1.6" stroke-linejoin="round" stroke-linejoin="miter"/>
<polyline points="244,481 257.12,481 257.12,499.48 259.58,499.48 259.58,518.52 265.32,518.52 265.32,537" fill="none" stroke="#7d7d7d" stroke-width="1.6" stroke-linejoin="round" stroke-linejoin="miter"/>
<line x1="308" y1="480.6" x2="316" y2="480.6" stroke="#7d7d7d" stroke-width="1.5"/>
<text x="320" y="483.12" font-size="7" text-anchor="start" font-weight="normal" fill="#111">CD19.CAR (1)</text>
<line x1="308" y1="490.6" x2="316" y2="490.6" stroke="#ff2a1a" stroke-width="1.5"/>
<text x="320" y="493.12" font-size="7" text-anchor="start" font-weight="normal" fill="#111">GPC2.CAR (2)</text>
<line x1="308" y1="500.6" x2="316" y2="500.6" stroke="#2424ff" stroke-width="1.5"/>
<text x="320" y="503.12" font-size="7" text-anchor="start" font-weight="normal" fill="#111">GPC2.CAR-GD2.BiCE (3)</text>
<line x1="369.6" y1="479" x2="369.6" y2="494" stroke="#666" stroke-width="0.6"/>
<text x="373.2" y="489.7" font-size="7.8" font-weight="bold" text-anchor="middle" fill="#111">*</text>
<line x1="404.4" y1="490" x2="404.4" y2="505" stroke="#666" stroke-width="0.6"/>
<text x="411" y="500.52" font-size="7" text-anchor="middle" font-weight="normal" fill="#111">ns</text>
<line x1="416.6" y1="480" x2="416.6" y2="505" stroke="#666" stroke-width="0.6"/>
<text x="421" y="495.5" font-size="7.8" font-weight="bold" text-anchor="middle" fill="#111">*</text>
<text x="1.5" y="580.8" font-size="11.5" font-weight="bold" text-anchor="start" fill="#000">g</text>
<rect x="69" y="581" width="179" height="12.6" fill="#ece8f1" stroke="none" stroke-width="0"/>
<text x="158.5" y="590.07" font-size="7.7" text-anchor="middle" font-weight="normal" fill="#111">Monocytes</text>
<rect x="5" y="599" width="21" height="72" fill="#f0f0f0" stroke="none" stroke-width="0"/>
<text x="11.6" y="637.81" font-size="7.8" text-anchor="middle" font-weight="normal" fill="#111" transform="rotate(-90 11.6 635)">COG-N-561x</text>
<text x="21" y="637.81" font-size="7.8" text-anchor="middle" fill="#111" transform="rotate(-90 21 635)">(GPC2<tspan font-size="4.68" dy="-2.65">Mo</tspan><tspan dy="2.65">/GD2</tspan><tspan font-size="4.68" dy="-2.65">Hi</tspan><tspan dy="2.65">)</tspan></text>
<line x1="69" y1="602" x2="69" y2="664.6" stroke="#858585" stroke-width="0.8"/>
<line x1="69" y1="664.6" x2="143.8" y2="664.6" stroke="#858585" stroke-width="0.8"/>
<line x1="69" y1="664.6" x2="69" y2="666.2" stroke="#858585" stroke-width="0.8"/>
<text x="69" y="674.73" font-size="7.3" text-anchor="middle" font-weight="normal" fill="#111">0</text>
<line x1="93.6" y1="664.6" x2="93.6" y2="666.2" stroke="#858585" stroke-width="0.8"/>
<text x="93.6" y="674.73" font-size="7.3" text-anchor="middle" font-weight="normal" fill="#111">2</text>
<line x1="118.2" y1="664.6" x2="118.2" y2="666.2" stroke="#858585" stroke-width="0.8"/>
<text x="118.2" y="674.73" font-size="7.3" text-anchor="middle" font-weight="normal" fill="#111">4</text>
<line x1="142.8" y1="664.6" x2="142.8" y2="666.2" stroke="#858585" stroke-width="0.8"/>
<text x="142.8" y="674.73" font-size="7.3" text-anchor="middle" font-weight="normal" fill="#111">6</text>
<line x1="67.4" y1="664.6" x2="69" y2="664.6" stroke="#858585" stroke-width="0.8"/>
<text x="65" y="667.23" font-size="7.3" text-anchor="end" font-weight="normal" fill="#111">0</text>
<line x1="67.4" y1="644.1" x2="69" y2="644.1" stroke="#858585" stroke-width="0.8"/>
<text x="65" y="646.73" font-size="7.3" text-anchor="end" font-weight="normal" fill="#111">1</text>
<line x1="67.4" y1="623.6" x2="69" y2="623.6" stroke="#858585" stroke-width="0.8"/>
<text x="65" y="626.23" font-size="7.3" text-anchor="end" font-weight="normal" fill="#111">2</text>
<line x1="67.4" y1="603.1" x2="69" y2="603.1" stroke="#858585" stroke-width="0.8"/>
<text x="65" y="605.73" font-size="7.3" text-anchor="end" font-weight="normal" fill="#111">3</text>
<text x="49.4" y="637.44" font-size="7.6" text-anchor="middle" fill="#111" transform="rotate(-90 49.4 634.7)">Tumor volume (cm<tspan font-size="5.32" dy="-3.19">3</tspan><tspan dy="3.19">)</tspan></text>
<text x="103" y="684.63" font-size="7.3" text-anchor="middle" font-weight="normal" fill="#111">Weeks</text>
<line x1="98.52" y1="645.12" x2="98.52" y2="640" stroke="#7d7d7d" stroke-width="0.5"/>
<line x1="97.52" y1="645.12" x2="99.52" y2="645.12" stroke="#7d7d7d" stroke-width="0.5"/>
<line x1="97.52" y1="640" x2="99.52" y2="640" stroke="#7d7d7d" stroke-width="0.5"/>
<line x1="102.21" y1="631.8" x2="102.21" y2="622.58" stroke="#7d7d7d" stroke-width="0.5"/>
<line x1="101.21" y1="631.8" x2="103.21" y2="631.8" stroke="#7d7d7d" stroke-width="0.5"/>
<line x1="101.21" y1="622.58" x2="103.21" y2="622.58" stroke="#7d7d7d" stroke-width="0.5"/>
<line x1="110.82" y1="616.43" x2="110.82" y2="606.18" stroke="#7d7d7d" stroke-width="0.5"/>
<line x1="109.82" y1="616.43" x2="111.82" y2="616.43" stroke="#7d7d7d" stroke-width="0.5"/>
<line x1="109.82" y1="606.18" x2="111.82" y2="606.18" stroke="#7d7d7d" stroke-width="0.5"/>
<line x1="123.12" y1="658.45" x2="123.12" y2="646.15" stroke="#2424ff" stroke-width="0.5"/>
<line x1="122.12" y1="658.45" x2="124.12" y2="658.45" stroke="#2424ff" stroke-width="0.5"/>
<line x1="122.12" y1="646.15" x2="124.12" y2="646.15" stroke="#2424ff" stroke-width="0.5"/>
<line x1="129.27" y1="654.35" x2="129.27" y2="632.83" stroke="#2424ff" stroke-width="0.5"/>
<line x1="128.27" y1="654.35" x2="130.27" y2="654.35" stroke="#2424ff" stroke-width="0.5"/>
<line x1="128.27" y1="632.83" x2="130.27" y2="632.83" stroke="#2424ff" stroke-width="0.5"/>
<line x1="135.42" y1="643.08" x2="135.42" y2="626.68" stroke="#2424ff" stroke-width="0.5"/>
<line x1="134.42" y1="643.08" x2="136.42" y2="643.08" stroke="#2424ff" stroke-width="0.5"/>
<line x1="134.42" y1="626.68" x2="136.42" y2="626.68" stroke="#2424ff" stroke-width="0.5"/>
<line x1="141.57" y1="638.98" x2="141.57" y2="614.38" stroke="#2424ff" stroke-width="0.5"/>
<line x1="140.57" y1="638.98" x2="142.57" y2="638.98" stroke="#2424ff" stroke-width="0.5"/>
<line x1="140.57" y1="614.38" x2="142.57" y2="614.38" stroke="#2424ff" stroke-width="0.5"/>
<line x1="92.37" y1="662.55" x2="92.37" y2="658.45" stroke="#ff2a1a" stroke-width="0.5"/>
<line x1="91.37" y1="662.55" x2="93.37" y2="662.55" stroke="#ff2a1a" stroke-width="0.5"/>
<line x1="91.37" y1="658.45" x2="93.37" y2="658.45" stroke="#ff2a1a" stroke-width="0.5"/>
<line x1="98.52" y1="663.58" x2="98.52" y2="654.35" stroke="#ff2a1a" stroke-width="0.5"/>
<line x1="97.52" y1="663.58" x2="99.52" y2="663.58" stroke="#ff2a1a" stroke-width="0.5"/>
<line x1="97.52" y1="654.35" x2="99.52" y2="654.35" stroke="#ff2a1a" stroke-width="0.5"/>
<line x1="102.21" y1="662.55" x2="102.21" y2="648.2" stroke="#ff2a1a" stroke-width="0.5"/>
<line x1="101.21" y1="662.55" x2="103.21" y2="662.55" stroke="#ff2a1a" stroke-width="0.5"/>
<line x1="101.21" y1="648.2" x2="103.21" y2="648.2" stroke="#ff2a1a" stroke-width="0.5"/>
<line x1="110.82" y1="657.43" x2="110.82" y2="636.93" stroke="#ff2a1a" stroke-width="0.5"/>
<line x1="109.82" y1="657.43" x2="111.82" y2="657.43" stroke="#ff2a1a" stroke-width="0.5"/>
<line x1="109.82" y1="636.93" x2="111.82" y2="636.93" stroke="#ff2a1a" stroke-width="0.5"/>
<line x1="116.97" y1="647.18" x2="116.97" y2="621.55" stroke="#ff2a1a" stroke-width="0.5"/>
<line x1="115.97" y1="647.18" x2="117.97" y2="647.18" stroke="#ff2a1a" stroke-width="0.5"/>
<line x1="115.97" y1="621.55" x2="117.97" y2="621.55" stroke="#ff2a1a" stroke-width="0.5"/>
<line x1="123.12" y1="633.85" x2="123.12" y2="610.27" stroke="#ff2a1a" stroke-width="0.5"/>
<line x1="122.12" y1="633.85" x2="124.12" y2="633.85" stroke="#ff2a1a" stroke-width="0.5"/>
<line x1="122.12" y1="610.27" x2="124.12" y2="610.27" stroke="#ff2a1a" stroke-width="0.5"/>
<line x1="129.27" y1="623.6" x2="129.27" y2="607.2" stroke="#ff2a1a" stroke-width="0.5"/>
<line x1="128.27" y1="623.6" x2="130.27" y2="623.6" stroke="#ff2a1a" stroke-width="0.5"/>
<line x1="128.27" y1="607.2" x2="130.27" y2="607.2" stroke="#ff2a1a" stroke-width="0.5"/>
<polyline points="69,662.96 93.6,663.37 110.82,663.58 118.2,663.58 142.8,664.19" fill="none" stroke="#4ea736" stroke-width="1.75" stroke-linejoin="round"/>
<polyline points="69,661.52 81.3,660.5 86.22,658.45 92.37,655.38 98.52,642.05 102.21,627.7 110.82,612.33" fill="none" stroke="#7d7d7d" stroke-width="1.75" stroke-linejoin="round"/>
<polyline points="69,662.14 81.3,662.96 92.37,663.58 110.82,663.17 116.97,659.48 123.12,652.3 129.27,643.08 135.42,634.88 141.57,626.68" fill="none" stroke="#2424ff" stroke-width="1.75" stroke-linejoin="round"/>
<polyline points="69,661.52 81.3,661.52 92.37,660.5 98.52,658.45 102.21,655.38 110.82,646.15 116.97,636.93 123.12,621.55 129.27,615.4" fill="none" stroke="#ff2a1a" stroke-width="1.75" stroke-linejoin="round"/>
<line x1="175.6" y1="603.6" x2="175.6" y2="664.6" stroke="#858585" stroke-width="0.8"/>
<line x1="175.6" y1="664.6" x2="249" y2="664.6" stroke="#858585" stroke-width="0.8"/>
<line x1="175.6" y1="664.6" x2="175.6" y2="666.2" stroke="#858585" stroke-width="0.8"/>
<text x="175.6" y="674.73" font-size="7.3" text-anchor="middle" font-weight="normal" fill="#111">0</text>
<line x1="192.06" y1="664.6" x2="192.06" y2="666.2" stroke="#858585" stroke-width="0.8"/>
<text x="192.06" y="674.73" font-size="7.3" text-anchor="middle" font-weight="normal" fill="#111">2</text>
<line x1="208.52" y1="664.6" x2="208.52" y2="666.2" stroke="#858585" stroke-width="0.8"/>
<text x="208.52" y="674.73" font-size="7.3" text-anchor="middle" font-weight="normal" fill="#111">4</text>
<line x1="224.98" y1="664.6" x2="224.98" y2="666.2" stroke="#858585" stroke-width="0.8"/>
<text x="224.98" y="674.73" font-size="7.3" text-anchor="middle" font-weight="normal" fill="#111">6</text>
<line x1="241.44" y1="664.6" x2="241.44" y2="666.2" stroke="#858585" stroke-width="0.8"/>
<text x="241.44" y="674.73" font-size="7.3" text-anchor="middle" font-weight="normal" fill="#111">8</text>
<line x1="174" y1="664.6" x2="175.6" y2="664.6" stroke="#858585" stroke-width="0.8"/>
<text x="172.6" y="667.23" font-size="7.3" text-anchor="end" font-weight="normal" fill="#111">0</text>
<line x1="174" y1="636.8" x2="175.6" y2="636.8" stroke="#858585" stroke-width="0.8"/>
<text x="172.6" y="639.43" font-size="7.3" text-anchor="end" font-weight="normal" fill="#111">50</text>
<line x1="174" y1="609" x2="175.6" y2="609" stroke="#858585" stroke-width="0.8"/>
<text x="172.6" y="611.63" font-size="7.3" text-anchor="end" font-weight="normal" fill="#111">100</text>
<text x="155.1" y="635.6" font-size="7.5" text-anchor="middle" font-weight="normal" fill="#111" transform="rotate(-90 155.1 632.9)">PFS (%)</text>
<text x="212" y="683.83" font-size="6.2" text-anchor="middle" font-weight="normal" fill="#111">Weeks</text>
<polyline points="215.93,609 236.5,609 236.5,609" fill="none" stroke="#4ea736" stroke-width="1.6" stroke-linejoin="round" stroke-linejoin="miter"/>
<polyline points="203.58,609 215.93,609 215.93,620.12 220.04,620.12 220.04,631.24 224.16,631.24 224.16,642.36 228.27,642.36 228.27,653.48 236.5,653.48 236.5,653.48" fill="none" stroke="#2424ff" stroke-width="1.6" stroke-linejoin="round" stroke-linejoin="miter"/>
<polyline points="197.82,609 203.58,609 203.58,622.9 207.7,622.9 207.7,636.8 215.93,636.8 215.93,650.7 220.04,650.7 220.04,664.6" fill="none" stroke="#ff2a1a" stroke-width="1.6" stroke-linejoin="round" stroke-linejoin="miter"/>
<polyline points="175.6,609 197.82,609 197.82,636.8 203.58,636.8 203.58,655.15 207.7,655.15 207.7,664.6" fill="none" stroke="#7d7d7d" stroke-width="1.6" stroke-linejoin="round" stroke-linejoin="miter"/>
<line x1="166" y1="694.4" x2="174" y2="694.4" stroke="#7d7d7d" stroke-width="1.5"/>
<text x="177" y="696.78" font-size="6.6" text-anchor="start" font-weight="normal" fill="#111">CD19.CAR</text>
<line x1="166" y1="703.4" x2="174" y2="703.4" stroke="#ff2a1a" stroke-width="1.5"/>
<text x="177" y="705.78" font-size="6.6" text-anchor="start" font-weight="normal" fill="#111">GPC2.CAR</text>
<line x1="166" y1="711.8" x2="174" y2="711.8" stroke="#2424ff" stroke-width="1.5"/>
<text x="177" y="714.18" font-size="6.6" text-anchor="start" font-weight="normal" fill="#111">GPC2.CAR-GD2.BiCE</text>
<line x1="166" y1="721" x2="174" y2="721" stroke="#4ea736" stroke-width="1.5"/>
<text x="177" y="723.38" font-size="6.6" text-anchor="start" font-weight="normal" fill="#111">GPC2.CAR + anti-GD2 mAb</text>
<text x="260.67" y="723.1" font-size="5" text-anchor="start" font-weight="normal" fill="#111">(***)</text>
<line x1="213.6" y1="692" x2="213.6" y2="708" stroke="#666" stroke-width="0.6"/>
<text x="216.6" y="702.9" font-size="7.8" font-weight="bold" text-anchor="middle" fill="#111">*</text>
<line x1="247.6" y1="701" x2="247.6" y2="716" stroke="#666" stroke-width="0.6"/>
<text x="250.6" y="712.7" font-size="7.8" font-weight="bold" text-anchor="middle" fill="#111">*</text>
<line x1="255.6" y1="690" x2="255.6" y2="716" stroke="#666" stroke-width="0.6"/>
<text x="261.3" y="706.7" font-size="7.8" font-weight="bold" text-anchor="middle" fill="#111">**</text>
<text x="263.4" y="580.4" font-size="11.5" font-weight="bold" text-anchor="start" fill="#000">h</text>
<rect x="287" y="581" width="175" height="12.6" fill="#ece8f1" stroke="none" stroke-width="0"/>
<text x="374.5" y="590.07" font-size="7.7" text-anchor="middle" font-weight="normal" fill="#111">NK-cells</text>
<line x1="288" y1="602" x2="288" y2="664.4" stroke="#858585" stroke-width="0.8"/>
<line x1="288" y1="664.4" x2="362.8" y2="664.4" stroke="#858585" stroke-width="0.8"/>
<line x1="288" y1="664.4" x2="288" y2="666" stroke="#858585" stroke-width="0.8"/>
<text x="288" y="674.53" font-size="7.3" text-anchor="middle" font-weight="normal" fill="#111">0</text>
<line x1="312.6" y1="664.4" x2="312.6" y2="666" stroke="#858585" stroke-width="0.8"/>
<text x="312.6" y="674.53" font-size="7.3" text-anchor="middle" font-weight="normal" fill="#111">2</text>
<line x1="337.2" y1="664.4" x2="337.2" y2="666" stroke="#858585" stroke-width="0.8"/>
<text x="337.2" y="674.53" font-size="7.3" text-anchor="middle" font-weight="normal" fill="#111">4</text>
<line x1="361.8" y1="664.4" x2="361.8" y2="666" stroke="#858585" stroke-width="0.8"/>
<text x="361.8" y="674.53" font-size="7.3" text-anchor="middle" font-weight="normal" fill="#111">6</text>
<line x1="286.4" y1="664.4" x2="288" y2="664.4" stroke="#858585" stroke-width="0.8"/>
<text x="284" y="667.03" font-size="7.3" text-anchor="end" font-weight="normal" fill="#111">0</text>
<line x1="286.4" y1="643.93" x2="288" y2="643.93" stroke="#858585" stroke-width="0.8"/>
<text x="284" y="646.56" font-size="7.3" text-anchor="end" font-weight="normal" fill="#111">1</text>
<line x1="286.4" y1="623.46" x2="288" y2="623.46" stroke="#858585" stroke-width="0.8"/>
<text x="284" y="626.09" font-size="7.3" text-anchor="end" font-weight="normal" fill="#111">2</text>
<line x1="286.4" y1="602.99" x2="288" y2="602.99" stroke="#858585" stroke-width="0.8"/>
<text x="284" y="605.62" font-size="7.3" text-anchor="end" font-weight="normal" fill="#111">3</text>
<text x="267" y="636.74" font-size="7.6" text-anchor="middle" fill="#111" transform="rotate(-90 267 634)">Tumor volume (cm<tspan font-size="5.32" dy="-3.19">3</tspan><tspan dy="3.19">)</tspan></text>
<text x="321" y="684.63" font-size="7.3" text-anchor="middle" font-weight="normal" fill="#111">Weeks</text>
<line x1="317.52" y1="645.98" x2="317.52" y2="641.88" stroke="#7d7d7d" stroke-width="0.5"/>
<line x1="316.52" y1="645.98" x2="318.52" y2="645.98" stroke="#7d7d7d" stroke-width="0.5"/>
<line x1="316.52" y1="641.88" x2="318.52" y2="641.88" stroke="#7d7d7d" stroke-width="0.5"/>
<line x1="321.21" y1="631.65" x2="321.21" y2="622.44" stroke="#7d7d7d" stroke-width="0.5"/>
<line x1="320.21" y1="631.65" x2="322.21" y2="631.65" stroke="#7d7d7d" stroke-width="0.5"/>
<line x1="320.21" y1="622.44" x2="322.21" y2="622.44" stroke="#7d7d7d" stroke-width="0.5"/>
<line x1="329.82" y1="617.32" x2="329.82" y2="607.08" stroke="#7d7d7d" stroke-width="0.5"/>
<line x1="328.82" y1="617.32" x2="330.82" y2="617.32" stroke="#7d7d7d" stroke-width="0.5"/>
<line x1="328.82" y1="607.08" x2="330.82" y2="607.08" stroke="#7d7d7d" stroke-width="0.5"/>
<line x1="342.12" y1="662.35" x2="342.12" y2="655.19" stroke="#2424ff" stroke-width="0.5"/>
<line x1="341.12" y1="662.35" x2="343.12" y2="662.35" stroke="#2424ff" stroke-width="0.5"/>
<line x1="341.12" y1="655.19" x2="343.12" y2="655.19" stroke="#2424ff" stroke-width="0.5"/>
<line x1="348.27" y1="655.19" x2="348.27" y2="638.81" stroke="#2424ff" stroke-width="0.5"/>
<line x1="347.27" y1="655.19" x2="349.27" y2="655.19" stroke="#2424ff" stroke-width="0.5"/>
<line x1="347.27" y1="638.81" x2="349.27" y2="638.81" stroke="#2424ff" stroke-width="0.5"/>
<line x1="335.97" y1="660.31" x2="335.97" y2="655.19" stroke="#ff2a1a" stroke-width="0.5"/>
<line x1="334.97" y1="660.31" x2="336.97" y2="660.31" stroke="#ff2a1a" stroke-width="0.5"/>
<line x1="334.97" y1="655.19" x2="336.97" y2="655.19" stroke="#ff2a1a" stroke-width="0.5"/>
<line x1="342.12" y1="658.26" x2="342.12" y2="643.93" stroke="#ff2a1a" stroke-width="0.5"/>
<line x1="341.12" y1="658.26" x2="343.12" y2="658.26" stroke="#ff2a1a" stroke-width="0.5"/>
<line x1="341.12" y1="643.93" x2="343.12" y2="643.93" stroke="#ff2a1a" stroke-width="0.5"/>
<line x1="348.27" y1="656.21" x2="348.27" y2="630.62" stroke="#ff2a1a" stroke-width="0.5"/>
<line x1="347.27" y1="656.21" x2="349.27" y2="656.21" stroke="#ff2a1a" stroke-width="0.5"/>
<line x1="347.27" y1="630.62" x2="349.27" y2="630.62" stroke="#ff2a1a" stroke-width="0.5"/>
<polyline points="288,661.94 300.3,663.79 312.6,664.2 348.27,664.2" fill="none" stroke="#4ea736" stroke-width="1.75" stroke-linejoin="round"/>
<polyline points="288,661.33 300.3,659.28 305.22,658.26 311.37,655.19 317.52,643.93 321.21,627.55 329.82,612.2" fill="none" stroke="#7d7d7d" stroke-width="1.75" stroke-linejoin="round"/>
<polyline points="288,660.92 300.3,663.38 311.37,663.99 317.52,663.99 329.82,663.79 335.97,662.97 342.12,658.67 348.27,647" fill="none" stroke="#2424ff" stroke-width="1.75" stroke-linejoin="round"/>
<polyline points="288,661.94 300.3,663.38 311.37,663.99 317.52,662.97 321.21,661.94 329.82,660.72 335.97,658.26 342.12,651.09 348.27,643.52" fill="none" stroke="#ff2a1a" stroke-width="1.75" stroke-linejoin="round"/>
<line x1="386.4" y1="604.4" x2="386.4" y2="665" stroke="#858585" stroke-width="0.8"/>
<line x1="386.4" y1="665" x2="459.8" y2="665" stroke="#858585" stroke-width="0.8"/>
<line x1="386.4" y1="665" x2="386.4" y2="666.6" stroke="#858585" stroke-width="0.8"/>
<text x="386.4" y="675.13" font-size="7.3" text-anchor="middle" font-weight="normal" fill="#111">0</text>
<line x1="402.7" y1="665" x2="402.7" y2="666.6" stroke="#858585" stroke-width="0.8"/>
<text x="402.7" y="675.13" font-size="7.3" text-anchor="middle" font-weight="normal" fill="#111">2</text>
<line x1="419" y1="665" x2="419" y2="666.6" stroke="#858585" stroke-width="0.8"/>
<text x="419" y="675.13" font-size="7.3" text-anchor="middle" font-weight="normal" fill="#111">4</text>
<line x1="435.3" y1="665" x2="435.3" y2="666.6" stroke="#858585" stroke-width="0.8"/>
<text x="435.3" y="675.13" font-size="7.3" text-anchor="middle" font-weight="normal" fill="#111">6</text>
<line x1="451.6" y1="665" x2="451.6" y2="666.6" stroke="#858585" stroke-width="0.8"/>
<text x="451.6" y="675.13" font-size="7.3" text-anchor="middle" font-weight="normal" fill="#111">8</text>
<line x1="384.8" y1="665" x2="386.4" y2="665" stroke="#858585" stroke-width="0.8"/>
<text x="383.4" y="667.63" font-size="7.3" text-anchor="end" font-weight="normal" fill="#111">0</text>
<line x1="384.8" y1="637.2" x2="386.4" y2="637.2" stroke="#858585" stroke-width="0.8"/>
<text x="383.4" y="639.83" font-size="7.3" text-anchor="end" font-weight="normal" fill="#111">50</text>
<line x1="384.8" y1="609.4" x2="386.4" y2="609.4" stroke="#858585" stroke-width="0.8"/>
<text x="383.4" y="612.03" font-size="7.3" text-anchor="end" font-weight="normal" fill="#111">100</text>
<text x="365.5" y="635.2" font-size="7.5" text-anchor="middle" font-weight="normal" fill="#111" transform="rotate(-90 365.5 632.5)">PFS (%)</text>
<text x="423" y="683.83" font-size="6.2" text-anchor="middle" font-weight="normal" fill="#111">Weeks</text>
<polyline points="426.33,609.4 451.6,609.4 451.6,609.4" fill="none" stroke="#4ea736" stroke-width="1.6" stroke-linejoin="round" stroke-linejoin="miter"/>
<polyline points="422.26,609.4 426.33,609.4 426.33,620.52 430.41,620.52 430.41,631.64 442.63,631.64 442.63,642.76 446.71,642.76 446.71,653.88 451.6,653.88 451.6,653.88" fill="none" stroke="#2424ff" stroke-width="1.6" stroke-linejoin="round" stroke-linejoin="miter"/>
<polyline points="408.4,609.4 422.26,609.4 422.26,620.52 430.41,620.52 430.41,631.64 451.6,631.64 451.6,631.64" fill="none" stroke="#ff2a1a" stroke-width="1.6" stroke-linejoin="round" stroke-linejoin="miter"/>
<polyline points="386.4,609.4 408.4,609.4 408.4,637.2 414.11,637.2 414.11,655.55 418.19,655.55 418.19,665" fill="none" stroke="#7d7d7d" stroke-width="1.6" stroke-linejoin="round" stroke-linejoin="miter"/>
<line x1="372.4" y1="694.4" x2="380.4" y2="694.4" stroke="#7d7d7d" stroke-width="1.5"/>
<text x="383.6" y="696.78" font-size="6.6" text-anchor="start" font-weight="normal" fill="#111">CD19.CAR</text>
<line x1="372.4" y1="703.4" x2="380.4" y2="703.4" stroke="#ff2a1a" stroke-width="1.5"/>
<text x="383.6" y="705.78" font-size="6.6" text-anchor="start" font-weight="normal" fill="#111">GPC2.CAR</text>
<line x1="372.4" y1="711.8" x2="380.4" y2="711.8" stroke="#2424ff" stroke-width="1.5"/>
<text x="383.6" y="714.18" font-size="6.6" text-anchor="start" font-weight="normal" fill="#111">GPC2.CAR-GD2.BiCE</text>
<line x1="372.4" y1="721" x2="380.4" y2="721" stroke="#4ea736" stroke-width="1.5"/>
<text x="383.6" y="723.38" font-size="6.6" text-anchor="start" font-weight="normal" fill="#111">GPC2.CAR + anti-GD2 mAb</text>
<text x="467.27" y="723.1" font-size="5" text-anchor="start" font-weight="normal" fill="#111">(****)</text>
<line x1="419.4" y1="691" x2="419.4" y2="708" stroke="#666" stroke-width="0.6"/>
<text x="426.2" y="702.9" font-size="7.8" font-weight="bold" text-anchor="middle" fill="#111">***</text>
<line x1="453.6" y1="701" x2="453.6" y2="717" stroke="#666" stroke-width="0.6"/>
<text x="457" y="713.68" font-size="8" text-anchor="start" font-weight="normal" fill="#111">ns</text>
<line x1="467.4" y1="690" x2="467.4" y2="717" stroke="#666" stroke-width="0.6"/>
<text x="474.2" y="706.9" font-size="7.8" font-weight="bold" text-anchor="middle" fill="#111">***</text>
<text x="451.4" y="206.6" font-size="11.5" font-weight="bold" text-anchor="start" fill="#000">j</text>
<rect x="462.4" y="205.6" width="182.6" height="12" fill="#ece8f1" stroke="none" stroke-width="0"/>
<text x="553.5" y="214.37" font-size="7.7" text-anchor="middle" font-weight="normal" fill="#111">GPC2.CAR-GD2.BiCE T-cells + NK-cells</text>
<clipPath id="cer1"><path d="M490.5,238.3 C492.08,237.05 493.8,235.42 496,234.5 C498.2,233.58 501.87,232.9 503.7,232.8 C505.53,232.7 506.18,232.7 507,233.9 C507.82,235.1 508.27,237.98 508.6,240 C508.93,242.02 509.18,244 509,246 C508.82,248 508.38,250.07 507.5,252 C506.62,253.93 505.8,256.03 503.7,257.6 C501.6,259.17 497.83,261.15 494.9,261.4 C491.97,261.65 487.83,261.13 486.1,259.1 C484.37,257.07 484.43,252.05 484.5,249.2 C484.57,246.35 485.5,243.82 486.5,242 C487.5,240.18 488.92,239.55 490.5,238.3 Z"/></clipPath>
<path d="M508.2,233.6 C509,232.22 512.5,232.18 515,231.7 C517.5,231.22 521.5,230.77 523.2,230.7 C524.9,230.63 524.52,231.65 525.2,231.3 C525.88,230.95 525.6,229.22 527.3,228.6 C529,227.98 532.33,227.5 535.4,227.6 C538.47,227.7 541.95,228.08 545.7,229.2 C549.45,230.32 553.98,232.6 557.9,234.3 C561.82,236 566.3,237.87 569.2,239.4 C572.1,240.93 573.95,241.97 575.3,243.5 C576.65,245.03 577.13,247.07 577.3,248.6 C577.47,250.13 576.93,251.38 576.3,252.7 C575.67,254.02 574.18,254.8 573.5,256.5 C572.82,258.2 572.58,260.82 572.2,262.9 C571.82,264.98 571.53,267.23 571.2,269 C570.87,270.77 571.05,272.13 570.2,273.5 C569.35,274.87 568.15,276.33 566.1,277.2 C564.05,278.07 561.3,278.8 557.9,278.7 C554.5,278.6 549.45,277.33 545.7,276.6 C541.95,275.87 538.47,275.35 535.4,274.3 C532.33,273.25 529.33,271.47 527.3,270.3 C525.27,269.13 524.33,267.72 523.2,267.3 C522.07,266.88 521.35,267.02 520.5,267.8 C519.65,268.58 519.08,270.17 518.1,272 C517.12,273.83 516.63,277.27 514.6,278.8 C512.57,280.33 509.18,280.87 505.9,281.2 C502.62,281.53 497.47,280.47 494.9,280.8 C492.33,281.13 492.33,281.33 490.5,283.2 C488.67,285.07 486.18,289.07 483.9,292 C481.62,294.93 478.98,299.43 476.8,300.8 C474.62,302.17 472.2,301.3 470.8,300.2 C469.4,299.1 468.45,296.73 468.4,294.2 C468.35,291.67 469.65,287.73 470.5,285 C471.35,282.27 472.17,280.3 473.5,277.8 C474.83,275.3 476.03,272.17 478.5,270 C480.97,267.83 485.22,265.97 488.3,264.8 C491.38,263.63 494.38,263.77 497,263 C499.62,262.23 502,261.28 504,260.2 C506,259.12 507.95,258.37 509,256.5 C510.05,254.63 510.1,251.75 510.3,249 C510.5,246.25 510.55,242.57 510.2,240 C509.85,237.43 507.4,234.98 508.2,233.6 Z" fill="#ed9de9" stroke="#e593e2" stroke-width="0.4"/>
<path d="M527.3,228.9 C527.87,226.88 532.33,227.8 535.4,227.9 C538.47,228 541.95,228.38 545.7,229.5 C549.45,230.62 553.98,232.9 557.9,234.6 C561.82,236.3 566.3,238.17 569.2,239.7 C572.1,241.23 574,242.32 575.3,243.8 C576.6,245.28 576.88,247.12 577,248.6 C577.12,250.08 576.63,251.47 576,252.7 C575.37,253.93 573.9,254.28 573.2,256 C572.5,257.72 572.67,262 571.8,263 C570.93,264 569.63,263.33 568,262 C566.37,260.67 564.17,257.5 562,255 C559.83,252.5 557.5,249 555,247 C552.5,245 549.83,243.67 547,243 C544.17,242.33 540.5,243.5 538,243 C535.5,242.5 533.78,242.35 532,240 C530.22,237.65 526.73,230.92 527.3,228.9 Z" fill="#efaaec" opacity="0.8"/>
<path d="M490.5,238.3 C492.08,237.05 493.8,235.42 496,234.5 C498.2,233.58 501.87,232.9 503.7,232.8 C505.53,232.7 506.18,232.7 507,233.9 C507.82,235.1 508.27,237.98 508.6,240 C508.93,242.02 509.18,244 509,246 C508.82,248 508.38,250.07 507.5,252 C506.62,253.93 505.8,256.03 503.7,257.6 C501.6,259.17 497.83,261.15 494.9,261.4 C491.97,261.65 487.83,261.13 486.1,259.1 C484.37,257.07 484.43,252.05 484.5,249.2 C484.57,246.35 485.5,243.82 486.5,242 C487.5,240.18 488.92,239.55 490.5,238.3 Z" fill="#d282d6" stroke="#b866c4" stroke-width="0.6"/>
<g clip-path="url(#cer1)">
<line x1="495.9" y1="258.87" x2="478.7" y2="270.91" stroke="#a94cba" stroke-width="1.4" stroke-linecap="round"/>
<line x1="493.63" y1="258.9" x2="481.8" y2="264.29" stroke="#f0b4ee" stroke-width="0.6" stroke-linecap="round"/>
<line x1="495.15" y1="257.21" x2="474.77" y2="262.29" stroke="#a94cba" stroke-width="1.4" stroke-linecap="round"/>
<line x1="493.01" y1="256.43" x2="480.04" y2="257.22" stroke="#f0b4ee" stroke-width="0.6" stroke-linecap="round"/>
<line x1="495.04" y1="255.39" x2="474.19" y2="252.83" stroke="#a94cba" stroke-width="1.4" stroke-linecap="round"/>
<line x1="493.32" y1="253.9" x2="480.93" y2="249.99" stroke="#f0b4ee" stroke-width="0.6" stroke-linecap="round"/>
<line x1="495.59" y1="253.65" x2="477.04" y2="243.79" stroke="#a94cba" stroke-width="1.4" stroke-linecap="round"/>
<line x1="494.52" y1="251.64" x2="484.35" y2="243.55" stroke="#f0b4ee" stroke-width="0.6" stroke-linecap="round"/>
<line x1="496.72" y1="252.23" x2="482.94" y2="236.38" stroke="#a94cba" stroke-width="1.4" stroke-linecap="round"/>
<line x1="496.45" y1="249.97" x2="489.85" y2="238.77" stroke="#f0b4ee" stroke-width="0.6" stroke-linecap="round"/>
<line x1="498.29" y1="251.3" x2="491.11" y2="231.57" stroke="#a94cba" stroke-width="1.4" stroke-linecap="round"/>
<line x1="498.84" y1="249.1" x2="496.7" y2="236.27" stroke="#f0b4ee" stroke-width="0.6" stroke-linecap="round"/>
<line x1="500.09" y1="251" x2="500.45" y2="230" stroke="#a94cba" stroke-width="1.4" stroke-linecap="round"/>
<line x1="501.4" y1="249.14" x2="503.99" y2="236.4" stroke="#f0b4ee" stroke-width="0.6" stroke-linecap="round"/>
<line x1="501.87" y1="251.36" x2="509.74" y2="231.89" stroke="#a94cba" stroke-width="1.4" stroke-linecap="round"/>
<line x1="503.76" y1="250.1" x2="510.75" y2="239.13" stroke="#f0b4ee" stroke-width="0.6" stroke-linecap="round"/>
</g>
<path d="M535.4,241 Q537,236.5 541,236.8 Q546,237.5 547.7,245.5" fill="none" stroke="#d49be0" stroke-width="0.7"/>
<path d="M525.3,231.8 Q528,237 533.4,242.4" fill="none" stroke="#fdf6fd" stroke-width="1.1" stroke-linecap="round"/>
<path d="M550.5,245.8 L552,247.2" fill="none" stroke="#fdf6fd" stroke-width="1.1" stroke-linecap="round"/>
<path d="M555.5,248.6 Q560,253 561,258 Q561.5,263 562,266.5" fill="none" stroke="#fdf6fd" stroke-width="1.1" stroke-linecap="round"/>
<path d="M508.9,236 L509.2,255" fill="none" stroke="#fdf6fd" stroke-width="1.1" stroke-linecap="round"/>
<path d="M496,262 Q503,260.5 507.5,257.5" fill="none" stroke="#fdf6fd" stroke-width="1.1" stroke-linecap="round"/>
<rect x="496.4" y="266" width="11.6" height="6" fill="none" stroke="#444" stroke-width="0.6"/>
<line x1="496.4" y1="272" x2="465.8" y2="304.4" stroke="#444" stroke-width="0.45"/>
<line x1="508" y1="272" x2="546.2" y2="304.4" stroke="#444" stroke-width="0.45"/>
<text x="556" y="286.23" font-size="6.2" text-anchor="start" font-weight="bold" fill="#111">2 mm</text>
<line x1="555.6" y1="289" x2="570" y2="289" stroke="#111" stroke-width="1.3"/>
<rect x="465.6" y="304.4" width="80.8" height="53.6" fill="#eb9ae7" stroke="#6d6d6d" stroke-width="0.7"/>
<rect x="466.1" y="304.9" width="79.8" height="52.6" fill="#b07ee0" filter="url(#speck1)" opacity="0.6"/>
<text x="469.2" y="313.58" font-size="6.6" text-anchor="start" font-weight="normal" fill="#111">H&amp;E</text>
<text x="520" y="351.8" font-size="6.4" text-anchor="start" font-weight="normal" fill="#111">150 µm</text>
<line x1="530" y1="355" x2="543" y2="355" stroke="#111" stroke-width="1.2"/>
<line x1="549" y1="330.6" x2="557" y2="330.6" stroke="#111" stroke-width="1"/>
<polygon points="556.5,328.8 556.5,332.4 560,330.6" fill="#111"/>
<rect x="563.6" y="304.4" width="81" height="54" fill="#eeebef" stroke="#7a7a7a" stroke-width="0.7"/>
<rect x="564.1" y="304.9" width="80" height="53" fill="#c8c8ec" filter="url(#speck2)" opacity="0.5"/>
<text x="567.2" y="313.58" font-size="6.6" text-anchor="start" font-weight="normal" fill="#111">CD3</text>
<line x1="628" y1="355" x2="642" y2="355" stroke="#111" stroke-width="1.2"/>
<rect x="462" y="372" width="182.4" height="12.4" fill="#ece8f1" stroke="none" stroke-width="0"/>
<text x="552.8" y="380.97" font-size="7.7" text-anchor="middle" font-weight="normal" fill="#111">GPC2.CAR-GD2.BiCE T-cells + monocytes</text>
<clipPath id="cer2"><path d="M488,404.7 C490.07,403.37 494.32,400.68 496.4,400.5 C498.48,400.32 499.37,402.02 500.5,403.6 C501.63,405.18 502.77,407.93 503.2,410 C503.63,412.07 503.72,413.93 503.1,416 C502.48,418.07 501.32,420.47 499.5,422.4 C497.68,424.33 495.15,425.87 492.2,427.6 C489.25,429.33 484.23,432.45 481.8,432.8 C479.37,433.15 478.2,431.5 477.6,429.7 C477,427.9 477.67,424.43 478.2,422 C478.73,419.57 479.83,417.35 480.8,415.1 C481.77,412.85 482.8,410.23 484,408.5 C485.2,406.77 485.93,406.03 488,404.7 Z"/></clipPath>
<path d="M500.5,400.3 C501.12,399.7 503.5,398.53 505.75,398.4 C508,398.27 511.91,399.92 514,399.5 C516.09,399.08 516.3,397.05 518.3,395.9 C520.3,394.75 522.9,393.25 526,392.6 C529.1,391.95 533.27,391.82 536.9,392 C540.53,392.18 543.78,392.7 547.8,393.7 C551.82,394.7 556.8,396.55 561,398 C565.2,399.45 569.72,400.93 573,402.4 C576.28,403.87 578.97,405.33 580.7,406.8 C582.43,408.27 583.03,409.37 583.4,411.2 C583.77,413.03 583.53,415.98 582.9,417.8 C582.27,419.62 581.07,421.02 579.6,422.1 C578.13,423.18 575.75,423.57 574.1,424.3 C572.45,425.03 570.47,425.72 569.7,426.5 C568.93,427.28 569.13,428.08 569.5,429 C569.87,429.92 571.07,430.95 571.9,432 C572.73,433.05 574.13,434.2 574.5,435.3 C574.87,436.4 574.9,437.15 574.1,438.6 C573.3,440.05 571.7,442.55 569.7,444 C567.7,445.45 565.75,446.98 562.1,447.3 C558.45,447.62 552,446.42 547.8,445.9 C543.6,445.38 540,445.03 536.9,444.2 C533.8,443.37 531.02,441.8 529.2,440.9 C527.38,440 527.08,439.62 526,438.8 C524.92,437.98 523.62,436.37 522.7,436 C521.78,435.63 521.05,435.82 520.5,436.6 C519.95,437.38 519.95,439.28 519.4,440.7 C518.85,442.12 518.1,443.98 517.2,445.1 C516.3,446.22 516.25,446.67 514,447.4 C511.75,448.13 507.16,448.98 503.7,449.5 C500.24,450.02 496.03,450.17 493.25,450.5 C490.47,450.83 488.39,450.46 487,451.5 C485.61,452.54 485.6,455.18 484.9,456.75 C484.2,458.32 485.23,460.38 482.8,460.9 C480.37,461.42 472.73,460.93 470.3,459.9 C467.88,458.87 468.07,456.97 468.25,454.7 C468.43,452.43 470.19,448.92 471.4,446.3 C472.61,443.68 473.94,439.97 475.5,439 C477.06,438.03 480.05,440.83 480.75,440.5 C481.45,440.17 479.36,437.93 479.7,437 C480.04,436.07 480.54,436.08 482.8,434.9 C485.06,433.72 490.12,431.6 493.25,429.9 C496.38,428.2 499.76,426.68 501.6,424.7 C503.44,422.72 503.92,420.78 504.3,418 C504.68,415.22 504.28,410.67 503.9,408 C503.52,405.33 502.57,403.28 502,402 C501.43,400.72 499.88,400.9 500.5,400.3 Z" fill="#ed9de9" stroke="#e593e2" stroke-width="0.4"/>
<path d="M518.6,396.2 C519.27,395.02 522.95,393.55 526,392.9 C529.05,392.25 533.27,392.12 536.9,392.3 C540.53,392.48 543.78,393 547.8,394 C551.82,395 556.8,396.85 561,398.3 C565.2,399.75 569.77,401.25 573,402.7 C576.23,404.15 578.72,405.58 580.4,407 C582.08,408.42 582.73,409.4 583.1,411.2 C583.47,413 583.22,416.03 582.6,417.8 C581.98,419.57 580.83,420.77 579.4,421.8 C577.97,422.83 575.65,423.27 574,424 C572.35,424.73 571.33,426.03 569.5,426.2 C567.67,426.37 565.25,426.7 563,425 C560.75,423.3 558.17,418.67 556,416 C553.83,413.33 552.67,410.5 550,409 C547.33,407.5 543.33,407.5 540,407 C536.67,406.5 533,407.17 530,406 C527,404.83 523.9,401.63 522,400 C520.1,398.37 517.93,397.38 518.6,396.2 Z" fill="#efaaec" opacity="0.8"/>
<path d="M488,404.7 C490.07,403.37 494.32,400.68 496.4,400.5 C498.48,400.32 499.37,402.02 500.5,403.6 C501.63,405.18 502.77,407.93 503.2,410 C503.63,412.07 503.72,413.93 503.1,416 C502.48,418.07 501.32,420.47 499.5,422.4 C497.68,424.33 495.15,425.87 492.2,427.6 C489.25,429.33 484.23,432.45 481.8,432.8 C479.37,433.15 478.2,431.5 477.6,429.7 C477,427.9 477.67,424.43 478.2,422 C478.73,419.57 479.83,417.35 480.8,415.1 C481.77,412.85 482.8,410.23 484,408.5 C485.2,406.77 485.93,406.03 488,404.7 Z" fill="#d282d6" stroke="#b866c4" stroke-width="0.6"/>
<g clip-path="url(#cer2)">
<line x1="489.9" y1="427.87" x2="472.7" y2="439.91" stroke="#a94cba" stroke-width="1.4" stroke-linecap="round"/>
<line x1="487.63" y1="427.9" x2="475.8" y2="433.29" stroke="#f0b4ee" stroke-width="0.6" stroke-linecap="round"/>
<line x1="489.15" y1="426.21" x2="468.77" y2="431.29" stroke="#a94cba" stroke-width="1.4" stroke-linecap="round"/>
<line x1="487.01" y1="425.43" x2="474.04" y2="426.22" stroke="#f0b4ee" stroke-width="0.6" stroke-linecap="round"/>
<line x1="489.04" y1="424.39" x2="468.19" y2="421.83" stroke="#a94cba" stroke-width="1.4" stroke-linecap="round"/>
<line x1="487.32" y1="422.9" x2="474.93" y2="418.99" stroke="#f0b4ee" stroke-width="0.6" stroke-linecap="round"/>
<line x1="489.59" y1="422.65" x2="471.04" y2="412.79" stroke="#a94cba" stroke-width="1.4" stroke-linecap="round"/>
<line x1="488.52" y1="420.64" x2="478.35" y2="412.55" stroke="#f0b4ee" stroke-width="0.6" stroke-linecap="round"/>
<line x1="490.72" y1="421.23" x2="476.94" y2="405.38" stroke="#a94cba" stroke-width="1.4" stroke-linecap="round"/>
<line x1="490.45" y1="418.97" x2="483.85" y2="407.77" stroke="#f0b4ee" stroke-width="0.6" stroke-linecap="round"/>
<line x1="492.29" y1="420.3" x2="485.11" y2="400.57" stroke="#a94cba" stroke-width="1.4" stroke-linecap="round"/>
<line x1="492.84" y1="418.1" x2="490.7" y2="405.27" stroke="#f0b4ee" stroke-width="0.6" stroke-linecap="round"/>
<line x1="494.09" y1="420" x2="494.45" y2="399" stroke="#a94cba" stroke-width="1.4" stroke-linecap="round"/>
<line x1="495.4" y1="418.14" x2="497.99" y2="405.4" stroke="#f0b4ee" stroke-width="0.6" stroke-linecap="round"/>
<line x1="495.87" y1="420.36" x2="503.74" y2="400.89" stroke="#a94cba" stroke-width="1.4" stroke-linecap="round"/>
<line x1="497.76" y1="419.1" x2="504.75" y2="408.13" stroke="#f0b4ee" stroke-width="0.6" stroke-linecap="round"/>
</g>
<path d="M532.5,409 Q534,403.5 539,403.8 Q544,404.5 545.5,410" fill="none" stroke="#d49be0" stroke-width="0.7"/>
<path d="M519.4,401.3 Q525,405.5 531.4,407.9" fill="none" stroke="#fdf6fd" stroke-width="1.1" stroke-linecap="round"/>
<path d="M550,409 Q551.5,415 551.1,421" fill="none" stroke="#fdf6fd" stroke-width="1.1" stroke-linecap="round"/>
<path d="M502.5,404 L503.2,417" fill="none" stroke="#fdf6fd" stroke-width="1.1" stroke-linecap="round"/>
<path d="M483,434 Q492,429.5 500.5,424.5" fill="none" stroke="#fdf6fd" stroke-width="1.1" stroke-linecap="round"/>
<rect x="487" y="439.3" width="12" height="6" fill="none" stroke="#444" stroke-width="0.6"/>
<line x1="487" y1="445.3" x2="465.8" y2="466" stroke="#444" stroke-width="0.45"/>
<line x1="499" y1="445.3" x2="546.6" y2="466" stroke="#444" stroke-width="0.45"/>
<line x1="559.6" y1="452.4" x2="574" y2="452.4" stroke="#111" stroke-width="1.3"/>
<rect x="465.6" y="466" width="81.2" height="53" fill="#eb9ae7" stroke="#6d6d6d" stroke-width="0.7"/>
<rect x="466.1" y="466.5" width="80.2" height="52" fill="#b07ee0" filter="url(#speck3)" opacity="0.6"/>
<text x="469.2" y="475.18" font-size="6.6" text-anchor="start" font-weight="normal" fill="#111">H&amp;E</text>
<line x1="528" y1="516.4" x2="543" y2="516.4" stroke="#111" stroke-width="1.2"/>
<line x1="549" y1="494.6" x2="557" y2="494.6" stroke="#111" stroke-width="1"/>
<polygon points="556.5,492.8 556.5,496.4 560,494.6" fill="#111"/>
<rect x="563.6" y="466" width="81" height="53" fill="#eeebef" stroke="#7a7a7a" stroke-width="0.7"/>
<rect x="564.1" y="466.5" width="80" height="52" fill="#c8c8ec" filter="url(#speck4)" opacity="0.5"/>
<text x="567.2" y="475.18" font-size="6.6" text-anchor="start" font-weight="normal" fill="#111">CD3</text>
<line x1="628" y1="516.4" x2="642" y2="516.4" stroke="#111" stroke-width="1.2"/>
<text x="506.3" y="551.2" font-size="11.5" font-weight="bold" text-anchor="start" fill="#000">i</text>
<text x="584" y="554.63" font-size="7.3" text-anchor="middle" font-weight="normal" fill="#111">GPC2.CAR vs GPC2.CAR-GD2.BiCE</text>
<text x="584" y="562.93" font-size="7.3" text-anchor="middle" font-weight="normal" fill="#111">(day 30)</text>
<line x1="546.6" y1="581" x2="546.6" y2="645.6" stroke="#858585" stroke-width="0.8"/>
<line x1="546.6" y1="645.6" x2="622" y2="645.6" stroke="#858585" stroke-width="0.8"/>
<line x1="545" y1="645.6" x2="546.6" y2="645.6" stroke="#858585" stroke-width="0.8"/>
<text x="542.6" y="648.23" font-size="7.3" text-anchor="end" font-weight="normal" fill="#111">0</text>
<line x1="545" y1="629.6" x2="546.6" y2="629.6" stroke="#858585" stroke-width="0.8"/>
<text x="542.6" y="632.23" font-size="7.3" text-anchor="end" font-weight="normal" fill="#111">1</text>
<line x1="545" y1="613.6" x2="546.6" y2="613.6" stroke="#858585" stroke-width="0.8"/>
<text x="542.6" y="616.23" font-size="7.3" text-anchor="end" font-weight="normal" fill="#111">2</text>
<line x1="545" y1="597.6" x2="546.6" y2="597.6" stroke="#858585" stroke-width="0.8"/>
<text x="542.6" y="600.23" font-size="7.3" text-anchor="end" font-weight="normal" fill="#111">3</text>
<line x1="545" y1="581.6" x2="546.6" y2="581.6" stroke="#858585" stroke-width="0.8"/>
<text x="542.6" y="584.23" font-size="7.3" text-anchor="end" font-weight="normal" fill="#111">4</text>
<line x1="558.6" y1="645.6" x2="558.6" y2="647.2" stroke="#858585" stroke-width="0.8"/>
<line x1="576" y1="645.6" x2="576" y2="647.2" stroke="#858585" stroke-width="0.8"/>
<line x1="593" y1="645.6" x2="593" y2="647.2" stroke="#858585" stroke-width="0.8"/>
<line x1="610" y1="645.6" x2="610" y2="647.2" stroke="#858585" stroke-width="0.8"/>
<text x="531.8" y="613.74" font-size="7.6" text-anchor="middle" fill="#111" transform="rotate(-90 531.8 611)">Tumor volume (cm<tspan font-size="5.32" dy="-3.19">3</tspan><tspan dy="3.19">)</tspan></text>
<circle cx="554.6" cy="596.8" r="2.1" fill="#f0584a" stroke="#f0584a" stroke-width="0.6" fill-opacity="0.6"/>
<circle cx="562.6" cy="596.8" r="2.1" fill="#f0584a" stroke="#f0584a" stroke-width="0.6" fill-opacity="0.6"/>
<circle cx="558.6" cy="623.2" r="2.1" fill="#f0584a" stroke="#f0584a" stroke-width="0.6" fill-opacity="0.6"/>
<circle cx="558.6" cy="632" r="2.1" fill="#f0584a" stroke="#f0584a" stroke-width="0.6" fill-opacity="0.6"/>
<line x1="555" y1="612.8" x2="562.2" y2="612.8" stroke="#f0584a" stroke-width="0.7"/>
<line x1="558.6" y1="631.2" x2="558.6" y2="594.4" stroke="#f0584a" stroke-width="0.7"/>
<line x1="556.6" y1="631.2" x2="560.6" y2="631.2" stroke="#f0584a" stroke-width="0.7"/>
<line x1="556.6" y1="594.4" x2="560.6" y2="594.4" stroke="#f0584a" stroke-width="0.7"/>
<circle cx="576" cy="620" r="2.1" fill="#6070f5" stroke="#6070f5" stroke-width="0.6" fill-opacity="0.6"/>
<circle cx="576" cy="634.4" r="2.1" fill="#6070f5" stroke="#6070f5" stroke-width="0.6" fill-opacity="0.6"/>
<circle cx="572" cy="641.6" r="2.1" fill="#6070f5" stroke="#6070f5" stroke-width="0.6" fill-opacity="0.6"/>
<circle cx="580" cy="642.4" r="2.1" fill="#6070f5" stroke="#6070f5" stroke-width="0.6" fill-opacity="0.6"/>
<circle cx="572" cy="645.28" r="2.1" fill="#6070f5" stroke="#6070f5" stroke-width="0.6" fill-opacity="0.6"/>
<line x1="572.4" y1="636.48" x2="579.6" y2="636.48" stroke="#6070f5" stroke-width="0.7"/>
<line x1="576" y1="645.6" x2="576" y2="626.4" stroke="#6070f5" stroke-width="0.7"/>
<line x1="574" y1="645.6" x2="578" y2="645.6" stroke="#6070f5" stroke-width="0.7"/>
<line x1="574" y1="626.4" x2="578" y2="626.4" stroke="#6070f5" stroke-width="0.7"/>
<polygon points="593,609.54 590.8,613.5 595.2,613.5" fill="#f0584a" fill-opacity="0.55" stroke="#f0584a" stroke-width="0.6"/>
<polygon points="597,635.94 594.8,639.9 599.2,639.9" fill="#f0584a" fill-opacity="0.55" stroke="#f0584a" stroke-width="0.6"/>
<polygon points="593,639.14 590.8,643.1 595.2,643.1" fill="#f0584a" fill-opacity="0.55" stroke="#f0584a" stroke-width="0.6"/>
<polygon points="589,641.54 586.8,645.5 591.2,645.5" fill="#f0584a" fill-opacity="0.55" stroke="#f0584a" stroke-width="0.6"/>
<polygon points="597,641.86 594.8,645.82 599.2,645.82" fill="#f0584a" fill-opacity="0.55" stroke="#f0584a" stroke-width="0.6"/>
<line x1="589.4" y1="635.52" x2="596.6" y2="635.52" stroke="#f0584a" stroke-width="0.7"/>
<line x1="593" y1="645.6" x2="593" y2="622.4" stroke="#f0584a" stroke-width="0.7"/>
<line x1="591" y1="645.6" x2="595" y2="645.6" stroke="#f0584a" stroke-width="0.7"/>
<line x1="591" y1="622.4" x2="595" y2="622.4" stroke="#f0584a" stroke-width="0.7"/>
<polygon points="608,632.74 605.8,636.7 610.2,636.7" fill="#6070f5" fill-opacity="0.55" stroke="#6070f5" stroke-width="0.6"/>
<polygon points="613,635.94 610.8,639.9 615.2,639.9" fill="#6070f5" fill-opacity="0.55" stroke="#6070f5" stroke-width="0.6"/>
<polygon points="611,639.14 608.8,643.1 613.2,643.1" fill="#6070f5" fill-opacity="0.55" stroke="#6070f5" stroke-width="0.6"/>
<polygon points="606,642.34 603.8,646.3 608.2,646.3" fill="#6070f5" fill-opacity="0.55" stroke="#6070f5" stroke-width="0.6"/>
<polygon points="615,642.34 612.8,646.3 617.2,646.3" fill="#6070f5" fill-opacity="0.55" stroke="#6070f5" stroke-width="0.6"/>
<line x1="606.4" y1="641.6" x2="613.6" y2="641.6" stroke="#6070f5" stroke-width="0.7"/>
<line x1="610" y1="645.6" x2="610" y2="636" stroke="#6070f5" stroke-width="0.7"/>
<line x1="608" y1="645.6" x2="612" y2="645.6" stroke="#6070f5" stroke-width="0.7"/>
<line x1="608" y1="636" x2="612" y2="636" stroke="#6070f5" stroke-width="0.7"/>
<polyline points="558.4,578 558.4,573 611.4,573 611.4,630" fill="none" stroke="#333" stroke-width="0.6"/>
<text x="584.5" y="572.9" font-size="9.2" font-weight="bold" text-anchor="middle" fill="#111">*</text>
<polyline points="558.4,589.6 558.4,586.6 576.6,586.6 576.6,618.6" fill="none" stroke="#333" stroke-width="0.6"/>
<text x="567.4" y="586" font-size="9.2" font-weight="bold" text-anchor="middle" fill="#111">*</text>
<text x="559.8" y="656.3" font-size="7.1" text-anchor="end" fill="#111" transform="rotate(-58 559.8 656.3)">GPC2.CAR</text>
<text x="577.2" y="656.3" font-size="7.1" text-anchor="end" fill="#111" transform="rotate(-58 577.2 656.3)">GPC2.CAR-GD2.BiCE</text>
<text x="594.2" y="656.3" font-size="7.1" text-anchor="end" fill="#111" transform="rotate(-58 594.2 656.3)">GPC2.CAR</text>
<text x="611.2" y="656.3" font-size="7.1" text-anchor="end" fill="#111" transform="rotate(-58 611.2 656.3)">GPC2.CAR-GD2.BiCE</text>
<line x1="535.6" y1="718.6" x2="562" y2="718.6" stroke="#9a9a9a" stroke-width="1.2"/>
<line x1="570" y1="718.6" x2="598" y2="718.6" stroke="#9a9a9a" stroke-width="1.2"/>
<text x="549" y="726.93" font-size="7.3" text-anchor="middle" font-weight="normal" fill="#111">Monocytes</text>
<text x="584.8" y="726.93" font-size="7.3" text-anchor="middle" font-weight="normal" fill="#111">NK-cells</text></svg></body></html>
